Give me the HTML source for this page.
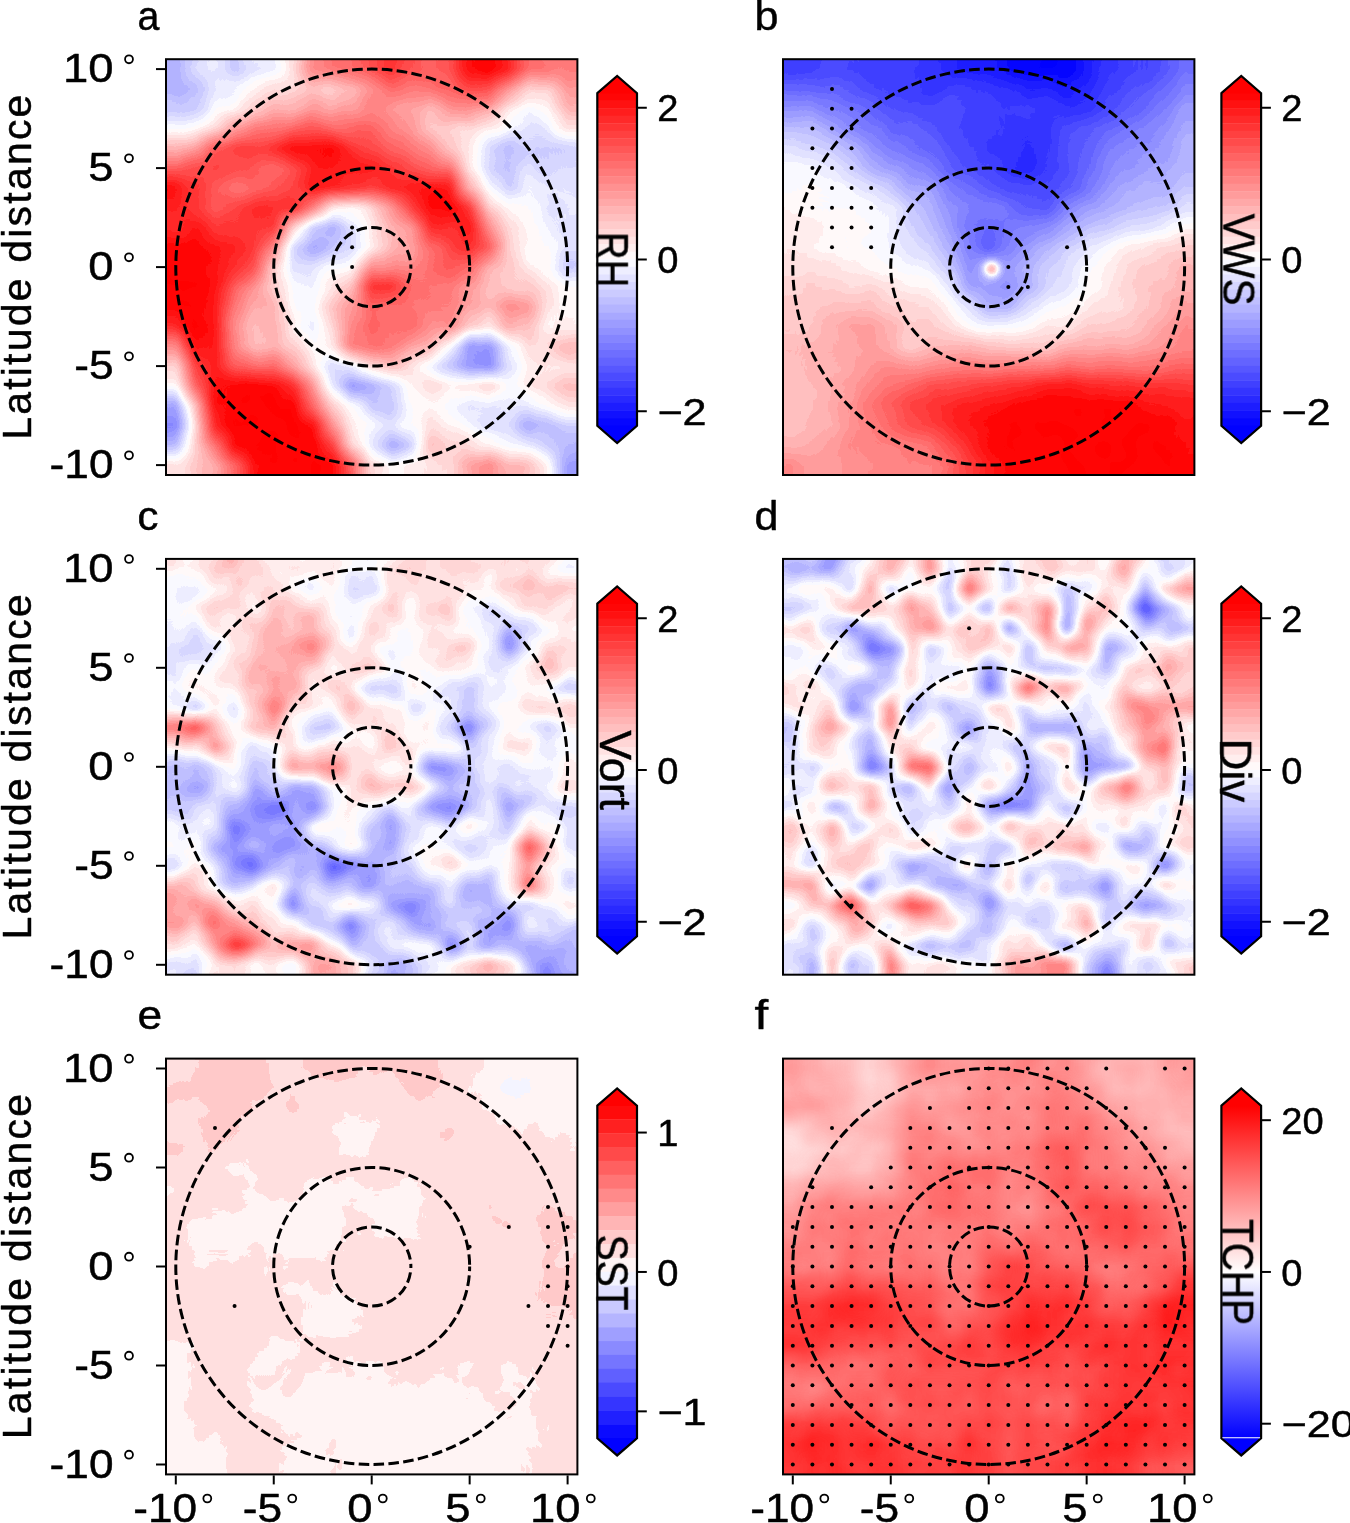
<!DOCTYPE html>
<html><head><meta charset="utf-8"><title>Composite anomalies</title>
<style>
html,body{margin:0;padding:0;background:#fff}
body{width:1350px;height:1523px;overflow:hidden}
svg{display:block}
text{font-family:"Liberation Sans",sans-serif;fill:#000;stroke:#000;stroke-width:.45px;stroke-linejoin:round}
.tl{font-size:40.6px}
.pl{font-size:41px}
.al{font-size:41px;letter-spacing:2.2px}
.ct{font-size:36.3px}
.cl{font-size:43.5px}
</style></head><body>
<svg width="1350" height="1523" viewBox="0 0 1350 1523">
<defs>
<linearGradient id="vr" x1="0" y1="0" x2="0" y2="1"><stop offset="0" stop-color="#fff" stop-opacity="0"/><stop offset=".5" stop-color="#fff" stop-opacity="1"/><stop offset="1" stop-color="#fff"/></linearGradient>
<mask id="vm" maskContentUnits="objectBoundingBox"><rect width="1" height="1" fill="url(#vr)"/></mask>
<linearGradient id="a0" gradientUnits="userSpaceOnUse" x1="166" x2="577.4" y1="0" y2="0"><stop offset=".024" stop-color="#5b5b5b"/><stop offset=".071" stop-color="#6d6d6d"/><stop offset=".119" stop-color="#767676"/><stop offset=".167" stop-color="#676767"/><stop offset=".214" stop-color="#767676"/><stop offset=".262" stop-color="#797979"/><stop offset=".310" stop-color="#8e8e8e"/><stop offset=".357" stop-color="#b6b6b6"/><stop offset=".405" stop-color="#c3c3c3"/><stop offset=".452" stop-color="#c9c9c9"/><stop offset=".500" stop-color="#d5d5d5"/><stop offset=".548" stop-color="#e1e1e1"/><stop offset=".595" stop-color="#d5d5d5"/><stop offset=".643" stop-color="#c9c9c9"/><stop offset=".690" stop-color="#d5d5d5"/><stop offset=".738" stop-color="#f3f3f3"/><stop offset=".786" stop-color="#f9f9f9"/><stop offset=".833" stop-color="#e7e7e7"/><stop offset=".881" stop-color="#c3c3c3"/><stop offset=".929" stop-color="#c3c3c3"/><stop offset=".976" stop-color="#bcbcbc"/></linearGradient>
<linearGradient id="a1" gradientUnits="userSpaceOnUse" x1="166" x2="577.4" y1="0" y2="0"><stop offset=".024" stop-color="#5b5b5b"/><stop offset=".071" stop-color="#616161"/><stop offset=".119" stop-color="#767676"/><stop offset=".167" stop-color="#797979"/><stop offset=".214" stop-color="#868686"/><stop offset=".262" stop-color="#8e8e8e"/><stop offset=".310" stop-color="#929292"/><stop offset=".357" stop-color="#9e9e9e"/><stop offset=".405" stop-color="#989898"/><stop offset=".452" stop-color="#9e9e9e"/><stop offset=".500" stop-color="#b6b6b6"/><stop offset=".548" stop-color="#c3c3c3"/><stop offset=".643" stop-color="#c3c3c3"/><stop offset=".690" stop-color="#c9c9c9"/><stop offset=".738" stop-color="#dbdbdb"/><stop offset=".786" stop-color="#d5d5d5"/><stop offset=".833" stop-color="#b6b6b6"/><stop offset=".881" stop-color="#989898"/><stop offset=".929" stop-color="#989898"/><stop offset=".976" stop-color="#b0b0b0"/></linearGradient>
<linearGradient id="a2" gradientUnits="userSpaceOnUse" x1="166" x2="577.4" y1="0" y2="0"><stop offset=".024" stop-color="#656565"/><stop offset=".071" stop-color="#676767"/><stop offset=".119" stop-color="#7c7c7c"/><stop offset=".167" stop-color="#838383"/><stop offset=".214" stop-color="#989898"/><stop offset=".262" stop-color="#a4a4a4"/><stop offset=".310" stop-color="#a7a7a7"/><stop offset=".357" stop-color="#b0b0b0"/><stop offset=".405" stop-color="#aaa"/><stop offset=".452" stop-color="#b0b0b0"/><stop offset=".500" stop-color="#bcbcbc"/><stop offset=".548" stop-color="#b0b0b0"/><stop offset=".595" stop-color="#aaa"/><stop offset=".643" stop-color="#a4a4a4"/><stop offset=".690" stop-color="#b0b0b0"/><stop offset=".738" stop-color="#b6b6b6"/><stop offset=".786" stop-color="#aaa"/><stop offset=".833" stop-color="#8c8c8c"/><stop offset=".881" stop-color="#797979"/><stop offset=".929" stop-color="#828282"/><stop offset=".976" stop-color="#a4a4a4"/></linearGradient>
<linearGradient id="a3" gradientUnits="userSpaceOnUse" x1="166" x2="577.4" y1="0" y2="0"><stop offset=".024" stop-color="#7d7d7d"/><stop offset=".071" stop-color="#808080"/><stop offset=".119" stop-color="#929292"/><stop offset=".167" stop-color="#b0b0b0"/><stop offset=".214" stop-color="#bcbcbc"/><stop offset=".262" stop-color="#c3c3c3"/><stop offset=".310" stop-color="#c9c9c9"/><stop offset=".357" stop-color="#cfcfcf"/><stop offset=".405" stop-color="#c9c9c9"/><stop offset=".500" stop-color="#c9c9c9"/><stop offset=".548" stop-color="#bcbcbc"/><stop offset=".595" stop-color="#b0b0b0"/><stop offset=".643" stop-color="#9a9a9a"/><stop offset=".690" stop-color="#989898"/><stop offset=".738" stop-color="#929292"/><stop offset=".786" stop-color="#868686"/><stop offset=".833" stop-color="#7d7d7d"/><stop offset=".881" stop-color="#737373"/><stop offset=".929" stop-color="#767676"/><stop offset=".976" stop-color="#8c8c8c"/></linearGradient>
<linearGradient id="a4" gradientUnits="userSpaceOnUse" x1="166" x2="577.4" y1="0" y2="0"><stop offset=".024" stop-color="#a4a4a4"/><stop offset=".071" stop-color="#b0b0b0"/><stop offset=".119" stop-color="#cfcfcf"/><stop offset=".167" stop-color="#dbdbdb"/><stop offset=".214" stop-color="#dbdbdb"/><stop offset=".262" stop-color="#e1e1e1"/><stop offset=".310" stop-color="#f3f3f3"/><stop offset=".357" stop-color="#f9f9f9"/><stop offset=".405" stop-color="#f3f3f3"/><stop offset=".452" stop-color="#e1e1e1"/><stop offset=".500" stop-color="#d5d5d5"/><stop offset=".548" stop-color="#cfcfcf"/><stop offset=".595" stop-color="#c3c3c3"/><stop offset=".643" stop-color="#b0b0b0"/><stop offset=".690" stop-color="#989898"/><stop offset=".738" stop-color="#868686"/><stop offset=".786" stop-color="#6d6d6d"/><stop offset=".833" stop-color="#5f5f5f"/><stop offset=".881" stop-color="#6a6a6a"/><stop offset=".929" stop-color="#676767"/><stop offset=".976" stop-color="#6d6d6d"/></linearGradient>
<linearGradient id="a5" gradientUnits="userSpaceOnUse" x1="166" x2="577.4" y1="0" y2="0"><stop offset=".024" stop-color="#c9c9c9"/><stop offset=".071" stop-color="#d5d5d5"/><stop offset=".119" stop-color="#dbdbdb"/><stop offset=".167" stop-color="#d5d5d5"/><stop offset=".214" stop-color="#cfcfcf"/><stop offset=".262" stop-color="#c9c9c9"/><stop offset=".310" stop-color="#d7d7d7"/><stop offset=".357" stop-color="#ededed"/><stop offset=".405" stop-color="#f0f0f0"/><stop offset=".452" stop-color="#f0f0f0"/><stop offset=".500" stop-color="#ededed"/><stop offset=".548" stop-color="#e1e1e1"/><stop offset=".595" stop-color="#d5d5d5"/><stop offset=".643" stop-color="#c9c9c9"/><stop offset=".690" stop-color="#c3c3c3"/><stop offset=".738" stop-color="#8c8c8c"/><stop offset=".786" stop-color="#717171"/><stop offset=".833" stop-color="#616161"/><stop offset=".881" stop-color="#737373"/><stop offset=".929" stop-color="#676767"/><stop offset=".976" stop-color="#717171"/></linearGradient>
<linearGradient id="a6" gradientUnits="userSpaceOnUse" x1="166" x2="577.4" y1="0" y2="0"><stop offset=".024" stop-color="#f3f3f3"/><stop offset=".071" stop-color="#e1e1e1"/><stop offset=".119" stop-color="#cfcfcf"/><stop offset=".167" stop-color="#c3c3c3"/><stop offset=".214" stop-color="#c9c9c9"/><stop offset=".262" stop-color="#cfcfcf"/><stop offset=".310" stop-color="#d7d7d7"/><stop offset=".357" stop-color="#ededed"/><stop offset=".405" stop-color="#e7e7e7"/><stop offset=".452" stop-color="#e1e1e1"/><stop offset=".500" stop-color="#dbdbdb"/><stop offset=".548" stop-color="#e7e7e7"/><stop offset=".595" stop-color="#ededed"/><stop offset=".643" stop-color="#f3f3f3"/><stop offset=".690" stop-color="#ededed"/><stop offset=".738" stop-color="#a4a4a4"/><stop offset=".786" stop-color="#7d7d7d"/><stop offset=".833" stop-color="#676767"/><stop offset=".881" stop-color="#7d7d7d"/><stop offset=".929" stop-color="#737373"/><stop offset=".976" stop-color="#767676"/></linearGradient>
<linearGradient id="a7" gradientUnits="userSpaceOnUse" x1="166" x2="577.4" y1="0" y2="0"><stop offset=".024" stop-color="#e7e7e7"/><stop offset=".071" stop-color="#e1e1e1"/><stop offset=".119" stop-color="#cfcfcf"/><stop offset=".167" stop-color="#d5d5d5"/><stop offset=".214" stop-color="#e7e7e7"/><stop offset=".262" stop-color="#e7e7e7"/><stop offset=".310" stop-color="#e1e1e1"/><stop offset=".357" stop-color="#bcbcbc"/><stop offset=".405" stop-color="#8c8c8c"/><stop offset=".452" stop-color="#808080"/><stop offset=".500" stop-color="#929292"/><stop offset=".548" stop-color="#b0b0b0"/><stop offset=".595" stop-color="#dbdbdb"/><stop offset=".643" stop-color="#f9f9f9"/><stop offset=".690" stop-color="#f9f9f9"/><stop offset=".738" stop-color="#dbdbdb"/><stop offset=".786" stop-color="#989898"/><stop offset=".833" stop-color="#838383"/><stop offset=".881" stop-color="#828282"/><stop offset=".929" stop-color="#737373"/><stop offset=".976" stop-color="#737373"/></linearGradient>
<linearGradient id="a8" gradientUnits="userSpaceOnUse" x1="166" x2="577.4" y1="0" y2="0"><stop offset=".024" stop-color="#e7e7e7"/><stop offset=".071" stop-color="#ededed"/><stop offset=".119" stop-color="#e1e1e1"/><stop offset=".214" stop-color="#e1e1e1"/><stop offset=".262" stop-color="#dbdbdb"/><stop offset=".310" stop-color="#989898"/><stop offset=".357" stop-color="#676767"/><stop offset=".405" stop-color="#5b5b5b"/><stop offset=".452" stop-color="#737373"/><stop offset=".500" stop-color="#8c8c8c"/><stop offset=".548" stop-color="#a4a4a4"/><stop offset=".595" stop-color="#b0b0b0"/><stop offset=".643" stop-color="#e7e7e7"/><stop offset=".690" stop-color="#e1e1e1"/><stop offset=".738" stop-color="#f3f3f3"/><stop offset=".786" stop-color="#b6b6b6"/><stop offset=".833" stop-color="#929292"/><stop offset=".881" stop-color="#808080"/><stop offset=".929" stop-color="#7d7d7d"/><stop offset=".976" stop-color="#717171"/></linearGradient>
<linearGradient id="a9" gradientUnits="userSpaceOnUse" x1="166" x2="577.4" y1="0" y2="0"><stop offset=".024" stop-color="#f3f3f3"/><stop offset=".071" stop-color="#f9f9f9"/><stop offset=".119" stop-color="#ededed"/><stop offset=".167" stop-color="#e7e7e7"/><stop offset=".214" stop-color="#e1e1e1"/><stop offset=".262" stop-color="#bcbcbc"/><stop offset=".310" stop-color="#6d6d6d"/><stop offset=".357" stop-color="#575757"/><stop offset=".405" stop-color="#616161"/><stop offset=".452" stop-color="#6d6d6d"/><stop offset=".500" stop-color="#868686"/><stop offset=".548" stop-color="#a4a4a4"/><stop offset=".595" stop-color="#aaa"/><stop offset=".643" stop-color="#c9c9c9"/><stop offset=".690" stop-color="#d5d5d5"/><stop offset=".738" stop-color="#e7e7e7"/><stop offset=".786" stop-color="#cfcfcf"/><stop offset=".833" stop-color="#989898"/><stop offset=".881" stop-color="#828282"/><stop offset=".929" stop-color="#828282"/><stop offset=".976" stop-color="#737373"/></linearGradient>
<linearGradient id="a10" gradientUnits="userSpaceOnUse" x1="166" x2="577.4" y1="0" y2="0"><stop offset=".024" stop-color="#f9f9f9"/><stop offset=".071" stop-color="#f9f9f9"/><stop offset=".119" stop-color="#f3f3f3"/><stop offset=".167" stop-color="#e7e7e7"/><stop offset=".214" stop-color="#cfcfcf"/><stop offset=".262" stop-color="#989898"/><stop offset=".310" stop-color="#6d6d6d"/><stop offset=".357" stop-color="#737373"/><stop offset=".405" stop-color="#7c7c7c"/><stop offset=".452" stop-color="#828282"/><stop offset=".500" stop-color="#b6b6b6"/><stop offset=".595" stop-color="#b6b6b6"/><stop offset=".643" stop-color="#c3c3c3"/><stop offset=".690" stop-color="#cfcfcf"/><stop offset=".738" stop-color="#c9c9c9"/><stop offset=".786" stop-color="#a4a4a4"/><stop offset=".833" stop-color="#989898"/><stop offset=".881" stop-color="#898989"/><stop offset=".929" stop-color="#808080"/><stop offset=".976" stop-color="#676767"/></linearGradient>
<linearGradient id="a11" gradientUnits="userSpaceOnUse" x1="166" x2="577.4" y1="0" y2="0"><stop offset=".024" stop-color="#f9f9f9"/><stop offset=".071" stop-color="#f9f9f9"/><stop offset=".119" stop-color="#f3f3f3"/><stop offset=".167" stop-color="#cfcfcf"/><stop offset=".214" stop-color="#b6b6b6"/><stop offset=".262" stop-color="#989898"/><stop offset=".310" stop-color="#7c7c7c"/><stop offset=".357" stop-color="#7d7d7d"/><stop offset=".405" stop-color="#8c8c8c"/><stop offset=".452" stop-color="#a4a4a4"/><stop offset=".500" stop-color="#e1e1e1"/><stop offset=".548" stop-color="#e7e7e7"/><stop offset=".595" stop-color="#c9c9c9"/><stop offset=".643" stop-color="#c3c3c3"/><stop offset=".690" stop-color="#c3c3c3"/><stop offset=".738" stop-color="#b0b0b0"/><stop offset=".786" stop-color="#9e9e9e"/><stop offset=".833" stop-color="#9a9a9a"/><stop offset=".881" stop-color="#989898"/><stop offset=".929" stop-color="#8c8c8c"/><stop offset=".976" stop-color="#808080"/></linearGradient>
<linearGradient id="a12" gradientUnits="userSpaceOnUse" x1="166" x2="577.4" y1="0" y2="0"><stop offset=".024" stop-color="#f9f9f9"/><stop offset=".071" stop-color="#f9f9f9"/><stop offset=".119" stop-color="#ededed"/><stop offset=".167" stop-color="#bcbcbc"/><stop offset=".214" stop-color="#aaa"/><stop offset=".262" stop-color="#a4a4a4"/><stop offset=".310" stop-color="#808080"/><stop offset=".357" stop-color="#797979"/><stop offset=".405" stop-color="#9e9e9e"/><stop offset=".452" stop-color="#b0b0b0"/><stop offset=".500" stop-color="#c9c9c9"/><stop offset=".548" stop-color="#c3c3c3"/><stop offset=".595" stop-color="#c3c3c3"/><stop offset=".643" stop-color="#bcbcbc"/><stop offset=".690" stop-color="#bcbcbc"/><stop offset=".738" stop-color="#aaa"/><stop offset=".786" stop-color="#a4a4a4"/><stop offset=".833" stop-color="#b3b3b3"/><stop offset=".881" stop-color="#b0b0b0"/><stop offset=".929" stop-color="#8e8e8e"/><stop offset=".976" stop-color="#808080"/></linearGradient>
<linearGradient id="a13" gradientUnits="userSpaceOnUse" x1="166" x2="577.4" y1="0" y2="0"><stop offset=".024" stop-color="#e7e7e7"/><stop offset=".071" stop-color="#f9f9f9"/><stop offset=".119" stop-color="#ededed"/><stop offset=".167" stop-color="#b6b6b6"/><stop offset=".214" stop-color="#9e9e9e"/><stop offset=".262" stop-color="#a4a4a4"/><stop offset=".310" stop-color="#898989"/><stop offset=".357" stop-color="#767676"/><stop offset=".405" stop-color="#989898"/><stop offset=".452" stop-color="#b6b6b6"/><stop offset=".500" stop-color="#c9c9c9"/><stop offset=".548" stop-color="#c3c3c3"/><stop offset=".595" stop-color="#c9c9c9"/><stop offset=".643" stop-color="#b6b6b6"/><stop offset=".690" stop-color="#b6b6b6"/><stop offset=".738" stop-color="#989898"/><stop offset=".786" stop-color="#8c8c8c"/><stop offset=".833" stop-color="#a4a4a4"/><stop offset=".881" stop-color="#9e9e9e"/><stop offset=".929" stop-color="#868686"/><stop offset=".976" stop-color="#868686"/></linearGradient>
<linearGradient id="a14" gradientUnits="userSpaceOnUse" x1="166" x2="577.4" y1="0" y2="0"><stop offset=".024" stop-color="#b6b6b6"/><stop offset=".071" stop-color="#f3f3f3"/><stop offset=".119" stop-color="#ededed"/><stop offset=".167" stop-color="#bcbcbc"/><stop offset=".214" stop-color="#9e9e9e"/><stop offset=".262" stop-color="#a4a4a4"/><stop offset=".310" stop-color="#989898"/><stop offset=".357" stop-color="#7c7c7c"/><stop offset=".405" stop-color="#8c8c8c"/><stop offset=".452" stop-color="#bcbcbc"/><stop offset=".500" stop-color="#c3c3c3"/><stop offset=".548" stop-color="#c3c3c3"/><stop offset=".595" stop-color="#b0b0b0"/><stop offset=".643" stop-color="#9e9e9e"/><stop offset=".690" stop-color="#808080"/><stop offset=".738" stop-color="#4f4f4f"/><stop offset=".786" stop-color="#4f4f4f"/><stop offset=".833" stop-color="#797979"/><stop offset=".881" stop-color="#8e8e8e"/><stop offset=".929" stop-color="#929292"/><stop offset=".976" stop-color="#a4a4a4"/></linearGradient>
<linearGradient id="a15" gradientUnits="userSpaceOnUse" x1="166" x2="577.4" y1="0" y2="0"><stop offset=".024" stop-color="#929292"/><stop offset=".071" stop-color="#dbdbdb"/><stop offset=".119" stop-color="#ededed"/><stop offset=".167" stop-color="#cfcfcf"/><stop offset=".214" stop-color="#c3c3c3"/><stop offset=".262" stop-color="#c9c9c9"/><stop offset=".310" stop-color="#b0b0b0"/><stop offset=".357" stop-color="#8c8c8c"/><stop offset=".405" stop-color="#6d6d6d"/><stop offset=".452" stop-color="#797979"/><stop offset=".500" stop-color="#929292"/><stop offset=".548" stop-color="#9e9e9e"/><stop offset=".595" stop-color="#8e8e8e"/><stop offset=".643" stop-color="#767676"/><stop offset=".690" stop-color="#676767"/><stop offset=".738" stop-color="#494949"/><stop offset=".786" stop-color="#4c4c4c"/><stop offset=".833" stop-color="#717171"/><stop offset=".881" stop-color="#868686"/><stop offset=".929" stop-color="#8c8c8c"/><stop offset=".976" stop-color="#8c8c8c"/></linearGradient>
<linearGradient id="a16" gradientUnits="userSpaceOnUse" x1="166" x2="577.4" y1="0" y2="0"><stop offset=".024" stop-color="#828282"/><stop offset=".071" stop-color="#c9c9c9"/><stop offset=".119" stop-color="#f3f3f3"/><stop offset=".167" stop-color="#f9f9f9"/><stop offset=".214" stop-color="#f9f9f9"/><stop offset=".262" stop-color="#f7f7f7"/><stop offset=".310" stop-color="#e1e1e1"/><stop offset=".357" stop-color="#b0b0b0"/><stop offset=".405" stop-color="#737373"/><stop offset=".452" stop-color="#4f4f4f"/><stop offset=".500" stop-color="#5b5b5b"/><stop offset=".548" stop-color="#6d6d6d"/><stop offset=".595" stop-color="#868686"/><stop offset=".643" stop-color="#929292"/><stop offset=".690" stop-color="#898989"/><stop offset=".738" stop-color="#8e8e8e"/><stop offset=".786" stop-color="#989898"/><stop offset=".833" stop-color="#7d7d7d"/><stop offset=".881" stop-color="#898989"/><stop offset=".929" stop-color="#929292"/><stop offset=".976" stop-color="#9e9e9e"/></linearGradient>
<linearGradient id="a17" gradientUnits="userSpaceOnUse" x1="166" x2="577.4" y1="0" y2="0"><stop offset=".024" stop-color="#555"/><stop offset=".071" stop-color="#9e9e9e"/><stop offset=".119" stop-color="#f3f3f3"/><stop offset=".167" stop-color="#f9f9f9"/><stop offset=".310" stop-color="#f9f9f9"/><stop offset=".357" stop-color="#c9c9c9"/><stop offset=".405" stop-color="#989898"/><stop offset=".452" stop-color="#828282"/><stop offset=".500" stop-color="#656565"/><stop offset=".548" stop-color="#676767"/><stop offset=".595" stop-color="#7c7c7c"/><stop offset=".643" stop-color="#838383"/><stop offset=".690" stop-color="#808080"/><stop offset=".738" stop-color="#717171"/><stop offset=".786" stop-color="#737373"/><stop offset=".833" stop-color="#737373"/><stop offset=".881" stop-color="#767676"/><stop offset=".929" stop-color="#828282"/><stop offset=".976" stop-color="#8e8e8e"/></linearGradient>
<linearGradient id="a18" gradientUnits="userSpaceOnUse" x1="166" x2="577.4" y1="0" y2="0"><stop offset=".024" stop-color="#434343"/><stop offset=".071" stop-color="#929292"/><stop offset=".119" stop-color="#e7e7e7"/><stop offset=".167" stop-color="#f9f9f9"/><stop offset=".310" stop-color="#f9f9f9"/><stop offset=".357" stop-color="#f3f3f3"/><stop offset=".405" stop-color="#b0b0b0"/><stop offset=".452" stop-color="#8c8c8c"/><stop offset=".500" stop-color="#7c7c7c"/><stop offset=".548" stop-color="#737373"/><stop offset=".595" stop-color="#808080"/><stop offset=".643" stop-color="#8e8e8e"/><stop offset=".690" stop-color="#868686"/><stop offset=".738" stop-color="#797979"/><stop offset=".786" stop-color="#717171"/><stop offset=".833" stop-color="#6d6d6d"/><stop offset=".881" stop-color="#555"/><stop offset=".929" stop-color="#616161"/><stop offset=".976" stop-color="#6d6d6d"/></linearGradient>
<linearGradient id="a19" gradientUnits="userSpaceOnUse" x1="166" x2="577.4" y1="0" y2="0"><stop offset=".024" stop-color="#616161"/><stop offset=".071" stop-color="#989898"/><stop offset=".119" stop-color="#c3c3c3"/><stop offset=".167" stop-color="#f3f3f3"/><stop offset=".214" stop-color="#f9f9f9"/><stop offset=".357" stop-color="#f9f9f9"/><stop offset=".405" stop-color="#dbdbdb"/><stop offset=".452" stop-color="#929292"/><stop offset=".500" stop-color="#767676"/><stop offset=".548" stop-color="#575757"/><stop offset=".595" stop-color="#656565"/><stop offset=".643" stop-color="#9e9e9e"/><stop offset=".690" stop-color="#989898"/><stop offset=".738" stop-color="#929292"/><stop offset=".786" stop-color="#868686"/><stop offset=".833" stop-color="#7c7c7c"/><stop offset=".881" stop-color="#797979"/><stop offset=".929" stop-color="#676767"/><stop offset=".976" stop-color="#5b5b5b"/></linearGradient>
<linearGradient id="a20" gradientUnits="userSpaceOnUse" x1="166" x2="577.4" y1="0" y2="0"><stop offset=".024" stop-color="#8c8c8c"/><stop offset=".071" stop-color="#989898"/><stop offset=".119" stop-color="#aaa"/><stop offset=".167" stop-color="#c9c9c9"/><stop offset=".214" stop-color="#f3f3f3"/><stop offset=".262" stop-color="#f9f9f9"/><stop offset=".405" stop-color="#f9f9f9"/><stop offset=".452" stop-color="#c9c9c9"/><stop offset=".500" stop-color="#929292"/><stop offset=".548" stop-color="#828282"/><stop offset=".595" stop-color="#868686"/><stop offset=".643" stop-color="#8e8e8e"/><stop offset=".690" stop-color="#929292"/><stop offset=".738" stop-color="#aaa"/><stop offset=".786" stop-color="#b6b6b6"/><stop offset=".833" stop-color="#a4a4a4"/><stop offset=".881" stop-color="#9e9e9e"/><stop offset=".929" stop-color="#868686"/><stop offset=".976" stop-color="#4f4f4f"/></linearGradient>
<clipPath id="cpa"><rect x="166" y="59.2" width="411.4" height="415.8"/></clipPath>
<filter id="qa" filterUnits="userSpaceOnUse" x="156.2" y="49.4" width="431" height="435.4" color-interpolation-filters="sRGB"><feGaussianBlur stdDeviation="2.4" result="b"/><feTurbulence type="fractalNoise" baseFrequency="0.05" numOctaves="1" seed="3"/><feColorMatrix type="matrix" values="1 0 0 0 0 1 0 0 0 0 1 0 0 0 0 0 0 0 0 1"/><feComposite in="b" operator="arithmetic" k1="0" k2="1" k3="0.05" k4="-0.025"/><feComponentTransfer><feFuncR type="discrete" tableValues="0 0.023 0.068 0.114 0.159 0.205 0.25 0.295 0.341 0.386 0.432 0.477 0.523 0.568 0.614 0.659 0.705 0.75 0.795 0.841 0.886 0.932 0.977 1 1 1 1 1 1 1 1 1 1 1 1 1 1 1 1 1 1 1 1 1 1 1"/><feFuncG type="discrete" tableValues="0 0.023 0.068 0.114 0.159 0.205 0.25 0.295 0.341 0.386 0.432 0.477 0.523 0.568 0.614 0.659 0.705 0.75 0.795 0.841 0.886 0.932 0.977 0.977 0.932 0.886 0.841 0.795 0.75 0.705 0.659 0.614 0.568 0.523 0.477 0.432 0.386 0.341 0.295 0.25 0.205 0.159 0.114 0.068 0.023 0"/><feFuncB type="discrete" tableValues="1 1 1 1 1 1 1 1 1 1 1 1 1 1 1 1 1 1 1 1 1 1 1 0.977 0.932 0.886 0.841 0.795 0.75 0.705 0.659 0.614 0.568 0.523 0.477 0.432 0.386 0.341 0.295 0.25 0.205 0.159 0.114 0.068 0.023 0"/></feComponentTransfer><feGaussianBlur stdDeviation=".6"/></filter>
<linearGradient id="b0" gradientUnits="userSpaceOnUse" x1="783" x2="1194.4" y1="0" y2="0"><stop offset=".024" stop-color="#242424"/><stop offset=".071" stop-color="#242424"/><stop offset=".119" stop-color="#282828"/><stop offset=".167" stop-color="#282828"/><stop offset=".214" stop-color="#242424"/><stop offset=".310" stop-color="#242424"/><stop offset=".357" stop-color="#1e1e1e"/><stop offset=".405" stop-color="#181818"/><stop offset=".452" stop-color="#141414"/><stop offset=".500" stop-color="#121212"/><stop offset=".548" stop-color="#0c0c0c"/><stop offset=".595" stop-color="#060606"/><stop offset=".690" stop-color="#060606"/><stop offset=".738" stop-color="#121212"/><stop offset=".786" stop-color="#1e1e1e"/><stop offset=".833" stop-color="#242424"/><stop offset=".881" stop-color="#282828"/><stop offset=".929" stop-color="#2d2d2d"/><stop offset=".976" stop-color="#3c3c3c"/></linearGradient>
<linearGradient id="b1" gradientUnits="userSpaceOnUse" x1="783" x2="1194.4" y1="0" y2="0"><stop offset=".024" stop-color="#363636"/><stop offset=".071" stop-color="#343434"/><stop offset=".119" stop-color="#343434"/><stop offset=".167" stop-color="#303030"/><stop offset=".214" stop-color="#282828"/><stop offset=".262" stop-color="#242424"/><stop offset=".310" stop-color="#242424"/><stop offset=".357" stop-color="#202020"/><stop offset=".405" stop-color="#242424"/><stop offset=".452" stop-color="#242424"/><stop offset=".500" stop-color="#202020"/><stop offset=".548" stop-color="#1e1e1e"/><stop offset=".595" stop-color="#181818"/><stop offset=".643" stop-color="#181818"/><stop offset=".690" stop-color="#121212"/><stop offset=".738" stop-color="#181818"/><stop offset=".786" stop-color="#242424"/><stop offset=".833" stop-color="#2a2a2a"/><stop offset=".881" stop-color="#303030"/><stop offset=".929" stop-color="#393939"/><stop offset=".976" stop-color="#454545"/></linearGradient>
<linearGradient id="b2" gradientUnits="userSpaceOnUse" x1="783" x2="1194.4" y1="0" y2="0"><stop offset=".024" stop-color="#4c4c4c"/><stop offset=".071" stop-color="#494949"/><stop offset=".119" stop-color="#434343"/><stop offset=".167" stop-color="#3c3c3c"/><stop offset=".214" stop-color="#363636"/><stop offset=".262" stop-color="#2d2d2d"/><stop offset=".310" stop-color="#282828"/><stop offset=".357" stop-color="#282828"/><stop offset=".405" stop-color="#2a2a2a"/><stop offset=".452" stop-color="#282828"/><stop offset=".500" stop-color="#242424"/><stop offset=".548" stop-color="#202020"/><stop offset=".595" stop-color="#242424"/><stop offset=".643" stop-color="#202020"/><stop offset=".690" stop-color="#1e1e1e"/><stop offset=".738" stop-color="#202020"/><stop offset=".786" stop-color="#2a2a2a"/><stop offset=".833" stop-color="#303030"/><stop offset=".881" stop-color="#393939"/><stop offset=".929" stop-color="#434343"/><stop offset=".976" stop-color="#4f4f4f"/></linearGradient>
<linearGradient id="b3" gradientUnits="userSpaceOnUse" x1="783" x2="1194.4" y1="0" y2="0"><stop offset=".024" stop-color="#616161"/><stop offset=".071" stop-color="#5f5f5f"/><stop offset=".119" stop-color="#555"/><stop offset=".167" stop-color="#494949"/><stop offset=".214" stop-color="#404040"/><stop offset=".262" stop-color="#363636"/><stop offset=".310" stop-color="#343434"/><stop offset=".357" stop-color="#303030"/><stop offset=".405" stop-color="#2a2a2a"/><stop offset=".452" stop-color="#252525"/><stop offset=".500" stop-color="#242424"/><stop offset=".548" stop-color="#202020"/><stop offset=".595" stop-color="#1e1e1e"/><stop offset=".643" stop-color="#202020"/><stop offset=".690" stop-color="#2a2a2a"/><stop offset=".738" stop-color="#2d2d2d"/><stop offset=".786" stop-color="#343434"/><stop offset=".833" stop-color="#3c3c3c"/><stop offset=".881" stop-color="#434343"/><stop offset=".929" stop-color="#4c4c4c"/><stop offset=".976" stop-color="#585858"/></linearGradient>
<linearGradient id="b4" gradientUnits="userSpaceOnUse" x1="783" x2="1194.4" y1="0" y2="0"><stop offset=".024" stop-color="#717171"/><stop offset=".071" stop-color="#6d6d6d"/><stop offset=".119" stop-color="#676767"/><stop offset=".167" stop-color="#5b5b5b"/><stop offset=".214" stop-color="#4c4c4c"/><stop offset=".262" stop-color="#434343"/><stop offset=".310" stop-color="#3c3c3c"/><stop offset=".357" stop-color="#363636"/><stop offset=".405" stop-color="#2d2d2d"/><stop offset=".452" stop-color="#262626"/><stop offset=".500" stop-color="#202020"/><stop offset=".548" stop-color="#202020"/><stop offset=".595" stop-color="#181818"/><stop offset=".643" stop-color="#202020"/><stop offset=".690" stop-color="#2d2d2d"/><stop offset=".738" stop-color="#363636"/><stop offset=".786" stop-color="#404040"/><stop offset=".833" stop-color="#494949"/><stop offset=".881" stop-color="#4c4c4c"/><stop offset=".929" stop-color="#515151"/><stop offset=".976" stop-color="#5b5b5b"/></linearGradient>
<linearGradient id="b5" gradientUnits="userSpaceOnUse" x1="783" x2="1194.4" y1="0" y2="0"><stop offset=".024" stop-color="#7c7c7c"/><stop offset=".071" stop-color="#7c7c7c"/><stop offset=".119" stop-color="#767676"/><stop offset=".167" stop-color="#6a6a6a"/><stop offset=".214" stop-color="#5b5b5b"/><stop offset=".262" stop-color="#515151"/><stop offset=".310" stop-color="#494949"/><stop offset=".357" stop-color="#434343"/><stop offset=".405" stop-color="#343434"/><stop offset=".452" stop-color="#2a2a2a"/><stop offset=".500" stop-color="#282828"/><stop offset=".548" stop-color="#202020"/><stop offset=".595" stop-color="#181818"/><stop offset=".643" stop-color="#242424"/><stop offset=".690" stop-color="#2a2a2a"/><stop offset=".738" stop-color="#363636"/><stop offset=".786" stop-color="#454545"/><stop offset=".833" stop-color="#4f4f4f"/><stop offset=".881" stop-color="#515151"/><stop offset=".929" stop-color="#555"/><stop offset=".976" stop-color="#5d5d5d"/></linearGradient>
<linearGradient id="b6" gradientUnits="userSpaceOnUse" x1="783" x2="1194.4" y1="0" y2="0"><stop offset=".024" stop-color="#808080"/><stop offset=".071" stop-color="#7e7e7e"/><stop offset=".119" stop-color="#7d7d7d"/><stop offset=".167" stop-color="#797979"/><stop offset=".214" stop-color="#717171"/><stop offset=".262" stop-color="#656565"/><stop offset=".310" stop-color="#585858"/><stop offset=".357" stop-color="#515151"/><stop offset=".405" stop-color="#434343"/><stop offset=".452" stop-color="#393939"/><stop offset=".500" stop-color="#303030"/><stop offset=".548" stop-color="#2a2a2a"/><stop offset=".595" stop-color="#282828"/><stop offset=".643" stop-color="#2a2a2a"/><stop offset=".690" stop-color="#303030"/><stop offset=".738" stop-color="#3c3c3c"/><stop offset=".786" stop-color="#4c4c4c"/><stop offset=".833" stop-color="#585858"/><stop offset=".881" stop-color="#5b5b5b"/><stop offset=".929" stop-color="#5b5b5b"/><stop offset=".976" stop-color="#656565"/></linearGradient>
<linearGradient id="b7" gradientUnits="userSpaceOnUse" x1="783" x2="1194.4" y1="0" y2="0"><stop offset=".024" stop-color="#878787"/><stop offset=".071" stop-color="#838383"/><stop offset=".119" stop-color="#808080"/><stop offset=".167" stop-color="#808080"/><stop offset=".214" stop-color="#7e7e7e"/><stop offset=".262" stop-color="#787878"/><stop offset=".310" stop-color="#676767"/><stop offset=".357" stop-color="#5b5b5b"/><stop offset=".405" stop-color="#4c4c4c"/><stop offset=".452" stop-color="#434343"/><stop offset=".500" stop-color="#434343"/><stop offset=".548" stop-color="#3c3c3c"/><stop offset=".595" stop-color="#303030"/><stop offset=".643" stop-color="#303030"/><stop offset=".690" stop-color="#434343"/><stop offset=".738" stop-color="#515151"/><stop offset=".786" stop-color="#585858"/><stop offset=".833" stop-color="#5d5d5d"/><stop offset=".881" stop-color="#616161"/><stop offset=".929" stop-color="#656565"/><stop offset=".976" stop-color="#717171"/></linearGradient>
<linearGradient id="b8" gradientUnits="userSpaceOnUse" x1="783" x2="1194.4" y1="0" y2="0"><stop offset=".024" stop-color="#898989"/><stop offset=".071" stop-color="#898989"/><stop offset=".119" stop-color="#828282"/><stop offset=".167" stop-color="#818181"/><stop offset=".214" stop-color="#808080"/><stop offset=".262" stop-color="#787878"/><stop offset=".310" stop-color="#6d6d6d"/><stop offset=".357" stop-color="#616161"/><stop offset=".405" stop-color="#515151"/><stop offset=".452" stop-color="#3c3c3c"/><stop offset=".500" stop-color="#363636"/><stop offset=".548" stop-color="#404040"/><stop offset=".595" stop-color="#434343"/><stop offset=".643" stop-color="#494949"/><stop offset=".690" stop-color="#555"/><stop offset=".738" stop-color="#616161"/><stop offset=".786" stop-color="#676767"/><stop offset=".833" stop-color="#717171"/><stop offset=".881" stop-color="#737373"/><stop offset=".929" stop-color="#797979"/><stop offset=".976" stop-color="#838383"/></linearGradient>
<linearGradient id="b9" gradientUnits="userSpaceOnUse" x1="783" x2="1194.4" y1="0" y2="0"><stop offset=".024" stop-color="#898989"/><stop offset=".071" stop-color="#878787"/><stop offset=".119" stop-color="#828282"/><stop offset=".167" stop-color="#808080"/><stop offset=".214" stop-color="#808080"/><stop offset=".262" stop-color="#797979"/><stop offset=".310" stop-color="#717171"/><stop offset=".357" stop-color="#6a6a6a"/><stop offset=".405" stop-color="#5b5b5b"/><stop offset=".452" stop-color="#454545"/><stop offset=".500" stop-color="#303030"/><stop offset=".548" stop-color="#434343"/><stop offset=".595" stop-color="#515151"/><stop offset=".643" stop-color="#5b5b5b"/><stop offset=".690" stop-color="#676767"/><stop offset=".738" stop-color="#737373"/><stop offset=".786" stop-color="#7c7c7c"/><stop offset=".833" stop-color="#868686"/><stop offset=".881" stop-color="#8c8c8c"/><stop offset=".929" stop-color="#929292"/><stop offset=".976" stop-color="#989898"/></linearGradient>
<linearGradient id="b10" gradientUnits="userSpaceOnUse" x1="783" x2="1194.4" y1="0" y2="0"><stop offset=".024" stop-color="#8e8e8e"/><stop offset=".071" stop-color="#8e8e8e"/><stop offset=".119" stop-color="#8c8c8c"/><stop offset=".167" stop-color="#898989"/><stop offset=".214" stop-color="#838383"/><stop offset=".262" stop-color="#808080"/><stop offset=".310" stop-color="#7c7c7c"/><stop offset=".357" stop-color="#767676"/><stop offset=".405" stop-color="#656565"/><stop offset=".452" stop-color="#494949"/><stop offset=".500" stop-color="#616161"/><stop offset=".548" stop-color="#515151"/><stop offset=".595" stop-color="#5b5b5b"/><stop offset=".643" stop-color="#6a6a6a"/><stop offset=".690" stop-color="#717171"/><stop offset=".738" stop-color="#7d7d7d"/><stop offset=".786" stop-color="#878787"/><stop offset=".833" stop-color="#929292"/><stop offset=".881" stop-color="#989898"/><stop offset=".929" stop-color="#9a9a9a"/><stop offset=".976" stop-color="#a2a2a2"/></linearGradient>
<linearGradient id="b11" gradientUnits="userSpaceOnUse" x1="783" x2="1194.4" y1="0" y2="0"><stop offset=".024" stop-color="#949494"/><stop offset=".071" stop-color="#959595"/><stop offset=".119" stop-color="#959595"/><stop offset=".167" stop-color="#929292"/><stop offset=".214" stop-color="#929292"/><stop offset=".262" stop-color="#8c8c8c"/><stop offset=".310" stop-color="#878787"/><stop offset=".357" stop-color="#868686"/><stop offset=".405" stop-color="#767676"/><stop offset=".452" stop-color="#555"/><stop offset=".500" stop-color="#515151"/><stop offset=".548" stop-color="#4c4c4c"/><stop offset=".595" stop-color="#5b5b5b"/><stop offset=".643" stop-color="#6d6d6d"/><stop offset=".690" stop-color="#737373"/><stop offset=".738" stop-color="#808080"/><stop offset=".786" stop-color="#898989"/><stop offset=".833" stop-color="#929292"/><stop offset=".881" stop-color="#9a9a9a"/><stop offset=".929" stop-color="#9e9e9e"/><stop offset=".976" stop-color="#a7a7a7"/></linearGradient>
<linearGradient id="b12" gradientUnits="userSpaceOnUse" x1="783" x2="1194.4" y1="0" y2="0"><stop offset=".024" stop-color="#989898"/><stop offset=".071" stop-color="#9a9a9a"/><stop offset=".119" stop-color="#9e9e9e"/><stop offset=".214" stop-color="#9e9e9e"/><stop offset=".262" stop-color="#989898"/><stop offset=".310" stop-color="#929292"/><stop offset=".357" stop-color="#929292"/><stop offset=".405" stop-color="#838383"/><stop offset=".452" stop-color="#717171"/><stop offset=".500" stop-color="#585858"/><stop offset=".548" stop-color="#5b5b5b"/><stop offset=".595" stop-color="#717171"/><stop offset=".643" stop-color="#797979"/><stop offset=".690" stop-color="#808080"/><stop offset=".738" stop-color="#898989"/><stop offset=".786" stop-color="#8f8f8f"/><stop offset=".833" stop-color="#929292"/><stop offset=".881" stop-color="#9a9a9a"/><stop offset=".929" stop-color="#a4a4a4"/><stop offset=".976" stop-color="#aeaeae"/></linearGradient>
<linearGradient id="b13" gradientUnits="userSpaceOnUse" x1="783" x2="1194.4" y1="0" y2="0"><stop offset=".024" stop-color="#9a9a9a"/><stop offset=".071" stop-color="#9e9e9e"/><stop offset=".119" stop-color="#a4a4a4"/><stop offset=".167" stop-color="#aeaeae"/><stop offset=".214" stop-color="#aeaeae"/><stop offset=".262" stop-color="#a4a4a4"/><stop offset=".310" stop-color="#989898"/><stop offset=".357" stop-color="#989898"/><stop offset=".405" stop-color="#8e8e8e"/><stop offset=".452" stop-color="#808080"/><stop offset=".500" stop-color="#7c7c7c"/><stop offset=".548" stop-color="#7d7d7d"/><stop offset=".595" stop-color="#828282"/><stop offset=".643" stop-color="#8c8c8c"/><stop offset=".690" stop-color="#8c8c8c"/><stop offset=".738" stop-color="#959595"/><stop offset=".786" stop-color="#989898"/><stop offset=".833" stop-color="#9a9a9a"/><stop offset=".881" stop-color="#a2a2a2"/><stop offset=".929" stop-color="#aaa"/><stop offset=".976" stop-color="#b6b6b6"/></linearGradient>
<linearGradient id="b14" gradientUnits="userSpaceOnUse" x1="783" x2="1194.4" y1="0" y2="0"><stop offset=".024" stop-color="#9e9e9e"/><stop offset=".071" stop-color="#a2a2a2"/><stop offset=".119" stop-color="#a4a4a4"/><stop offset=".167" stop-color="#aaa"/><stop offset=".214" stop-color="#aeaeae"/><stop offset=".262" stop-color="#a4a4a4"/><stop offset=".310" stop-color="#959595"/><stop offset=".357" stop-color="#9e9e9e"/><stop offset=".405" stop-color="#a4a4a4"/><stop offset=".452" stop-color="#a2a2a2"/><stop offset=".500" stop-color="#9e9e9e"/><stop offset=".548" stop-color="#9a9a9a"/><stop offset=".595" stop-color="#989898"/><stop offset=".643" stop-color="#9a9a9a"/><stop offset=".690" stop-color="#a4a4a4"/><stop offset=".738" stop-color="#a7a7a7"/><stop offset=".833" stop-color="#a7a7a7"/><stop offset=".881" stop-color="#aaa"/><stop offset=".929" stop-color="#b3b3b3"/><stop offset=".976" stop-color="#bcbcbc"/></linearGradient>
<linearGradient id="b15" gradientUnits="userSpaceOnUse" x1="783" x2="1194.4" y1="0" y2="0"><stop offset=".024" stop-color="#9e9e9e"/><stop offset=".071" stop-color="#a4a4a4"/><stop offset=".119" stop-color="#a7a7a7"/><stop offset=".167" stop-color="#aaa"/><stop offset=".214" stop-color="#b3b3b3"/><stop offset=".262" stop-color="#b6b6b6"/><stop offset=".310" stop-color="#b0b0b0"/><stop offset=".357" stop-color="#b6b6b6"/><stop offset=".405" stop-color="#bcbcbc"/><stop offset=".595" stop-color="#bcbcbc"/><stop offset=".643" stop-color="#bfbfbf"/><stop offset=".690" stop-color="#c3c3c3"/><stop offset=".881" stop-color="#c3c3c3"/><stop offset=".929" stop-color="#c6c6c6"/><stop offset=".976" stop-color="#c9c9c9"/></linearGradient>
<linearGradient id="b16" gradientUnits="userSpaceOnUse" x1="783" x2="1194.4" y1="0" y2="0"><stop offset=".024" stop-color="#9e9e9e"/><stop offset=".071" stop-color="#a0a0a0"/><stop offset=".119" stop-color="#a7a7a7"/><stop offset=".167" stop-color="#aeaeae"/><stop offset=".214" stop-color="#bababa"/><stop offset=".262" stop-color="#c3c3c3"/><stop offset=".310" stop-color="#c9c9c9"/><stop offset=".357" stop-color="#d5d5d5"/><stop offset=".405" stop-color="#d7d7d7"/><stop offset=".452" stop-color="#dbdbdb"/><stop offset=".500" stop-color="#dfdfdf"/><stop offset=".548" stop-color="#e1e1e1"/><stop offset=".595" stop-color="#e7e7e7"/><stop offset=".643" stop-color="#ededed"/><stop offset=".690" stop-color="#ededed"/><stop offset=".738" stop-color="#ebebeb"/><stop offset=".786" stop-color="#e7e7e7"/><stop offset=".833" stop-color="#e4e4e4"/><stop offset=".881" stop-color="#e1e1e1"/><stop offset=".976" stop-color="#e1e1e1"/></linearGradient>
<linearGradient id="b17" gradientUnits="userSpaceOnUse" x1="783" x2="1194.4" y1="0" y2="0"><stop offset=".024" stop-color="#9e9e9e"/><stop offset=".071" stop-color="#a0a0a0"/><stop offset=".119" stop-color="#a7a7a7"/><stop offset=".167" stop-color="#b3b3b3"/><stop offset=".214" stop-color="#c3c3c3"/><stop offset=".262" stop-color="#cfcfcf"/><stop offset=".310" stop-color="#dbdbdb"/><stop offset=".357" stop-color="#e1e1e1"/><stop offset=".405" stop-color="#e7e7e7"/><stop offset=".452" stop-color="#ebebeb"/><stop offset=".500" stop-color="#ededed"/><stop offset=".548" stop-color="#f3f3f3"/><stop offset=".595" stop-color="#f9f9f9"/><stop offset=".786" stop-color="#f9f9f9"/><stop offset=".833" stop-color="#f7f7f7"/><stop offset=".881" stop-color="#f3f3f3"/><stop offset=".929" stop-color="#f0f0f0"/><stop offset=".976" stop-color="#ededed"/></linearGradient>
<linearGradient id="b18" gradientUnits="userSpaceOnUse" x1="783" x2="1194.4" y1="0" y2="0"><stop offset=".024" stop-color="#9e9e9e"/><stop offset=".071" stop-color="#a2a2a2"/><stop offset=".119" stop-color="#a8a8a8"/><stop offset=".167" stop-color="#b3b3b3"/><stop offset=".214" stop-color="#bcbcbc"/><stop offset=".262" stop-color="#c9c9c9"/><stop offset=".310" stop-color="#d2d2d2"/><stop offset=".357" stop-color="#dbdbdb"/><stop offset=".405" stop-color="#e7e7e7"/><stop offset=".452" stop-color="#f0f0f0"/><stop offset=".500" stop-color="#f7f7f7"/><stop offset=".548" stop-color="#f9f9f9"/><stop offset=".881" stop-color="#f9f9f9"/><stop offset=".929" stop-color="#f7f7f7"/><stop offset=".976" stop-color="#f0f0f0"/></linearGradient>
<linearGradient id="b19" gradientUnits="userSpaceOnUse" x1="783" x2="1194.4" y1="0" y2="0"><stop offset=".024" stop-color="#a4a4a4"/><stop offset=".071" stop-color="#a8a8a8"/><stop offset=".119" stop-color="#aeaeae"/><stop offset=".167" stop-color="#b6b6b6"/><stop offset=".214" stop-color="#bababa"/><stop offset=".262" stop-color="#bcbcbc"/><stop offset=".310" stop-color="#bfbfbf"/><stop offset=".357" stop-color="#c3c3c3"/><stop offset=".405" stop-color="#d5d5d5"/><stop offset=".452" stop-color="#e7e7e7"/><stop offset=".500" stop-color="#f3f3f3"/><stop offset=".548" stop-color="#f9f9f9"/><stop offset=".929" stop-color="#f9f9f9"/><stop offset=".976" stop-color="#f3f3f3"/></linearGradient>
<linearGradient id="b20" gradientUnits="userSpaceOnUse" x1="783" x2="1194.4" y1="0" y2="0"><stop offset=".024" stop-color="#b6b6b6"/><stop offset=".071" stop-color="#aeaeae"/><stop offset=".119" stop-color="#b0b0b0"/><stop offset=".167" stop-color="#b3b3b3"/><stop offset=".214" stop-color="#b6b6b6"/><stop offset=".262" stop-color="#bababa"/><stop offset=".310" stop-color="#bcbcbc"/><stop offset=".357" stop-color="#bcbcbc"/><stop offset=".405" stop-color="#c9c9c9"/><stop offset=".452" stop-color="#dbdbdb"/><stop offset=".500" stop-color="#ededed"/><stop offset=".548" stop-color="#f7f7f7"/><stop offset=".595" stop-color="#f9f9f9"/><stop offset=".929" stop-color="#f9f9f9"/><stop offset=".976" stop-color="#f7f7f7"/></linearGradient>
<clipPath id="cpb"><rect x="783" y="59.2" width="411.4" height="415.8"/></clipPath>
<filter id="qb" filterUnits="userSpaceOnUse" x="773.2" y="49.4" width="431" height="435.4" color-interpolation-filters="sRGB"><feGaussianBlur stdDeviation="2.4" result="b"/><feTurbulence type="fractalNoise" baseFrequency="0.05" numOctaves="1" seed="5"/><feColorMatrix type="matrix" values="1 0 0 0 0 1 0 0 0 0 1 0 0 0 0 0 0 0 0 1"/><feComposite in="b" operator="arithmetic" k1="0" k2="1" k3="0.03" k4="-0.015"/><feComponentTransfer><feFuncR type="discrete" tableValues="0 0.023 0.068 0.114 0.159 0.205 0.25 0.295 0.341 0.386 0.432 0.477 0.523 0.568 0.614 0.659 0.705 0.75 0.795 0.841 0.886 0.932 0.977 1 1 1 1 1 1 1 1 1 1 1 1 1 1 1 1 1 1 1 1 1 1 1"/><feFuncG type="discrete" tableValues="0 0.023 0.068 0.114 0.159 0.205 0.25 0.295 0.341 0.386 0.432 0.477 0.523 0.568 0.614 0.659 0.705 0.75 0.795 0.841 0.886 0.932 0.977 0.977 0.932 0.886 0.841 0.795 0.75 0.705 0.659 0.614 0.568 0.523 0.477 0.432 0.386 0.341 0.295 0.25 0.205 0.159 0.114 0.068 0.023 0"/><feFuncB type="discrete" tableValues="1 1 1 1 1 1 1 1 1 1 1 1 1 1 1 1 1 1 1 1 1 1 1 0.977 0.932 0.886 0.841 0.795 0.75 0.705 0.659 0.614 0.568 0.523 0.477 0.432 0.386 0.341 0.295 0.25 0.205 0.159 0.114 0.068 0.023 0"/></feComponentTransfer><feGaussianBlur stdDeviation=".6"/></filter>
<radialGradient id="eyeb"><stop offset="0" stop-color="#b6b6b6"/><stop offset=".35" stop-color="#989898"/><stop offset="1" stop-color="#676767" stop-opacity="0"/></radialGradient>
<linearGradient id="c0" gradientUnits="userSpaceOnUse" x1="166" x2="577.4" y1="0" y2="0"><stop offset=".024" stop-color="#878787"/><stop offset=".071" stop-color="#878787"/><stop offset=".119" stop-color="#959595"/><stop offset=".167" stop-color="#9d9d9d"/><stop offset=".214" stop-color="#919191"/><stop offset=".262" stop-color="#878787"/><stop offset=".310" stop-color="#848484"/><stop offset=".357" stop-color="#878787"/><stop offset=".405" stop-color="#8b8b8b"/><stop offset=".452" stop-color="#7d7d7d"/><stop offset=".500" stop-color="#7b7b7b"/><stop offset=".548" stop-color="#878787"/><stop offset=".595" stop-color="#959595"/><stop offset=".643" stop-color="#8e8e8e"/><stop offset=".690" stop-color="#919191"/><stop offset=".738" stop-color="#919191"/><stop offset=".786" stop-color="#8b8b8b"/><stop offset=".833" stop-color="#919191"/><stop offset=".881" stop-color="#919191"/><stop offset=".929" stop-color="#878787"/><stop offset=".976" stop-color="#828282"/></linearGradient>
<linearGradient id="c1" gradientUnits="userSpaceOnUse" x1="166" x2="577.4" y1="0" y2="0"><stop offset=".024" stop-color="#747474"/><stop offset=".071" stop-color="#747474"/><stop offset=".119" stop-color="#878787"/><stop offset=".167" stop-color="#959595"/><stop offset=".214" stop-color="#8e8e8e"/><stop offset=".262" stop-color="#919191"/><stop offset=".310" stop-color="#7d7d7d"/><stop offset=".357" stop-color="#7d7d7d"/><stop offset=".405" stop-color="#828282"/><stop offset=".452" stop-color="#6e6e6e"/><stop offset=".500" stop-color="#6e6e6e"/><stop offset=".548" stop-color="#8b8b8b"/><stop offset=".595" stop-color="#919191"/><stop offset=".643" stop-color="#8e8e8e"/><stop offset=".690" stop-color="#8b8b8b"/><stop offset=".738" stop-color="#878787"/><stop offset=".786" stop-color="#878787"/><stop offset=".833" stop-color="#959595"/><stop offset=".881" stop-color="#9d9d9d"/><stop offset=".929" stop-color="#959595"/><stop offset=".976" stop-color="#959595"/></linearGradient>
<linearGradient id="c2" gradientUnits="userSpaceOnUse" x1="166" x2="577.4" y1="0" y2="0"><stop offset=".024" stop-color="#787878"/><stop offset=".071" stop-color="#848484"/><stop offset=".119" stop-color="#959595"/><stop offset=".167" stop-color="#919191"/><stop offset=".214" stop-color="#878787"/><stop offset=".262" stop-color="#9d9d9d"/><stop offset=".310" stop-color="#9a9a9a"/><stop offset=".357" stop-color="#959595"/><stop offset=".405" stop-color="#828282"/><stop offset=".452" stop-color="#7b7b7b"/><stop offset=".500" stop-color="#828282"/><stop offset=".548" stop-color="#9a9a9a"/><stop offset=".595" stop-color="#828282"/><stop offset=".643" stop-color="#8e8e8e"/><stop offset=".690" stop-color="#959595"/><stop offset=".738" stop-color="#808080"/><stop offset=".786" stop-color="#717171"/><stop offset=".833" stop-color="#7b7b7b"/><stop offset=".881" stop-color="#919191"/><stop offset=".929" stop-color="#8b8b8b"/><stop offset=".976" stop-color="#8e8e8e"/></linearGradient>
<linearGradient id="c3" gradientUnits="userSpaceOnUse" x1="166" x2="577.4" y1="0" y2="0"><stop offset=".024" stop-color="#848484"/><stop offset=".071" stop-color="#787878"/><stop offset=".119" stop-color="#828282"/><stop offset=".167" stop-color="#8b8b8b"/><stop offset=".214" stop-color="#919191"/><stop offset=".262" stop-color="#a4a4a4"/><stop offset=".310" stop-color="#a4a4a4"/><stop offset=".357" stop-color="#ababab"/><stop offset=".405" stop-color="#878787"/><stop offset=".452" stop-color="#747474"/><stop offset=".500" stop-color="#959595"/><stop offset=".548" stop-color="#878787"/><stop offset=".595" stop-color="#8b8b8b"/><stop offset=".643" stop-color="#8e8e8e"/><stop offset=".690" stop-color="#878787"/><stop offset=".738" stop-color="#7d7d7d"/><stop offset=".786" stop-color="#7b7b7b"/><stop offset=".833" stop-color="#5b5b5b"/><stop offset=".881" stop-color="#717171"/><stop offset=".929" stop-color="#828282"/><stop offset=".976" stop-color="#878787"/></linearGradient>
<linearGradient id="c4" gradientUnits="userSpaceOnUse" x1="166" x2="577.4" y1="0" y2="0"><stop offset=".024" stop-color="#717171"/><stop offset=".071" stop-color="#626262"/><stop offset=".119" stop-color="#717171"/><stop offset=".167" stop-color="#8b8b8b"/><stop offset=".214" stop-color="#a4a4a4"/><stop offset=".262" stop-color="#9d9d9d"/><stop offset=".310" stop-color="#ababab"/><stop offset=".357" stop-color="#c1c1c1"/><stop offset=".405" stop-color="#8e8e8e"/><stop offset=".452" stop-color="#8b8b8b"/><stop offset=".500" stop-color="#8e8e8e"/><stop offset=".548" stop-color="#787878"/><stop offset=".595" stop-color="#747474"/><stop offset=".643" stop-color="#8b8b8b"/><stop offset=".690" stop-color="#9a9a9a"/><stop offset=".738" stop-color="#8e8e8e"/><stop offset=".786" stop-color="#787878"/><stop offset=".833" stop-color="#4c4c4c"/><stop offset=".881" stop-color="#717171"/><stop offset=".929" stop-color="#919191"/><stop offset=".976" stop-color="#8e8e8e"/></linearGradient>
<linearGradient id="c5" gradientUnits="userSpaceOnUse" x1="166" x2="577.4" y1="0" y2="0"><stop offset=".024" stop-color="#747474"/><stop offset=".071" stop-color="#7d7d7d"/><stop offset=".119" stop-color="#848484"/><stop offset=".167" stop-color="#919191"/><stop offset=".214" stop-color="#a4a4a4"/><stop offset=".262" stop-color="#a4a4a4"/><stop offset=".310" stop-color="#a8a8a8"/><stop offset=".357" stop-color="#959595"/><stop offset=".405" stop-color="#8b8b8b"/><stop offset=".452" stop-color="#919191"/><stop offset=".500" stop-color="#919191"/><stop offset=".548" stop-color="#808080"/><stop offset=".595" stop-color="#878787"/><stop offset=".643" stop-color="#878787"/><stop offset=".690" stop-color="#8e8e8e"/><stop offset=".738" stop-color="#828282"/><stop offset=".786" stop-color="#717171"/><stop offset=".833" stop-color="#828282"/><stop offset=".881" stop-color="#8e8e8e"/><stop offset=".929" stop-color="#9d9d9d"/><stop offset=".976" stop-color="#8e8e8e"/></linearGradient>
<linearGradient id="c6" gradientUnits="userSpaceOnUse" x1="166" x2="577.4" y1="0" y2="0"><stop offset=".024" stop-color="#7b7b7b"/><stop offset=".071" stop-color="#848484"/><stop offset=".119" stop-color="#8e8e8e"/><stop offset=".167" stop-color="#8b8b8b"/><stop offset=".214" stop-color="#9d9d9d"/><stop offset=".262" stop-color="#b3b3b3"/><stop offset=".310" stop-color="#ababab"/><stop offset=".357" stop-color="#828282"/><stop offset=".405" stop-color="#959595"/><stop offset=".452" stop-color="#8b8b8b"/><stop offset=".500" stop-color="#717171"/><stop offset=".548" stop-color="#626262"/><stop offset=".595" stop-color="#828282"/><stop offset=".643" stop-color="#7b7b7b"/><stop offset=".690" stop-color="#717171"/><stop offset=".738" stop-color="#6a6a6a"/><stop offset=".786" stop-color="#747474"/><stop offset=".833" stop-color="#7b7b7b"/><stop offset=".881" stop-color="#828282"/><stop offset=".929" stop-color="#828282"/><stop offset=".976" stop-color="#6e6e6e"/></linearGradient>
<linearGradient id="c7" gradientUnits="userSpaceOnUse" x1="166" x2="577.4" y1="0" y2="0"><stop offset=".024" stop-color="#787878"/><stop offset=".071" stop-color="#6e6e6e"/><stop offset=".119" stop-color="#848484"/><stop offset=".167" stop-color="#747474"/><stop offset=".214" stop-color="#959595"/><stop offset=".262" stop-color="#c1c1c1"/><stop offset=".310" stop-color="#959595"/><stop offset=".357" stop-color="#848484"/><stop offset=".405" stop-color="#878787"/><stop offset=".452" stop-color="#9d9d9d"/><stop offset=".500" stop-color="#8e8e8e"/><stop offset=".548" stop-color="#848484"/><stop offset=".595" stop-color="#747474"/><stop offset=".643" stop-color="#7b7b7b"/><stop offset=".690" stop-color="#717171"/><stop offset=".738" stop-color="#6a6a6a"/><stop offset=".786" stop-color="#7b7b7b"/><stop offset=".833" stop-color="#808080"/><stop offset=".881" stop-color="#919191"/><stop offset=".929" stop-color="#8b8b8b"/><stop offset=".976" stop-color="#8e8e8e"/></linearGradient>
<linearGradient id="c8" gradientUnits="userSpaceOnUse" x1="166" x2="577.4" y1="0" y2="0"><stop offset=".024" stop-color="#c1c1c1"/><stop offset=".071" stop-color="#d0d0d0"/><stop offset=".119" stop-color="#9d9d9d"/><stop offset=".167" stop-color="#7d7d7d"/><stop offset=".214" stop-color="#959595"/><stop offset=".262" stop-color="#a4a4a4"/><stop offset=".310" stop-color="#808080"/><stop offset=".357" stop-color="#626262"/><stop offset=".405" stop-color="#6a6a6a"/><stop offset=".452" stop-color="#808080"/><stop offset=".500" stop-color="#919191"/><stop offset=".548" stop-color="#959595"/><stop offset=".595" stop-color="#878787"/><stop offset=".643" stop-color="#828282"/><stop offset=".690" stop-color="#717171"/><stop offset=".738" stop-color="#454545"/><stop offset=".786" stop-color="#717171"/><stop offset=".833" stop-color="#808080"/><stop offset=".881" stop-color="#7b7b7b"/><stop offset=".929" stop-color="#6a6a6a"/><stop offset=".976" stop-color="#8b8b8b"/></linearGradient>
<linearGradient id="c9" gradientUnits="userSpaceOnUse" x1="166" x2="577.4" y1="0" y2="0"><stop offset=".024" stop-color="#8e8e8e"/><stop offset=".071" stop-color="#878787"/><stop offset=".119" stop-color="#b3b3b3"/><stop offset=".167" stop-color="#878787"/><stop offset=".214" stop-color="#717171"/><stop offset=".262" stop-color="#878787"/><stop offset=".310" stop-color="#878787"/><stop offset=".357" stop-color="#7d7d7d"/><stop offset=".405" stop-color="#919191"/><stop offset=".452" stop-color="#878787"/><stop offset=".500" stop-color="#848484"/><stop offset=".548" stop-color="#959595"/><stop offset=".595" stop-color="#8b8b8b"/><stop offset=".643" stop-color="#7b7b7b"/><stop offset=".690" stop-color="#808080"/><stop offset=".738" stop-color="#717171"/><stop offset=".786" stop-color="#787878"/><stop offset=".833" stop-color="#8e8e8e"/><stop offset=".881" stop-color="#8b8b8b"/><stop offset=".929" stop-color="#787878"/><stop offset=".976" stop-color="#7b7b7b"/></linearGradient>
<linearGradient id="c10" gradientUnits="userSpaceOnUse" x1="166" x2="577.4" y1="0" y2="0"><stop offset=".024" stop-color="#5b5b5b"/><stop offset=".071" stop-color="#5b5b5b"/><stop offset=".119" stop-color="#787878"/><stop offset=".167" stop-color="#808080"/><stop offset=".214" stop-color="#626262"/><stop offset=".262" stop-color="#717171"/><stop offset=".310" stop-color="#ababab"/><stop offset=".357" stop-color="#ababab"/><stop offset=".405" stop-color="#c1c1c1"/><stop offset=".452" stop-color="#919191"/><stop offset=".500" stop-color="#919191"/><stop offset=".548" stop-color="#828282"/><stop offset=".595" stop-color="#878787"/><stop offset=".643" stop-color="#4c4c4c"/><stop offset=".690" stop-color="#545454"/><stop offset=".738" stop-color="#6e6e6e"/><stop offset=".786" stop-color="#717171"/><stop offset=".833" stop-color="#787878"/><stop offset=".881" stop-color="#7b7b7b"/><stop offset=".929" stop-color="#7b7b7b"/><stop offset=".976" stop-color="#848484"/></linearGradient>
<linearGradient id="c11" gradientUnits="userSpaceOnUse" x1="166" x2="577.4" y1="0" y2="0"><stop offset=".024" stop-color="#6a6a6a"/><stop offset=".071" stop-color="#545454"/><stop offset=".119" stop-color="#6a6a6a"/><stop offset=".167" stop-color="#7b7b7b"/><stop offset=".214" stop-color="#5b5b5b"/><stop offset=".262" stop-color="#6a6a6a"/><stop offset=".310" stop-color="#5b5b5b"/><stop offset=".357" stop-color="#626262"/><stop offset=".405" stop-color="#878787"/><stop offset=".452" stop-color="#8e8e8e"/><stop offset=".500" stop-color="#9d9d9d"/><stop offset=".548" stop-color="#959595"/><stop offset=".595" stop-color="#9d9d9d"/><stop offset=".643" stop-color="#787878"/><stop offset=".690" stop-color="#545454"/><stop offset=".738" stop-color="#6a6a6a"/><stop offset=".786" stop-color="#717171"/><stop offset=".881" stop-color="#717171"/><stop offset=".929" stop-color="#7b7b7b"/><stop offset=".976" stop-color="#8e8e8e"/></linearGradient>
<linearGradient id="c12" gradientUnits="userSpaceOnUse" x1="166" x2="577.4" y1="0" y2="0"><stop offset=".024" stop-color="#626262"/><stop offset=".071" stop-color="#6a6a6a"/><stop offset=".119" stop-color="#6e6e6e"/><stop offset=".167" stop-color="#626262"/><stop offset=".214" stop-color="#454545"/><stop offset=".262" stop-color="#3e3e3e"/><stop offset=".310" stop-color="#545454"/><stop offset=".357" stop-color="#3e3e3e"/><stop offset=".405" stop-color="#717171"/><stop offset=".452" stop-color="#878787"/><stop offset=".500" stop-color="#878787"/><stop offset=".548" stop-color="#6e6e6e"/><stop offset=".595" stop-color="#808080"/><stop offset=".643" stop-color="#545454"/><stop offset=".690" stop-color="#454545"/><stop offset=".738" stop-color="#626262"/><stop offset=".786" stop-color="#747474"/><stop offset=".833" stop-color="#4c4c4c"/><stop offset=".881" stop-color="#6a6a6a"/><stop offset=".929" stop-color="#717171"/><stop offset=".976" stop-color="#747474"/></linearGradient>
<linearGradient id="c13" gradientUnits="userSpaceOnUse" x1="166" x2="577.4" y1="0" y2="0"><stop offset=".024" stop-color="#787878"/><stop offset=".071" stop-color="#808080"/><stop offset=".119" stop-color="#717171"/><stop offset=".167" stop-color="#454545"/><stop offset=".214" stop-color="#4c4c4c"/><stop offset=".262" stop-color="#545454"/><stop offset=".310" stop-color="#4c4c4c"/><stop offset=".357" stop-color="#808080"/><stop offset=".405" stop-color="#878787"/><stop offset=".452" stop-color="#878787"/><stop offset=".500" stop-color="#5b5b5b"/><stop offset=".548" stop-color="#545454"/><stop offset=".595" stop-color="#6a6a6a"/><stop offset=".643" stop-color="#747474"/><stop offset=".690" stop-color="#717171"/><stop offset=".738" stop-color="#878787"/><stop offset=".786" stop-color="#787878"/><stop offset=".833" stop-color="#717171"/><stop offset=".881" stop-color="#8b8b8b"/><stop offset=".929" stop-color="#848484"/><stop offset=".976" stop-color="#717171"/></linearGradient>
<linearGradient id="c14" gradientUnits="userSpaceOnUse" x1="166" x2="577.4" y1="0" y2="0"><stop offset=".024" stop-color="#787878"/><stop offset=".071" stop-color="#808080"/><stop offset=".119" stop-color="#626262"/><stop offset=".167" stop-color="#454545"/><stop offset=".214" stop-color="#5b5b5b"/><stop offset=".262" stop-color="#4c4c4c"/><stop offset=".310" stop-color="#4c4c4c"/><stop offset=".357" stop-color="#626262"/><stop offset=".405" stop-color="#6e6e6e"/><stop offset=".452" stop-color="#878787"/><stop offset=".500" stop-color="#6a6a6a"/><stop offset=".548" stop-color="#545454"/><stop offset=".595" stop-color="#787878"/><stop offset=".643" stop-color="#808080"/><stop offset=".690" stop-color="#7b7b7b"/><stop offset=".738" stop-color="#6a6a6a"/><stop offset=".786" stop-color="#6e6e6e"/><stop offset=".833" stop-color="#7b7b7b"/><stop offset=".881" stop-color="#c9c9c9"/><stop offset=".929" stop-color="#9d9d9d"/><stop offset=".976" stop-color="#717171"/></linearGradient>
<linearGradient id="c15" gradientUnits="userSpaceOnUse" x1="166" x2="577.4" y1="0" y2="0"><stop offset=".024" stop-color="#747474"/><stop offset=".071" stop-color="#878787"/><stop offset=".119" stop-color="#6e6e6e"/><stop offset=".167" stop-color="#454545"/><stop offset=".214" stop-color="#3e3e3e"/><stop offset=".262" stop-color="#5b5b5b"/><stop offset=".310" stop-color="#626262"/><stop offset=".357" stop-color="#5b5b5b"/><stop offset=".405" stop-color="#363636"/><stop offset=".452" stop-color="#454545"/><stop offset=".500" stop-color="#545454"/><stop offset=".548" stop-color="#626262"/><stop offset=".595" stop-color="#717171"/><stop offset=".643" stop-color="#8b8b8b"/><stop offset=".690" stop-color="#919191"/><stop offset=".738" stop-color="#878787"/><stop offset=".786" stop-color="#787878"/><stop offset=".833" stop-color="#8e8e8e"/><stop offset=".881" stop-color="#ababab"/><stop offset=".929" stop-color="#919191"/><stop offset=".976" stop-color="#7d7d7d"/></linearGradient>
<linearGradient id="c16" gradientUnits="userSpaceOnUse" x1="166" x2="577.4" y1="0" y2="0"><stop offset=".024" stop-color="#a4a4a4"/><stop offset=".071" stop-color="#9d9d9d"/><stop offset=".119" stop-color="#787878"/><stop offset=".167" stop-color="#626262"/><stop offset=".214" stop-color="#717171"/><stop offset=".262" stop-color="#8e8e8e"/><stop offset=".310" stop-color="#5b5b5b"/><stop offset=".357" stop-color="#6a6a6a"/><stop offset=".405" stop-color="#626262"/><stop offset=".452" stop-color="#5b5b5b"/><stop offset=".500" stop-color="#545454"/><stop offset=".548" stop-color="#5b5b5b"/><stop offset=".595" stop-color="#626262"/><stop offset=".643" stop-color="#5b5b5b"/><stop offset=".690" stop-color="#787878"/><stop offset=".738" stop-color="#545454"/><stop offset=".786" stop-color="#626262"/><stop offset=".833" stop-color="#828282"/><stop offset=".881" stop-color="#c1c1c1"/><stop offset=".929" stop-color="#878787"/><stop offset=".976" stop-color="#6e6e6e"/></linearGradient>
<linearGradient id="c17" gradientUnits="userSpaceOnUse" x1="166" x2="577.4" y1="0" y2="0"><stop offset=".024" stop-color="#ababab"/><stop offset=".071" stop-color="#b3b3b3"/><stop offset=".119" stop-color="#ababab"/><stop offset=".167" stop-color="#919191"/><stop offset=".214" stop-color="#919191"/><stop offset=".262" stop-color="#7d7d7d"/><stop offset=".310" stop-color="#4c4c4c"/><stop offset=".357" stop-color="#6e6e6e"/><stop offset=".405" stop-color="#808080"/><stop offset=".452" stop-color="#878787"/><stop offset=".500" stop-color="#7d7d7d"/><stop offset=".548" stop-color="#5b5b5b"/><stop offset=".595" stop-color="#3e3e3e"/><stop offset=".643" stop-color="#626262"/><stop offset=".690" stop-color="#6a6a6a"/><stop offset=".738" stop-color="#5b5b5b"/><stop offset=".786" stop-color="#626262"/><stop offset=".833" stop-color="#6a6a6a"/><stop offset=".881" stop-color="#717171"/><stop offset=".929" stop-color="#808080"/><stop offset=".976" stop-color="#8b8b8b"/></linearGradient>
<linearGradient id="c18" gradientUnits="userSpaceOnUse" x1="166" x2="577.4" y1="0" y2="0"><stop offset=".024" stop-color="#b3b3b3"/><stop offset=".071" stop-color="#9d9d9d"/><stop offset=".119" stop-color="#c9c9c9"/><stop offset=".167" stop-color="#b3b3b3"/><stop offset=".214" stop-color="#9d9d9d"/><stop offset=".262" stop-color="#919191"/><stop offset=".310" stop-color="#878787"/><stop offset=".357" stop-color="#626262"/><stop offset=".405" stop-color="#626262"/><stop offset=".452" stop-color="#454545"/><stop offset=".500" stop-color="#626262"/><stop offset=".548" stop-color="#747474"/><stop offset=".595" stop-color="#5b5b5b"/><stop offset=".643" stop-color="#4c4c4c"/><stop offset=".690" stop-color="#6a6a6a"/><stop offset=".738" stop-color="#6a6a6a"/><stop offset=".786" stop-color="#545454"/><stop offset=".833" stop-color="#4c4c4c"/><stop offset=".881" stop-color="#717171"/><stop offset=".929" stop-color="#6e6e6e"/><stop offset=".976" stop-color="#6a6a6a"/></linearGradient>
<linearGradient id="c19" gradientUnits="userSpaceOnUse" x1="166" x2="577.4" y1="0" y2="0"><stop offset=".024" stop-color="#8e8e8e"/><stop offset=".071" stop-color="#808080"/><stop offset=".119" stop-color="#ababab"/><stop offset=".167" stop-color="#e6e6e6"/><stop offset=".214" stop-color="#c9c9c9"/><stop offset=".262" stop-color="#9d9d9d"/><stop offset=".310" stop-color="#ababab"/><stop offset=".357" stop-color="#ababab"/><stop offset=".405" stop-color="#878787"/><stop offset=".452" stop-color="#5b5b5b"/><stop offset=".500" stop-color="#6a6a6a"/><stop offset=".548" stop-color="#787878"/><stop offset=".595" stop-color="#787878"/><stop offset=".643" stop-color="#808080"/><stop offset=".690" stop-color="#454545"/><stop offset=".738" stop-color="#6a6a6a"/><stop offset=".786" stop-color="#545454"/><stop offset=".833" stop-color="#626262"/><stop offset=".881" stop-color="#5b5b5b"/><stop offset=".929" stop-color="#5b5b5b"/><stop offset=".976" stop-color="#626262"/></linearGradient>
<linearGradient id="c20" gradientUnits="userSpaceOnUse" x1="166" x2="577.4" y1="0" y2="0"><stop offset=".024" stop-color="#717171"/><stop offset=".071" stop-color="#6a6a6a"/><stop offset=".119" stop-color="#8e8e8e"/><stop offset=".167" stop-color="#919191"/><stop offset=".214" stop-color="#787878"/><stop offset=".262" stop-color="#8b8b8b"/><stop offset=".310" stop-color="#808080"/><stop offset=".357" stop-color="#a4a4a4"/><stop offset=".405" stop-color="#b3b3b3"/><stop offset=".452" stop-color="#959595"/><stop offset=".500" stop-color="#717171"/><stop offset=".548" stop-color="#545454"/><stop offset=".595" stop-color="#626262"/><stop offset=".643" stop-color="#808080"/><stop offset=".690" stop-color="#808080"/><stop offset=".738" stop-color="#919191"/><stop offset=".786" stop-color="#a4a4a4"/><stop offset=".833" stop-color="#8e8e8e"/><stop offset=".881" stop-color="#626262"/><stop offset=".929" stop-color="#454545"/><stop offset=".976" stop-color="#5b5b5b"/></linearGradient>
<clipPath id="cpc"><rect x="166" y="558.9" width="411.4" height="415.8"/></clipPath>
<filter id="qc" filterUnits="userSpaceOnUse" x="156.2" y="549.1" width="431" height="435.4" color-interpolation-filters="sRGB"><feGaussianBlur stdDeviation="2.4" result="b"/><feTurbulence type="fractalNoise" baseFrequency="0.05" numOctaves="1" seed="7"/><feColorMatrix type="matrix" values="1 0 0 0 0 1 0 0 0 0 1 0 0 0 0 0 0 0 0 1"/><feComposite in="b" operator="arithmetic" k1="0" k2="1" k3="0.12" k4="-0.06"/><feComponentTransfer><feFuncR type="discrete" tableValues="0 0.023 0.068 0.114 0.159 0.205 0.25 0.295 0.341 0.386 0.432 0.477 0.523 0.568 0.614 0.659 0.705 0.75 0.795 0.841 0.886 0.932 0.977 1 1 1 1 1 1 1 1 1 1 1 1 1 1 1 1 1 1 1 1 1 1 1"/><feFuncG type="discrete" tableValues="0 0.023 0.068 0.114 0.159 0.205 0.25 0.295 0.341 0.386 0.432 0.477 0.523 0.568 0.614 0.659 0.705 0.75 0.795 0.841 0.886 0.932 0.977 0.977 0.932 0.886 0.841 0.795 0.75 0.705 0.659 0.614 0.568 0.523 0.477 0.432 0.386 0.341 0.295 0.25 0.205 0.159 0.114 0.068 0.023 0"/><feFuncB type="discrete" tableValues="1 1 1 1 1 1 1 1 1 1 1 1 1 1 1 1 1 1 1 1 1 1 1 0.977 0.932 0.886 0.841 0.795 0.75 0.705 0.659 0.614 0.568 0.523 0.477 0.432 0.386 0.341 0.295 0.25 0.205 0.159 0.114 0.068 0.023 0"/></feComponentTransfer><feGaussianBlur stdDeviation=".6"/></filter>
<linearGradient id="d0" gradientUnits="userSpaceOnUse" x1="783" x2="1194.4" y1="0" y2="0"><stop offset=".024" stop-color="#5f5f5f"/><stop offset=".071" stop-color="#676767"/><stop offset=".119" stop-color="#4e4e4e"/><stop offset=".167" stop-color="#6f6f6f"/><stop offset=".214" stop-color="#808080"/><stop offset=".262" stop-color="#b1b1b1"/><stop offset=".310" stop-color="#888"/><stop offset=".357" stop-color="#a9a9a9"/><stop offset=".405" stop-color="#727272"/><stop offset=".452" stop-color="#909090"/><stop offset=".500" stop-color="#989898"/><stop offset=".548" stop-color="#6f6f6f"/><stop offset=".595" stop-color="#989898"/><stop offset=".643" stop-color="#939393"/><stop offset=".690" stop-color="#909090"/><stop offset=".738" stop-color="#888"/><stop offset=".786" stop-color="#808080"/><stop offset=".833" stop-color="#a9a9a9"/><stop offset=".881" stop-color="#888"/><stop offset=".929" stop-color="#676767"/><stop offset=".976" stop-color="#777"/></linearGradient>
<linearGradient id="d1" gradientUnits="userSpaceOnUse" x1="783" x2="1194.4" y1="0" y2="0"><stop offset=".024" stop-color="#777"/><stop offset=".071" stop-color="#838383"/><stop offset=".119" stop-color="#8d8d8d"/><stop offset=".167" stop-color="#777"/><stop offset=".214" stop-color="#a9a9a9"/><stop offset=".262" stop-color="#676767"/><stop offset=".310" stop-color="#7c7c7c"/><stop offset=".357" stop-color="#7c7c7c"/><stop offset=".405" stop-color="#676767"/><stop offset=".452" stop-color="#b9b9b9"/><stop offset=".500" stop-color="#909090"/><stop offset=".548" stop-color="#676767"/><stop offset=".595" stop-color="#888"/><stop offset=".643" stop-color="#777"/><stop offset=".690" stop-color="#6f6f6f"/><stop offset=".738" stop-color="#777"/><stop offset=".786" stop-color="#909090"/><stop offset=".833" stop-color="#939393"/><stop offset=".881" stop-color="#4e4e4e"/><stop offset=".929" stop-color="#a0a0a0"/><stop offset=".976" stop-color="#a9a9a9"/></linearGradient>
<linearGradient id="d2" gradientUnits="userSpaceOnUse" x1="783" x2="1194.4" y1="0" y2="0"><stop offset=".024" stop-color="#6f6f6f"/><stop offset=".071" stop-color="#676767"/><stop offset=".119" stop-color="#808080"/><stop offset=".167" stop-color="#b1b1b1"/><stop offset=".214" stop-color="#989898"/><stop offset=".262" stop-color="#909090"/><stop offset=".310" stop-color="#b1b1b1"/><stop offset=".357" stop-color="#a0a0a0"/><stop offset=".405" stop-color="#6f6f6f"/><stop offset=".452" stop-color="#808080"/><stop offset=".500" stop-color="#565656"/><stop offset=".548" stop-color="#b1b1b1"/><stop offset=".595" stop-color="#909090"/><stop offset=".643" stop-color="#b1b1b1"/><stop offset=".690" stop-color="#5f5f5f"/><stop offset=".738" stop-color="#909090"/><stop offset=".786" stop-color="#a0a0a0"/><stop offset=".833" stop-color="#6f6f6f"/><stop offset=".881" stop-color="#2d2d2d"/><stop offset=".929" stop-color="#565656"/><stop offset=".976" stop-color="#808080"/></linearGradient>
<linearGradient id="d3" gradientUnits="userSpaceOnUse" x1="783" x2="1194.4" y1="0" y2="0"><stop offset=".024" stop-color="#8d8d8d"/><stop offset=".071" stop-color="#939393"/><stop offset=".119" stop-color="#676767"/><stop offset=".167" stop-color="#464646"/><stop offset=".214" stop-color="#676767"/><stop offset=".262" stop-color="#777"/><stop offset=".310" stop-color="#a0a0a0"/><stop offset=".357" stop-color="#b1b1b1"/><stop offset=".405" stop-color="#909090"/><stop offset=".452" stop-color="#939393"/><stop offset=".500" stop-color="#a9a9a9"/><stop offset=".548" stop-color="#565656"/><stop offset=".595" stop-color="#909090"/><stop offset=".643" stop-color="#b1b1b1"/><stop offset=".690" stop-color="#565656"/><stop offset=".738" stop-color="#b1b1b1"/><stop offset=".786" stop-color="#909090"/><stop offset=".833" stop-color="#808080"/><stop offset=".881" stop-color="#6f6f6f"/><stop offset=".929" stop-color="#676767"/><stop offset=".976" stop-color="#5f5f5f"/></linearGradient>
<linearGradient id="d4" gradientUnits="userSpaceOnUse" x1="783" x2="1194.4" y1="0" y2="0"><stop offset=".024" stop-color="#808080"/><stop offset=".071" stop-color="#838383"/><stop offset=".119" stop-color="#909090"/><stop offset=".167" stop-color="#727272"/><stop offset=".214" stop-color="#3e3e3e"/><stop offset=".262" stop-color="#464646"/><stop offset=".310" stop-color="#939393"/><stop offset=".357" stop-color="#676767"/><stop offset=".405" stop-color="#888"/><stop offset=".452" stop-color="#a0a0a0"/><stop offset=".500" stop-color="#909090"/><stop offset=".548" stop-color="#989898"/><stop offset=".595" stop-color="#5f5f5f"/><stop offset=".643" stop-color="#909090"/><stop offset=".690" stop-color="#b1b1b1"/><stop offset=".738" stop-color="#a9a9a9"/><stop offset=".786" stop-color="#4e4e4e"/><stop offset=".833" stop-color="#5f5f5f"/><stop offset=".881" stop-color="#888"/><stop offset=".929" stop-color="#909090"/><stop offset=".976" stop-color="#909090"/></linearGradient>
<linearGradient id="d5" gradientUnits="userSpaceOnUse" x1="783" x2="1194.4" y1="0" y2="0"><stop offset=".024" stop-color="#777"/><stop offset=".071" stop-color="#727272"/><stop offset=".119" stop-color="#6f6f6f"/><stop offset=".167" stop-color="#8d8d8d"/><stop offset=".214" stop-color="#6f6f6f"/><stop offset=".262" stop-color="#565656"/><stop offset=".310" stop-color="#909090"/><stop offset=".357" stop-color="#808080"/><stop offset=".405" stop-color="#6f6f6f"/><stop offset=".452" stop-color="#808080"/><stop offset=".500" stop-color="#4e4e4e"/><stop offset=".548" stop-color="#777"/><stop offset=".595" stop-color="#777"/><stop offset=".643" stop-color="#676767"/><stop offset=".690" stop-color="#5f5f5f"/><stop offset=".738" stop-color="#808080"/><stop offset=".786" stop-color="#676767"/><stop offset=".833" stop-color="#939393"/><stop offset=".881" stop-color="#8d8d8d"/><stop offset=".929" stop-color="#a0a0a0"/><stop offset=".976" stop-color="#a0a0a0"/></linearGradient>
<linearGradient id="d6" gradientUnits="userSpaceOnUse" x1="783" x2="1194.4" y1="0" y2="0"><stop offset=".024" stop-color="#989898"/><stop offset=".071" stop-color="#909090"/><stop offset=".119" stop-color="#777"/><stop offset=".167" stop-color="#5f5f5f"/><stop offset=".214" stop-color="#4e4e4e"/><stop offset=".262" stop-color="#808080"/><stop offset=".310" stop-color="#888"/><stop offset=".357" stop-color="#777"/><stop offset=".405" stop-color="#888"/><stop offset=".452" stop-color="#888"/><stop offset=".500" stop-color="#3e3e3e"/><stop offset=".548" stop-color="#777"/><stop offset=".595" stop-color="#cacaca"/><stop offset=".643" stop-color="#989898"/><stop offset=".690" stop-color="#a9a9a9"/><stop offset=".738" stop-color="#808080"/><stop offset=".786" stop-color="#777"/><stop offset=".833" stop-color="#909090"/><stop offset=".976" stop-color="#909090"/></linearGradient>
<linearGradient id="d7" gradientUnits="userSpaceOnUse" x1="783" x2="1194.4" y1="0" y2="0"><stop offset=".024" stop-color="#808080"/><stop offset=".071" stop-color="#888"/><stop offset=".119" stop-color="#8d8d8d"/><stop offset=".167" stop-color="#4e4e4e"/><stop offset=".214" stop-color="#6f6f6f"/><stop offset=".262" stop-color="#b9b9b9"/><stop offset=".310" stop-color="#4e4e4e"/><stop offset=".357" stop-color="#6f6f6f"/><stop offset=".405" stop-color="#5f5f5f"/><stop offset=".452" stop-color="#777"/><stop offset=".500" stop-color="#8d8d8d"/><stop offset=".548" stop-color="#888"/><stop offset=".595" stop-color="#6f6f6f"/><stop offset=".643" stop-color="#808080"/><stop offset=".690" stop-color="#777"/><stop offset=".738" stop-color="#676767"/><stop offset=".786" stop-color="#909090"/><stop offset=".833" stop-color="#b1b1b1"/><stop offset=".881" stop-color="#c1c1c1"/><stop offset=".929" stop-color="#b1b1b1"/><stop offset=".976" stop-color="#a9a9a9"/></linearGradient>
<linearGradient id="d8" gradientUnits="userSpaceOnUse" x1="783" x2="1194.4" y1="0" y2="0"><stop offset=".024" stop-color="#676767"/><stop offset=".071" stop-color="#989898"/><stop offset=".119" stop-color="#a9a9a9"/><stop offset=".167" stop-color="#838383"/><stop offset=".214" stop-color="#6f6f6f"/><stop offset=".262" stop-color="#b1b1b1"/><stop offset=".310" stop-color="#6f6f6f"/><stop offset=".357" stop-color="#989898"/><stop offset=".405" stop-color="#808080"/><stop offset=".452" stop-color="#464646"/><stop offset=".500" stop-color="#6f6f6f"/><stop offset=".548" stop-color="#939393"/><stop offset=".595" stop-color="#5f5f5f"/><stop offset=".690" stop-color="#5f5f5f"/><stop offset=".738" stop-color="#777"/><stop offset=".786" stop-color="#6f6f6f"/><stop offset=".833" stop-color="#939393"/><stop offset=".881" stop-color="#b1b1b1"/><stop offset=".929" stop-color="#a9a9a9"/><stop offset=".976" stop-color="#7b7b7b"/></linearGradient>
<linearGradient id="d9" gradientUnits="userSpaceOnUse" x1="783" x2="1194.4" y1="0" y2="0"><stop offset=".024" stop-color="#6c6c6c"/><stop offset=".071" stop-color="#989898"/><stop offset=".119" stop-color="#8d8d8d"/><stop offset=".167" stop-color="#676767"/><stop offset=".214" stop-color="#4e4e4e"/><stop offset=".262" stop-color="#808080"/><stop offset=".310" stop-color="#989898"/><stop offset=".357" stop-color="#808080"/><stop offset=".405" stop-color="#6f6f6f"/><stop offset=".452" stop-color="#808080"/><stop offset=".500" stop-color="#6f6f6f"/><stop offset=".595" stop-color="#6f6f6f"/><stop offset=".643" stop-color="#8d8d8d"/><stop offset=".690" stop-color="#8d8d8d"/><stop offset=".738" stop-color="#4e4e4e"/><stop offset=".786" stop-color="#676767"/><stop offset=".833" stop-color="#8d8d8d"/><stop offset=".881" stop-color="#a9a9a9"/><stop offset=".929" stop-color="#c1c1c1"/><stop offset=".976" stop-color="#888"/></linearGradient>
<linearGradient id="d10" gradientUnits="userSpaceOnUse" x1="783" x2="1194.4" y1="0" y2="0"><stop offset=".024" stop-color="#777"/><stop offset=".071" stop-color="#6f6f6f"/><stop offset=".119" stop-color="#808080"/><stop offset=".167" stop-color="#888"/><stop offset=".214" stop-color="#464646"/><stop offset=".262" stop-color="#5f5f5f"/><stop offset=".310" stop-color="#cacaca"/><stop offset=".357" stop-color="#c1c1c1"/><stop offset=".405" stop-color="#6c6c6c"/><stop offset=".452" stop-color="#676767"/><stop offset=".500" stop-color="#777"/><stop offset=".548" stop-color="#939393"/><stop offset=".595" stop-color="#464646"/><stop offset=".643" stop-color="#727272"/><stop offset=".690" stop-color="#838383"/><stop offset=".738" stop-color="#4e4e4e"/><stop offset=".786" stop-color="#565656"/><stop offset=".833" stop-color="#5f5f5f"/><stop offset=".881" stop-color="#989898"/><stop offset=".929" stop-color="#a9a9a9"/><stop offset=".976" stop-color="#777"/></linearGradient>
<linearGradient id="d11" gradientUnits="userSpaceOnUse" x1="783" x2="1194.4" y1="0" y2="0"><stop offset=".024" stop-color="#7c7c7c"/><stop offset=".071" stop-color="#7b7b7b"/><stop offset=".119" stop-color="#a9a9a9"/><stop offset=".167" stop-color="#888"/><stop offset=".214" stop-color="#a0a0a0"/><stop offset=".262" stop-color="#6f6f6f"/><stop offset=".310" stop-color="#676767"/><stop offset=".357" stop-color="#909090"/><stop offset=".405" stop-color="#4e4e4e"/><stop offset=".452" stop-color="#777"/><stop offset=".500" stop-color="#939393"/><stop offset=".548" stop-color="#676767"/><stop offset=".595" stop-color="#565656"/><stop offset=".643" stop-color="#6f6f6f"/><stop offset=".690" stop-color="#8d8d8d"/><stop offset=".738" stop-color="#777"/><stop offset=".786" stop-color="#a0a0a0"/><stop offset=".833" stop-color="#c1c1c1"/><stop offset=".881" stop-color="#909090"/><stop offset=".929" stop-color="#939393"/><stop offset=".976" stop-color="#676767"/></linearGradient>
<linearGradient id="d12" gradientUnits="userSpaceOnUse" x1="783" x2="1194.4" y1="0" y2="0"><stop offset=".024" stop-color="#6f6f6f"/><stop offset=".071" stop-color="#8d8d8d"/><stop offset=".119" stop-color="#5f5f5f"/><stop offset=".167" stop-color="#6f6f6f"/><stop offset=".214" stop-color="#a9a9a9"/><stop offset=".262" stop-color="#808080"/><stop offset=".310" stop-color="#6f6f6f"/><stop offset=".405" stop-color="#6f6f6f"/><stop offset=".452" stop-color="#8d8d8d"/><stop offset=".500" stop-color="#4e4e4e"/><stop offset=".548" stop-color="#3e3e3e"/><stop offset=".595" stop-color="#4e4e4e"/><stop offset=".643" stop-color="#777"/><stop offset=".690" stop-color="#5f5f5f"/><stop offset=".738" stop-color="#888"/><stop offset=".786" stop-color="#909090"/><stop offset=".833" stop-color="#939393"/><stop offset=".881" stop-color="#8d8d8d"/><stop offset=".929" stop-color="#777"/><stop offset=".976" stop-color="#909090"/></linearGradient>
<linearGradient id="d13" gradientUnits="userSpaceOnUse" x1="783" x2="1194.4" y1="0" y2="0"><stop offset=".024" stop-color="#909090"/><stop offset=".071" stop-color="#7b7b7b"/><stop offset=".119" stop-color="#a0a0a0"/><stop offset=".167" stop-color="#6f6f6f"/><stop offset=".214" stop-color="#777"/><stop offset=".262" stop-color="#909090"/><stop offset=".310" stop-color="#676767"/><stop offset=".357" stop-color="#777"/><stop offset=".405" stop-color="#888"/><stop offset=".452" stop-color="#a9a9a9"/><stop offset=".500" stop-color="#777"/><stop offset=".548" stop-color="#a0a0a0"/><stop offset=".595" stop-color="#989898"/><stop offset=".643" stop-color="#888"/><stop offset=".690" stop-color="#909090"/><stop offset=".738" stop-color="#888"/><stop offset=".786" stop-color="#6f6f6f"/><stop offset=".833" stop-color="#909090"/><stop offset=".881" stop-color="#676767"/><stop offset=".929" stop-color="#808080"/><stop offset=".976" stop-color="#939393"/></linearGradient>
<linearGradient id="d14" gradientUnits="userSpaceOnUse" x1="783" x2="1194.4" y1="0" y2="0"><stop offset=".024" stop-color="#989898"/><stop offset=".071" stop-color="#808080"/><stop offset=".119" stop-color="#a0a0a0"/><stop offset=".167" stop-color="#909090"/><stop offset=".214" stop-color="#939393"/><stop offset=".262" stop-color="#888"/><stop offset=".310" stop-color="#989898"/><stop offset=".357" stop-color="#888"/><stop offset=".405" stop-color="#777"/><stop offset=".452" stop-color="#727272"/><stop offset=".500" stop-color="#6f6f6f"/><stop offset=".548" stop-color="#5f5f5f"/><stop offset=".595" stop-color="#a0a0a0"/><stop offset=".643" stop-color="#a0a0a0"/><stop offset=".690" stop-color="#989898"/><stop offset=".738" stop-color="#a9a9a9"/><stop offset=".786" stop-color="#808080"/><stop offset=".833" stop-color="#4e4e4e"/><stop offset=".881" stop-color="#676767"/><stop offset=".929" stop-color="#808080"/><stop offset=".976" stop-color="#939393"/></linearGradient>
<linearGradient id="d15" gradientUnits="userSpaceOnUse" x1="783" x2="1194.4" y1="0" y2="0"><stop offset=".024" stop-color="#7c7c7c"/><stop offset=".071" stop-color="#676767"/><stop offset=".119" stop-color="#909090"/><stop offset=".167" stop-color="#a0a0a0"/><stop offset=".214" stop-color="#909090"/><stop offset=".262" stop-color="#6f6f6f"/><stop offset=".310" stop-color="#464646"/><stop offset=".357" stop-color="#676767"/><stop offset=".405" stop-color="#5f5f5f"/><stop offset=".452" stop-color="#909090"/><stop offset=".500" stop-color="#5f5f5f"/><stop offset=".548" stop-color="#888"/><stop offset=".595" stop-color="#727272"/><stop offset=".643" stop-color="#6f6f6f"/><stop offset=".690" stop-color="#676767"/><stop offset=".738" stop-color="#7c7c7c"/><stop offset=".786" stop-color="#838383"/><stop offset=".833" stop-color="#939393"/><stop offset=".881" stop-color="#777"/><stop offset=".929" stop-color="#464646"/><stop offset=".976" stop-color="#6f6f6f"/></linearGradient>
<linearGradient id="d16" gradientUnits="userSpaceOnUse" x1="783" x2="1194.4" y1="0" y2="0"><stop offset=".024" stop-color="#b1b1b1"/><stop offset=".071" stop-color="#b1b1b1"/><stop offset=".119" stop-color="#6f6f6f"/><stop offset=".167" stop-color="#838383"/><stop offset=".214" stop-color="#4e4e4e"/><stop offset=".262" stop-color="#777"/><stop offset=".310" stop-color="#808080"/><stop offset=".357" stop-color="#676767"/><stop offset=".405" stop-color="#4e4e4e"/><stop offset=".452" stop-color="#5f5f5f"/><stop offset=".500" stop-color="#6f6f6f"/><stop offset=".548" stop-color="#8d8d8d"/><stop offset=".595" stop-color="#676767"/><stop offset=".643" stop-color="#8d8d8d"/><stop offset=".690" stop-color="#5f5f5f"/><stop offset=".738" stop-color="#676767"/><stop offset=".786" stop-color="#464646"/><stop offset=".833" stop-color="#777"/><stop offset=".881" stop-color="#808080"/><stop offset=".929" stop-color="#989898"/><stop offset=".976" stop-color="#888"/></linearGradient>
<linearGradient id="d17" gradientUnits="userSpaceOnUse" x1="783" x2="1194.4" y1="0" y2="0"><stop offset=".024" stop-color="#6f6f6f"/><stop offset=".071" stop-color="#989898"/><stop offset=".119" stop-color="#b1b1b1"/><stop offset=".167" stop-color="#d2d2d2"/><stop offset=".214" stop-color="#909090"/><stop offset=".262" stop-color="#a0a0a0"/><stop offset=".310" stop-color="#cacaca"/><stop offset=".357" stop-color="#cacaca"/><stop offset=".405" stop-color="#777"/><stop offset=".452" stop-color="#6f6f6f"/><stop offset=".500" stop-color="#464646"/><stop offset=".548" stop-color="#6f6f6f"/><stop offset=".595" stop-color="#808080"/><stop offset=".643" stop-color="#6f6f6f"/><stop offset=".690" stop-color="#888"/><stop offset=".738" stop-color="#888"/><stop offset=".786" stop-color="#6c6c6c"/><stop offset=".833" stop-color="#6f6f6f"/><stop offset=".881" stop-color="#464646"/><stop offset=".929" stop-color="#565656"/><stop offset=".976" stop-color="#7c7c7c"/></linearGradient>
<linearGradient id="d18" gradientUnits="userSpaceOnUse" x1="783" x2="1194.4" y1="0" y2="0"><stop offset=".024" stop-color="#989898"/><stop offset=".071" stop-color="#676767"/><stop offset=".119" stop-color="#808080"/><stop offset=".167" stop-color="#a9a9a9"/><stop offset=".214" stop-color="#909090"/><stop offset=".262" stop-color="#727272"/><stop offset=".310" stop-color="#909090"/><stop offset=".357" stop-color="#a0a0a0"/><stop offset=".405" stop-color="#939393"/><stop offset=".452" stop-color="#808080"/><stop offset=".500" stop-color="#5f5f5f"/><stop offset=".548" stop-color="#808080"/><stop offset=".595" stop-color="#6f6f6f"/><stop offset=".643" stop-color="#5f5f5f"/><stop offset=".690" stop-color="#8d8d8d"/><stop offset=".738" stop-color="#a9a9a9"/><stop offset=".786" stop-color="#5f5f5f"/><stop offset=".833" stop-color="#888"/><stop offset=".881" stop-color="#939393"/><stop offset=".929" stop-color="#888"/><stop offset=".976" stop-color="#777"/></linearGradient>
<linearGradient id="d19" gradientUnits="userSpaceOnUse" x1="783" x2="1194.4" y1="0" y2="0"><stop offset=".024" stop-color="#777"/><stop offset=".071" stop-color="#676767"/><stop offset=".119" stop-color="#7b7b7b"/><stop offset=".167" stop-color="#909090"/><stop offset=".214" stop-color="#838383"/><stop offset=".262" stop-color="#989898"/><stop offset=".310" stop-color="#6f6f6f"/><stop offset=".357" stop-color="#676767"/><stop offset=".405" stop-color="#5f5f5f"/><stop offset=".452" stop-color="#5f5f5f"/><stop offset=".500" stop-color="#777"/><stop offset=".548" stop-color="#909090"/><stop offset=".595" stop-color="#909090"/><stop offset=".643" stop-color="#808080"/><stop offset=".690" stop-color="#565656"/><stop offset=".738" stop-color="#888"/><stop offset=".786" stop-color="#777"/><stop offset=".833" stop-color="#727272"/><stop offset=".881" stop-color="#939393"/><stop offset=".929" stop-color="#676767"/><stop offset=".976" stop-color="#777"/></linearGradient>
<linearGradient id="d20" gradientUnits="userSpaceOnUse" x1="783" x2="1194.4" y1="0" y2="0"><stop offset=".024" stop-color="#6f6f6f"/><stop offset=".071" stop-color="#565656"/><stop offset=".119" stop-color="#a9a9a9"/><stop offset=".167" stop-color="#5f5f5f"/><stop offset=".214" stop-color="#6f6f6f"/><stop offset=".262" stop-color="#b9b9b9"/><stop offset=".310" stop-color="#808080"/><stop offset=".357" stop-color="#909090"/><stop offset=".405" stop-color="#888"/><stop offset=".452" stop-color="#777"/><stop offset=".500" stop-color="#777"/><stop offset=".548" stop-color="#a0a0a0"/><stop offset=".595" stop-color="#b1b1b1"/><stop offset=".643" stop-color="#b9b9b9"/><stop offset=".690" stop-color="#b9b9b9"/><stop offset=".738" stop-color="#676767"/><stop offset=".786" stop-color="#464646"/><stop offset=".833" stop-color="#6f6f6f"/><stop offset=".881" stop-color="#6f6f6f"/><stop offset=".929" stop-color="#808080"/><stop offset=".976" stop-color="#939393"/></linearGradient>
<clipPath id="cpd"><rect x="783" y="558.9" width="411.4" height="415.8"/></clipPath>
<filter id="qd" filterUnits="userSpaceOnUse" x="773.2" y="549.1" width="431" height="435.4" color-interpolation-filters="sRGB"><feGaussianBlur stdDeviation="2.4" result="b"/><feTurbulence type="fractalNoise" baseFrequency="0.05" numOctaves="1" seed="11"/><feColorMatrix type="matrix" values="1 0 0 0 0 1 0 0 0 0 1 0 0 0 0 0 0 0 0 1"/><feComposite in="b" operator="arithmetic" k1="0" k2="1" k3="0.15" k4="-0.075"/><feComponentTransfer><feFuncR type="discrete" tableValues="0 0.023 0.068 0.114 0.159 0.205 0.25 0.295 0.341 0.386 0.432 0.477 0.523 0.568 0.614 0.659 0.705 0.75 0.795 0.841 0.886 0.932 0.977 1 1 1 1 1 1 1 1 1 1 1 1 1 1 1 1 1 1 1 1 1 1 1"/><feFuncG type="discrete" tableValues="0 0.023 0.068 0.114 0.159 0.205 0.25 0.295 0.341 0.386 0.432 0.477 0.523 0.568 0.614 0.659 0.705 0.75 0.795 0.841 0.886 0.932 0.977 0.977 0.932 0.886 0.841 0.795 0.75 0.705 0.659 0.614 0.568 0.523 0.477 0.432 0.386 0.341 0.295 0.25 0.205 0.159 0.114 0.068 0.023 0"/><feFuncB type="discrete" tableValues="1 1 1 1 1 1 1 1 1 1 1 1 1 1 1 1 1 1 1 1 1 1 1 0.977 0.932 0.886 0.841 0.795 0.75 0.705 0.659 0.614 0.568 0.523 0.477 0.432 0.386 0.341 0.295 0.25 0.205 0.159 0.114 0.068 0.023 0"/></feComponentTransfer><feGaussianBlur stdDeviation=".6"/></filter>
<linearGradient id="e0" gradientUnits="userSpaceOnUse" x1="166" x2="577.4" y1="0" y2="0"><stop offset=".024" stop-color="#8a8a8a"/><stop offset=".071" stop-color="#959595"/><stop offset=".119" stop-color="#989898"/><stop offset=".167" stop-color="#999"/><stop offset=".214" stop-color="#989898"/><stop offset=".262" stop-color="#929292"/><stop offset=".310" stop-color="#909090"/><stop offset=".357" stop-color="#999"/><stop offset=".405" stop-color="#999"/><stop offset=".452" stop-color="#969696"/><stop offset=".500" stop-color="#959595"/><stop offset=".548" stop-color="#959595"/><stop offset=".595" stop-color="#999"/><stop offset=".643" stop-color="#999"/><stop offset=".690" stop-color="#909090"/><stop offset=".738" stop-color="#8c8c8c"/><stop offset=".786" stop-color="#878787"/><stop offset=".833" stop-color="#858585"/><stop offset=".976" stop-color="#858585"/></linearGradient>
<linearGradient id="e1" gradientUnits="userSpaceOnUse" x1="166" x2="577.4" y1="0" y2="0"><stop offset=".024" stop-color="#969696"/><stop offset=".071" stop-color="#989898"/><stop offset=".214" stop-color="#989898"/><stop offset=".262" stop-color="#959595"/><stop offset=".310" stop-color="#909090"/><stop offset=".405" stop-color="#909090"/><stop offset=".452" stop-color="#8f8f8f"/><stop offset=".500" stop-color="#8e8e8e"/><stop offset=".548" stop-color="#8f8f8f"/><stop offset=".595" stop-color="#969696"/><stop offset=".643" stop-color="#959595"/><stop offset=".690" stop-color="#919191"/><stop offset=".738" stop-color="#8a8a8a"/><stop offset=".786" stop-color="#838383"/><stop offset=".833" stop-color="#7c7c7c"/><stop offset=".881" stop-color="#7d7d7d"/><stop offset=".929" stop-color="#838383"/><stop offset=".976" stop-color="#858585"/></linearGradient>
<linearGradient id="e2" gradientUnits="userSpaceOnUse" x1="166" x2="577.4" y1="0" y2="0"><stop offset=".024" stop-color="#949494"/><stop offset=".071" stop-color="#909090"/><stop offset=".119" stop-color="#959595"/><stop offset=".167" stop-color="#989898"/><stop offset=".214" stop-color="#929292"/><stop offset=".262" stop-color="#8f8f8f"/><stop offset=".310" stop-color="#959595"/><stop offset=".357" stop-color="#8e8e8e"/><stop offset=".405" stop-color="#8b8b8b"/><stop offset=".452" stop-color="#8c8c8c"/><stop offset=".500" stop-color="#8e8e8e"/><stop offset=".548" stop-color="#8e8e8e"/><stop offset=".595" stop-color="#919191"/><stop offset=".643" stop-color="#929292"/><stop offset=".690" stop-color="#8f8f8f"/><stop offset=".738" stop-color="#8e8e8e"/><stop offset=".786" stop-color="#8a8a8a"/><stop offset=".833" stop-color="#858585"/><stop offset=".976" stop-color="#858585"/></linearGradient>
<linearGradient id="e3" gradientUnits="userSpaceOnUse" x1="166" x2="577.4" y1="0" y2="0"><stop offset=".024" stop-color="#8f8f8f"/><stop offset=".071" stop-color="#909090"/><stop offset=".119" stop-color="#9e9e9e"/><stop offset=".167" stop-color="#959595"/><stop offset=".214" stop-color="#8f8f8f"/><stop offset=".262" stop-color="#8e8e8e"/><stop offset=".310" stop-color="#8f8f8f"/><stop offset=".357" stop-color="#8e8e8e"/><stop offset=".405" stop-color="#8b8b8b"/><stop offset=".452" stop-color="#868686"/><stop offset=".500" stop-color="#888"/><stop offset=".548" stop-color="#8e8e8e"/><stop offset=".595" stop-color="#8e8e8e"/><stop offset=".643" stop-color="#8f8f8f"/><stop offset=".690" stop-color="#949494"/><stop offset=".738" stop-color="#8e8e8e"/><stop offset=".786" stop-color="#8e8e8e"/><stop offset=".833" stop-color="#8b8b8b"/><stop offset=".881" stop-color="#8b8b8b"/><stop offset=".929" stop-color="#888"/><stop offset=".976" stop-color="#868686"/></linearGradient>
<linearGradient id="e4" gradientUnits="userSpaceOnUse" x1="166" x2="577.4" y1="0" y2="0"><stop offset=".024" stop-color="#959595"/><stop offset=".071" stop-color="#919191"/><stop offset=".119" stop-color="#959595"/><stop offset=".167" stop-color="#8f8f8f"/><stop offset=".214" stop-color="#8e8e8e"/><stop offset=".262" stop-color="#8c8c8c"/><stop offset=".310" stop-color="#8f8f8f"/><stop offset=".357" stop-color="#8e8e8e"/><stop offset=".405" stop-color="#8b8b8b"/><stop offset=".452" stop-color="#868686"/><stop offset=".500" stop-color="#8a8a8a"/><stop offset=".548" stop-color="#8e8e8e"/><stop offset=".595" stop-color="#8e8e8e"/><stop offset=".643" stop-color="#909090"/><stop offset=".690" stop-color="#949494"/><stop offset=".738" stop-color="#8f8f8f"/><stop offset=".786" stop-color="#8e8e8e"/><stop offset=".929" stop-color="#8e8e8e"/><stop offset=".976" stop-color="#8b8b8b"/></linearGradient>
<linearGradient id="e5" gradientUnits="userSpaceOnUse" x1="166" x2="577.4" y1="0" y2="0"><stop offset=".024" stop-color="#909090"/><stop offset=".071" stop-color="#8f8f8f"/><stop offset=".119" stop-color="#8f8f8f"/><stop offset=".167" stop-color="#868686"/><stop offset=".214" stop-color="#8c8c8c"/><stop offset=".262" stop-color="#8f8f8f"/><stop offset=".310" stop-color="#949494"/><stop offset=".357" stop-color="#919191"/><stop offset=".405" stop-color="#8e8e8e"/><stop offset=".595" stop-color="#8e8e8e"/><stop offset=".643" stop-color="#8f8f8f"/><stop offset=".690" stop-color="#919191"/><stop offset=".738" stop-color="#8e8e8e"/><stop offset=".786" stop-color="#8f8f8f"/><stop offset=".833" stop-color="#8e8e8e"/><stop offset=".881" stop-color="#909090"/><stop offset=".929" stop-color="#8e8e8e"/><stop offset=".976" stop-color="#8f8f8f"/></linearGradient>
<linearGradient id="e6" gradientUnits="userSpaceOnUse" x1="166" x2="577.4" y1="0" y2="0"><stop offset=".024" stop-color="#8a8a8a"/><stop offset=".071" stop-color="#909090"/><stop offset=".119" stop-color="#8f8f8f"/><stop offset=".167" stop-color="#8e8e8e"/><stop offset=".214" stop-color="#8a8a8a"/><stop offset=".262" stop-color="#8f8f8f"/><stop offset=".310" stop-color="#8f8f8f"/><stop offset=".357" stop-color="#868686"/><stop offset=".405" stop-color="#868686"/><stop offset=".452" stop-color="#878787"/><stop offset=".500" stop-color="#8b8b8b"/><stop offset=".548" stop-color="#8a8a8a"/><stop offset=".595" stop-color="#878787"/><stop offset=".643" stop-color="#8a8a8a"/><stop offset=".690" stop-color="#8e8e8e"/><stop offset=".786" stop-color="#8e8e8e"/><stop offset=".833" stop-color="#919191"/><stop offset=".881" stop-color="#8e8e8e"/><stop offset=".976" stop-color="#8e8e8e"/></linearGradient>
<linearGradient id="e7" gradientUnits="userSpaceOnUse" x1="166" x2="577.4" y1="0" y2="0"><stop offset=".024" stop-color="#8e8e8e"/><stop offset=".071" stop-color="#8f8f8f"/><stop offset=".119" stop-color="#8c8c8c"/><stop offset=".167" stop-color="#8b8b8b"/><stop offset=".214" stop-color="#878787"/><stop offset=".262" stop-color="#888"/><stop offset=".310" stop-color="#868686"/><stop offset=".357" stop-color="#868686"/><stop offset=".405" stop-color="#878787"/><stop offset=".452" stop-color="#8c8c8c"/><stop offset=".500" stop-color="#878787"/><stop offset=".548" stop-color="#868686"/><stop offset=".595" stop-color="#868686"/><stop offset=".643" stop-color="#8c8c8c"/><stop offset=".690" stop-color="#8e8e8e"/><stop offset=".738" stop-color="#8f8f8f"/><stop offset=".786" stop-color="#949494"/><stop offset=".833" stop-color="#8e8e8e"/><stop offset=".881" stop-color="#8e8e8e"/><stop offset=".929" stop-color="#969696"/><stop offset=".976" stop-color="#929292"/></linearGradient>
<linearGradient id="e8" gradientUnits="userSpaceOnUse" x1="166" x2="577.4" y1="0" y2="0"><stop offset=".024" stop-color="#8e8e8e"/><stop offset=".071" stop-color="#888"/><stop offset=".119" stop-color="#878787"/><stop offset=".167" stop-color="#868686"/><stop offset=".357" stop-color="#868686"/><stop offset=".405" stop-color="#878787"/><stop offset=".452" stop-color="#8c8c8c"/><stop offset=".500" stop-color="#8a8a8a"/><stop offset=".548" stop-color="#878787"/><stop offset=".595" stop-color="#878787"/><stop offset=".643" stop-color="#8c8c8c"/><stop offset=".690" stop-color="#8e8e8e"/><stop offset=".738" stop-color="#8e8e8e"/><stop offset=".786" stop-color="#909090"/><stop offset=".833" stop-color="#959595"/><stop offset=".881" stop-color="#919191"/><stop offset=".929" stop-color="#989898"/><stop offset=".976" stop-color="#969696"/></linearGradient>
<linearGradient id="e9" gradientUnits="userSpaceOnUse" x1="166" x2="577.4" y1="0" y2="0"><stop offset=".024" stop-color="#8e8e8e"/><stop offset=".071" stop-color="#868686"/><stop offset=".119" stop-color="#878787"/><stop offset=".167" stop-color="#878787"/><stop offset=".214" stop-color="#8b8b8b"/><stop offset=".262" stop-color="#888"/><stop offset=".310" stop-color="#878787"/><stop offset=".357" stop-color="#878787"/><stop offset=".405" stop-color="#888"/><stop offset=".452" stop-color="#8c8c8c"/><stop offset=".500" stop-color="#8e8e8e"/><stop offset=".548" stop-color="#8e8e8e"/><stop offset=".595" stop-color="#8c8c8c"/><stop offset=".643" stop-color="#8e8e8e"/><stop offset=".786" stop-color="#8e8e8e"/><stop offset=".833" stop-color="#8f8f8f"/><stop offset=".881" stop-color="#8e8e8e"/><stop offset=".929" stop-color="#949494"/><stop offset=".976" stop-color="#929292"/></linearGradient>
<linearGradient id="e10" gradientUnits="userSpaceOnUse" x1="166" x2="577.4" y1="0" y2="0"><stop offset=".024" stop-color="#8e8e8e"/><stop offset=".071" stop-color="#8b8b8b"/><stop offset=".119" stop-color="#8c8c8c"/><stop offset=".167" stop-color="#8a8a8a"/><stop offset=".214" stop-color="#8e8e8e"/><stop offset=".262" stop-color="#8a8a8a"/><stop offset=".310" stop-color="#8c8c8c"/><stop offset=".357" stop-color="#8c8c8c"/><stop offset=".405" stop-color="#8e8e8e"/><stop offset=".881" stop-color="#8e8e8e"/><stop offset=".929" stop-color="#959595"/><stop offset=".976" stop-color="#959595"/></linearGradient>
<linearGradient id="e11" gradientUnits="userSpaceOnUse" x1="166" x2="577.4" y1="0" y2="0"><stop offset=".024" stop-color="#8f8f8f"/><stop offset=".071" stop-color="#8e8e8e"/><stop offset=".214" stop-color="#8e8e8e"/><stop offset=".262" stop-color="#8a8a8a"/><stop offset=".310" stop-color="#888"/><stop offset=".357" stop-color="#8b8b8b"/><stop offset=".405" stop-color="#8b8b8b"/><stop offset=".452" stop-color="#8e8e8e"/><stop offset=".833" stop-color="#8e8e8e"/><stop offset=".881" stop-color="#8f8f8f"/><stop offset=".929" stop-color="#969696"/><stop offset=".976" stop-color="#989898"/></linearGradient>
<linearGradient id="e12" gradientUnits="userSpaceOnUse" x1="166" x2="577.4" y1="0" y2="0"><stop offset=".024" stop-color="#8e8e8e"/><stop offset=".071" stop-color="#8e8e8e"/><stop offset=".119" stop-color="#8f8f8f"/><stop offset=".167" stop-color="#8f8f8f"/><stop offset=".214" stop-color="#8e8e8e"/><stop offset=".310" stop-color="#8e8e8e"/><stop offset=".357" stop-color="#878787"/><stop offset=".405" stop-color="#868686"/><stop offset=".452" stop-color="#888"/><stop offset=".500" stop-color="#8e8e8e"/><stop offset=".833" stop-color="#8e8e8e"/><stop offset=".881" stop-color="#909090"/><stop offset=".929" stop-color="#969696"/><stop offset=".976" stop-color="#969696"/></linearGradient>
<linearGradient id="e13" gradientUnits="userSpaceOnUse" x1="166" x2="577.4" y1="0" y2="0"><stop offset=".024" stop-color="#8e8e8e"/><stop offset=".310" stop-color="#8e8e8e"/><stop offset=".357" stop-color="#888"/><stop offset=".405" stop-color="#868686"/><stop offset=".452" stop-color="#878787"/><stop offset=".500" stop-color="#8c8c8c"/><stop offset=".548" stop-color="#8e8e8e"/><stop offset=".881" stop-color="#8e8e8e"/><stop offset=".929" stop-color="#8f8f8f"/><stop offset=".976" stop-color="#919191"/></linearGradient>
<linearGradient id="e14" gradientUnits="userSpaceOnUse" x1="166" x2="577.4" y1="0" y2="0"><stop offset=".024" stop-color="#878787"/><stop offset=".071" stop-color="#8c8c8c"/><stop offset=".119" stop-color="#8e8e8e"/><stop offset=".214" stop-color="#8e8e8e"/><stop offset=".262" stop-color="#878787"/><stop offset=".310" stop-color="#878787"/><stop offset=".357" stop-color="#8e8e8e"/><stop offset=".976" stop-color="#8e8e8e"/></linearGradient>
<linearGradient id="e15" gradientUnits="userSpaceOnUse" x1="166" x2="577.4" y1="0" y2="0"><stop offset=".024" stop-color="#868686"/><stop offset=".071" stop-color="#8c8c8c"/><stop offset=".119" stop-color="#8e8e8e"/><stop offset=".167" stop-color="#8e8e8e"/><stop offset=".214" stop-color="#878787"/><stop offset=".262" stop-color="#878787"/><stop offset=".310" stop-color="#8b8b8b"/><stop offset=".357" stop-color="#8c8c8c"/><stop offset=".405" stop-color="#8b8b8b"/><stop offset=".452" stop-color="#8a8a8a"/><stop offset=".500" stop-color="#888"/><stop offset=".548" stop-color="#8c8c8c"/><stop offset=".643" stop-color="#8c8c8c"/><stop offset=".690" stop-color="#8b8b8b"/><stop offset=".738" stop-color="#8a8a8a"/><stop offset=".786" stop-color="#8c8c8c"/><stop offset=".833" stop-color="#888"/><stop offset=".881" stop-color="#8c8c8c"/><stop offset=".929" stop-color="#8e8e8e"/><stop offset=".976" stop-color="#8e8e8e"/></linearGradient>
<linearGradient id="e16" gradientUnits="userSpaceOnUse" x1="166" x2="577.4" y1="0" y2="0"><stop offset=".024" stop-color="#868686"/><stop offset=".071" stop-color="#8c8c8c"/><stop offset=".119" stop-color="#8e8e8e"/><stop offset=".167" stop-color="#8e8e8e"/><stop offset=".214" stop-color="#8b8b8b"/><stop offset=".262" stop-color="#8b8b8b"/><stop offset=".310" stop-color="#8c8c8c"/><stop offset=".357" stop-color="#888"/><stop offset=".405" stop-color="#878787"/><stop offset=".452" stop-color="#888"/><stop offset=".548" stop-color="#888"/><stop offset=".595" stop-color="#8a8a8a"/><stop offset=".643" stop-color="#878787"/><stop offset=".690" stop-color="#878787"/><stop offset=".738" stop-color="#8b8b8b"/><stop offset=".786" stop-color="#8c8c8c"/><stop offset=".833" stop-color="#8b8b8b"/><stop offset=".881" stop-color="#888"/><stop offset=".929" stop-color="#8e8e8e"/><stop offset=".976" stop-color="#8e8e8e"/></linearGradient>
<linearGradient id="e17" gradientUnits="userSpaceOnUse" x1="166" x2="577.4" y1="0" y2="0"><stop offset=".024" stop-color="#868686"/><stop offset=".071" stop-color="#8c8c8c"/><stop offset=".119" stop-color="#8e8e8e"/><stop offset=".167" stop-color="#8e8e8e"/><stop offset=".214" stop-color="#888"/><stop offset=".262" stop-color="#868686"/><stop offset=".310" stop-color="#868686"/><stop offset=".357" stop-color="#858585"/><stop offset=".643" stop-color="#858585"/><stop offset=".690" stop-color="#868686"/><stop offset=".738" stop-color="#888"/><stop offset=".786" stop-color="#8a8a8a"/><stop offset=".833" stop-color="#8b8b8b"/><stop offset=".881" stop-color="#888"/><stop offset=".929" stop-color="#8c8c8c"/><stop offset=".976" stop-color="#8e8e8e"/></linearGradient>
<linearGradient id="e18" gradientUnits="userSpaceOnUse" x1="166" x2="577.4" y1="0" y2="0"><stop offset=".024" stop-color="#868686"/><stop offset=".071" stop-color="#8c8c8c"/><stop offset=".119" stop-color="#8e8e8e"/><stop offset=".214" stop-color="#8e8e8e"/><stop offset=".262" stop-color="#8b8b8b"/><stop offset=".310" stop-color="#878787"/><stop offset=".357" stop-color="#858585"/><stop offset=".738" stop-color="#858585"/><stop offset=".786" stop-color="#868686"/><stop offset=".833" stop-color="#878787"/><stop offset=".881" stop-color="#888"/><stop offset=".929" stop-color="#8c8c8c"/><stop offset=".976" stop-color="#8e8e8e"/></linearGradient>
<linearGradient id="e19" gradientUnits="userSpaceOnUse" x1="166" x2="577.4" y1="0" y2="0"><stop offset=".024" stop-color="#868686"/><stop offset=".071" stop-color="#8a8a8a"/><stop offset=".119" stop-color="#878787"/><stop offset=".167" stop-color="#8c8c8c"/><stop offset=".214" stop-color="#8e8e8e"/><stop offset=".262" stop-color="#8e8e8e"/><stop offset=".310" stop-color="#8a8a8a"/><stop offset=".357" stop-color="#878787"/><stop offset=".405" stop-color="#8a8a8a"/><stop offset=".452" stop-color="#878787"/><stop offset=".500" stop-color="#858585"/><stop offset=".833" stop-color="#858585"/><stop offset=".881" stop-color="#888"/><stop offset=".929" stop-color="#8c8c8c"/><stop offset=".976" stop-color="#8e8e8e"/></linearGradient>
<linearGradient id="e20" gradientUnits="userSpaceOnUse" x1="166" x2="577.4" y1="0" y2="0"><stop offset=".024" stop-color="#858585"/><stop offset=".071" stop-color="#868686"/><stop offset=".119" stop-color="#868686"/><stop offset=".167" stop-color="#8c8c8c"/><stop offset=".214" stop-color="#8e8e8e"/><stop offset=".262" stop-color="#8c8c8c"/><stop offset=".310" stop-color="#878787"/><stop offset=".357" stop-color="#868686"/><stop offset=".405" stop-color="#8a8a8a"/><stop offset=".452" stop-color="#878787"/><stop offset=".500" stop-color="#858585"/><stop offset=".786" stop-color="#858585"/><stop offset=".833" stop-color="#868686"/><stop offset=".881" stop-color="#8a8a8a"/><stop offset=".929" stop-color="#8c8c8c"/><stop offset=".976" stop-color="#8e8e8e"/></linearGradient>
<clipPath id="cpe"><rect x="166" y="1058.6" width="411.4" height="415.8"/></clipPath>
<filter id="qe" filterUnits="userSpaceOnUse" x="156.2" y="1048.8" width="431" height="435.4" color-interpolation-filters="sRGB"><feGaussianBlur stdDeviation="2.4" result="b"/><feTurbulence type="fractalNoise" baseFrequency="0.07" numOctaves="1" seed="13"/><feColorMatrix type="matrix" values="1 0 0 0 0 1 0 0 0 0 1 0 0 0 0 0 0 0 0 1"/><feComposite in="b" operator="arithmetic" k1="0" k2="1" k3="0.035" k4="-0.018"/><feComponentTransfer><feFuncR type="discrete" tableValues="0 0.042 0.125 0.208 0.292 0.375 0.458 0.542 0.625 0.708 0.792 0.875 0.958 1 1 1 1 1 1 1 1 1 1 1 1 1"/><feFuncG type="discrete" tableValues="0 0.042 0.125 0.208 0.292 0.375 0.458 0.542 0.625 0.708 0.792 0.875 0.958 0.958 0.875 0.792 0.708 0.625 0.542 0.458 0.375 0.292 0.208 0.125 0.042 0"/><feFuncB type="discrete" tableValues="1 1 1 1 1 1 1 1 1 1 1 1 1 0.958 0.875 0.792 0.708 0.625 0.542 0.458 0.375 0.292 0.208 0.125 0.042 0"/></feComponentTransfer><feGaussianBlur stdDeviation=".6"/></filter>
<linearGradient id="f0" gradientUnits="userSpaceOnUse" x1="783" x2="1194.4" y1="0" y2="0"><stop offset=".024" stop-color="#aeaeae"/><stop offset=".071" stop-color="#a7a7a7"/><stop offset=".119" stop-color="#a2a2a2"/><stop offset=".167" stop-color="#9a9a9a"/><stop offset=".214" stop-color="#959595"/><stop offset=".262" stop-color="#9e9e9e"/><stop offset=".310" stop-color="#aeaeae"/><stop offset=".357" stop-color="#b6b6b6"/><stop offset=".405" stop-color="#b0b0b0"/><stop offset=".452" stop-color="#b0b0b0"/><stop offset=".500" stop-color="#b3b3b3"/><stop offset=".548" stop-color="#b6b6b6"/><stop offset=".595" stop-color="#bcbcbc"/><stop offset=".643" stop-color="#b6b6b6"/><stop offset=".690" stop-color="#b6b6b6"/><stop offset=".738" stop-color="#aaa"/><stop offset=".786" stop-color="#a4a4a4"/><stop offset=".881" stop-color="#a4a4a4"/><stop offset=".929" stop-color="#aaa"/><stop offset=".976" stop-color="#b0b0b0"/></linearGradient>
<linearGradient id="f1" gradientUnits="userSpaceOnUse" x1="783" x2="1194.4" y1="0" y2="0"><stop offset=".024" stop-color="#aaa"/><stop offset=".071" stop-color="#a7a7a7"/><stop offset=".119" stop-color="#aaa"/><stop offset=".167" stop-color="#9e9e9e"/><stop offset=".214" stop-color="#929292"/><stop offset=".262" stop-color="#989898"/><stop offset=".310" stop-color="#aaa"/><stop offset=".405" stop-color="#aaa"/><stop offset=".452" stop-color="#b3b3b3"/><stop offset=".500" stop-color="#b6b6b6"/><stop offset=".595" stop-color="#b6b6b6"/><stop offset=".643" stop-color="#bababa"/><stop offset=".690" stop-color="#bcbcbc"/><stop offset=".738" stop-color="#b0b0b0"/><stop offset=".786" stop-color="#a4a4a4"/><stop offset=".833" stop-color="#a2a2a2"/><stop offset=".881" stop-color="#a4a4a4"/><stop offset=".929" stop-color="#a4a4a4"/><stop offset=".976" stop-color="#aaa"/></linearGradient>
<linearGradient id="f2" gradientUnits="userSpaceOnUse" x1="783" x2="1194.4" y1="0" y2="0"><stop offset=".024" stop-color="#aeaeae"/><stop offset=".071" stop-color="#aeaeae"/><stop offset=".119" stop-color="#aaa"/><stop offset=".167" stop-color="#a2a2a2"/><stop offset=".214" stop-color="#9a9a9a"/><stop offset=".262" stop-color="#a4a4a4"/><stop offset=".310" stop-color="#b0b0b0"/><stop offset=".357" stop-color="#aeaeae"/><stop offset=".405" stop-color="#aeaeae"/><stop offset=".452" stop-color="#b3b3b3"/><stop offset=".500" stop-color="#bcbcbc"/><stop offset=".548" stop-color="#b6b6b6"/><stop offset=".595" stop-color="#b6b6b6"/><stop offset=".643" stop-color="#bfbfbf"/><stop offset=".690" stop-color="#c3c3c3"/><stop offset=".738" stop-color="#bababa"/><stop offset=".786" stop-color="#b0b0b0"/><stop offset=".833" stop-color="#a7a7a7"/><stop offset=".881" stop-color="#a4a4a4"/><stop offset=".929" stop-color="#a4a4a4"/><stop offset=".976" stop-color="#a7a7a7"/></linearGradient>
<linearGradient id="f3" gradientUnits="userSpaceOnUse" x1="783" x2="1194.4" y1="0" y2="0"><stop offset=".024" stop-color="#949494"/><stop offset=".071" stop-color="#9d9d9d"/><stop offset=".119" stop-color="#a2a2a2"/><stop offset=".167" stop-color="#a0a0a0"/><stop offset=".214" stop-color="#a4a4a4"/><stop offset=".262" stop-color="#aaa"/><stop offset=".310" stop-color="#bababa"/><stop offset=".357" stop-color="#bababa"/><stop offset=".405" stop-color="#b0b0b0"/><stop offset=".452" stop-color="#b3b3b3"/><stop offset=".500" stop-color="#b6b6b6"/><stop offset=".548" stop-color="#b6b6b6"/><stop offset=".595" stop-color="#bababa"/><stop offset=".643" stop-color="#bcbcbc"/><stop offset=".690" stop-color="#c3c3c3"/><stop offset=".738" stop-color="#c3c3c3"/><stop offset=".786" stop-color="#bababa"/><stop offset=".833" stop-color="#b0b0b0"/><stop offset=".881" stop-color="#aaa"/><stop offset=".929" stop-color="#a4a4a4"/><stop offset=".976" stop-color="#a2a2a2"/></linearGradient>
<linearGradient id="f4" gradientUnits="userSpaceOnUse" x1="783" x2="1194.4" y1="0" y2="0"><stop offset=".024" stop-color="#8e8e8e"/><stop offset=".071" stop-color="#959595"/><stop offset=".119" stop-color="#9e9e9e"/><stop offset=".167" stop-color="#9d9d9d"/><stop offset=".214" stop-color="#9a9a9a"/><stop offset=".262" stop-color="#a4a4a4"/><stop offset=".310" stop-color="#bcbcbc"/><stop offset=".357" stop-color="#bcbcbc"/><stop offset=".405" stop-color="#bababa"/><stop offset=".452" stop-color="#b6b6b6"/><stop offset=".500" stop-color="#b6b6b6"/><stop offset=".548" stop-color="#bababa"/><stop offset=".595" stop-color="#bfbfbf"/><stop offset=".643" stop-color="#c6c6c6"/><stop offset=".690" stop-color="#cfcfcf"/><stop offset=".738" stop-color="#c3c3c3"/><stop offset=".786" stop-color="#bcbcbc"/><stop offset=".833" stop-color="#b6b6b6"/><stop offset=".881" stop-color="#b0b0b0"/><stop offset=".929" stop-color="#aaa"/><stop offset=".976" stop-color="#a2a2a2"/></linearGradient>
<linearGradient id="f5" gradientUnits="userSpaceOnUse" x1="783" x2="1194.4" y1="0" y2="0"><stop offset=".024" stop-color="#959595"/><stop offset=".071" stop-color="#9a9a9a"/><stop offset=".119" stop-color="#a2a2a2"/><stop offset=".167" stop-color="#9e9e9e"/><stop offset=".214" stop-color="#9e9e9e"/><stop offset=".262" stop-color="#aaa"/><stop offset=".310" stop-color="#bfbfbf"/><stop offset=".357" stop-color="#bfbfbf"/><stop offset=".405" stop-color="#c3c3c3"/><stop offset=".452" stop-color="#c3c3c3"/><stop offset=".500" stop-color="#c6c6c6"/><stop offset=".548" stop-color="#bfbfbf"/><stop offset=".595" stop-color="#bfbfbf"/><stop offset=".643" stop-color="#c9c9c9"/><stop offset=".690" stop-color="#cfcfcf"/><stop offset=".738" stop-color="#c3c3c3"/><stop offset=".786" stop-color="#bcbcbc"/><stop offset=".833" stop-color="#bcbcbc"/><stop offset=".881" stop-color="#bababa"/><stop offset=".929" stop-color="#b3b3b3"/><stop offset=".976" stop-color="#aeaeae"/></linearGradient>
<linearGradient id="f6" gradientUnits="userSpaceOnUse" x1="783" x2="1194.4" y1="0" y2="0"><stop offset=".024" stop-color="#a4a4a4"/><stop offset=".071" stop-color="#aaa"/><stop offset=".119" stop-color="#aeaeae"/><stop offset=".167" stop-color="#aaa"/><stop offset=".214" stop-color="#aaa"/><stop offset=".262" stop-color="#b0b0b0"/><stop offset=".310" stop-color="#bababa"/><stop offset=".357" stop-color="#c3c3c3"/><stop offset=".405" stop-color="#c6c6c6"/><stop offset=".452" stop-color="#c3c3c3"/><stop offset=".500" stop-color="#c3c3c3"/><stop offset=".548" stop-color="#bababa"/><stop offset=".595" stop-color="#bababa"/><stop offset=".643" stop-color="#c6c6c6"/><stop offset=".690" stop-color="#cfcfcf"/><stop offset=".738" stop-color="#c9c9c9"/><stop offset=".786" stop-color="#c9c9c9"/><stop offset=".833" stop-color="#c3c3c3"/><stop offset=".881" stop-color="#bcbcbc"/><stop offset=".929" stop-color="#bababa"/><stop offset=".976" stop-color="#b6b6b6"/></linearGradient>
<linearGradient id="f7" gradientUnits="userSpaceOnUse" x1="783" x2="1194.4" y1="0" y2="0"><stop offset=".024" stop-color="#aeaeae"/><stop offset=".071" stop-color="#bababa"/><stop offset=".119" stop-color="#bfbfbf"/><stop offset=".167" stop-color="#bcbcbc"/><stop offset=".214" stop-color="#bcbcbc"/><stop offset=".262" stop-color="#bfbfbf"/><stop offset=".310" stop-color="#bcbcbc"/><stop offset=".357" stop-color="#c3c3c3"/><stop offset=".405" stop-color="#c9c9c9"/><stop offset=".452" stop-color="#c3c3c3"/><stop offset=".500" stop-color="#bcbcbc"/><stop offset=".548" stop-color="#bababa"/><stop offset=".595" stop-color="#b6b6b6"/><stop offset=".643" stop-color="#bcbcbc"/><stop offset=".690" stop-color="#c9c9c9"/><stop offset=".738" stop-color="#d2d2d2"/><stop offset=".786" stop-color="#d7d7d7"/><stop offset=".833" stop-color="#cfcfcf"/><stop offset=".881" stop-color="#cbcbcb"/><stop offset=".929" stop-color="#c6c6c6"/><stop offset=".976" stop-color="#bababa"/></linearGradient>
<linearGradient id="f8" gradientUnits="userSpaceOnUse" x1="783" x2="1194.4" y1="0" y2="0"><stop offset=".024" stop-color="#b3b3b3"/><stop offset=".071" stop-color="#bcbcbc"/><stop offset=".119" stop-color="#bfbfbf"/><stop offset=".167" stop-color="#c3c3c3"/><stop offset=".214" stop-color="#c3c3c3"/><stop offset=".262" stop-color="#bfbfbf"/><stop offset=".405" stop-color="#bfbfbf"/><stop offset=".452" stop-color="#c3c3c3"/><stop offset=".500" stop-color="#c3c3c3"/><stop offset=".548" stop-color="#bcbcbc"/><stop offset=".595" stop-color="#bcbcbc"/><stop offset=".643" stop-color="#c3c3c3"/><stop offset=".690" stop-color="#c6c6c6"/><stop offset=".738" stop-color="#cbcbcb"/><stop offset=".786" stop-color="#d5d5d5"/><stop offset=".833" stop-color="#d7d7d7"/><stop offset=".881" stop-color="#cfcfcf"/><stop offset=".929" stop-color="#c9c9c9"/><stop offset=".976" stop-color="#bcbcbc"/></linearGradient>
<linearGradient id="f9" gradientUnits="userSpaceOnUse" x1="783" x2="1194.4" y1="0" y2="0"><stop offset=".024" stop-color="#bcbcbc"/><stop offset=".119" stop-color="#bcbcbc"/><stop offset=".167" stop-color="#c3c3c3"/><stop offset=".214" stop-color="#bfbfbf"/><stop offset=".262" stop-color="#bfbfbf"/><stop offset=".310" stop-color="#c3c3c3"/><stop offset=".357" stop-color="#bcbcbc"/><stop offset=".405" stop-color="#bcbcbc"/><stop offset=".452" stop-color="#bfbfbf"/><stop offset=".500" stop-color="#c3c3c3"/><stop offset=".548" stop-color="#c6c6c6"/><stop offset=".595" stop-color="#c9c9c9"/><stop offset=".643" stop-color="#c9c9c9"/><stop offset=".690" stop-color="#c3c3c3"/><stop offset=".738" stop-color="#c9c9c9"/><stop offset=".786" stop-color="#cbcbcb"/><stop offset=".833" stop-color="#cfcfcf"/><stop offset=".881" stop-color="#cbcbcb"/><stop offset=".929" stop-color="#c9c9c9"/><stop offset=".976" stop-color="#c3c3c3"/></linearGradient>
<linearGradient id="f10" gradientUnits="userSpaceOnUse" x1="783" x2="1194.4" y1="0" y2="0"><stop offset=".024" stop-color="#bfbfbf"/><stop offset=".071" stop-color="#bcbcbc"/><stop offset=".119" stop-color="#bfbfbf"/><stop offset=".167" stop-color="#c6c6c6"/><stop offset=".214" stop-color="#c3c3c3"/><stop offset=".310" stop-color="#c3c3c3"/><stop offset=".357" stop-color="#bfbfbf"/><stop offset=".405" stop-color="#bcbcbc"/><stop offset=".452" stop-color="#bfbfbf"/><stop offset=".500" stop-color="#cfcfcf"/><stop offset=".548" stop-color="#dfdfdf"/><stop offset=".595" stop-color="#d5d5d5"/><stop offset=".643" stop-color="#cfcfcf"/><stop offset=".690" stop-color="#c6c6c6"/><stop offset=".738" stop-color="#c6c6c6"/><stop offset=".786" stop-color="#bfbfbf"/><stop offset=".833" stop-color="#bfbfbf"/><stop offset=".881" stop-color="#c6c6c6"/><stop offset=".929" stop-color="#c9c9c9"/><stop offset=".976" stop-color="#cfcfcf"/></linearGradient>
<linearGradient id="f11" gradientUnits="userSpaceOnUse" x1="783" x2="1194.4" y1="0" y2="0"><stop offset=".024" stop-color="#cfcfcf"/><stop offset=".071" stop-color="#cfcfcf"/><stop offset=".119" stop-color="#d2d2d2"/><stop offset=".167" stop-color="#d5d5d5"/><stop offset=".214" stop-color="#d2d2d2"/><stop offset=".262" stop-color="#cfcfcf"/><stop offset=".310" stop-color="#cbcbcb"/><stop offset=".357" stop-color="#c9c9c9"/><stop offset=".405" stop-color="#c3c3c3"/><stop offset=".452" stop-color="#c3c3c3"/><stop offset=".500" stop-color="#d7d7d7"/><stop offset=".548" stop-color="#dbdbdb"/><stop offset=".595" stop-color="#d7d7d7"/><stop offset=".643" stop-color="#dbdbdb"/><stop offset=".690" stop-color="#dbdbdb"/><stop offset=".738" stop-color="#d5d5d5"/><stop offset=".786" stop-color="#c6c6c6"/><stop offset=".833" stop-color="#c3c3c3"/><stop offset=".881" stop-color="#c9c9c9"/><stop offset=".929" stop-color="#d5d5d5"/><stop offset=".976" stop-color="#e4e4e4"/></linearGradient>
<linearGradient id="f12" gradientUnits="userSpaceOnUse" x1="783" x2="1194.4" y1="0" y2="0"><stop offset=".024" stop-color="#dbdbdb"/><stop offset=".071" stop-color="#dbdbdb"/><stop offset=".119" stop-color="#e4e4e4"/><stop offset=".167" stop-color="#ebebeb"/><stop offset=".214" stop-color="#e7e7e7"/><stop offset=".262" stop-color="#dbdbdb"/><stop offset=".310" stop-color="#d7d7d7"/><stop offset=".357" stop-color="#d5d5d5"/><stop offset=".405" stop-color="#c3c3c3"/><stop offset=".452" stop-color="#c3c3c3"/><stop offset=".500" stop-color="#d2d2d2"/><stop offset=".548" stop-color="#d7d7d7"/><stop offset=".595" stop-color="#e1e1e1"/><stop offset=".643" stop-color="#e4e4e4"/><stop offset=".690" stop-color="#e1e1e1"/><stop offset=".738" stop-color="#dbdbdb"/><stop offset=".786" stop-color="#d2d2d2"/><stop offset=".833" stop-color="#cfcfcf"/><stop offset=".881" stop-color="#d7d7d7"/><stop offset=".929" stop-color="#e7e7e7"/><stop offset=".976" stop-color="#ebebeb"/></linearGradient>
<linearGradient id="f13" gradientUnits="userSpaceOnUse" x1="783" x2="1194.4" y1="0" y2="0"><stop offset=".024" stop-color="#dfdfdf"/><stop offset=".071" stop-color="#dfdfdf"/><stop offset=".119" stop-color="#e1e1e1"/><stop offset=".167" stop-color="#e1e1e1"/><stop offset=".214" stop-color="#dfdfdf"/><stop offset=".262" stop-color="#dbdbdb"/><stop offset=".310" stop-color="#d7d7d7"/><stop offset=".357" stop-color="#d7d7d7"/><stop offset=".405" stop-color="#cbcbcb"/><stop offset=".452" stop-color="#cfcfcf"/><stop offset=".500" stop-color="#d5d5d5"/><stop offset=".548" stop-color="#dfdfdf"/><stop offset=".595" stop-color="#ebebeb"/><stop offset=".643" stop-color="#e4e4e4"/><stop offset=".690" stop-color="#e1e1e1"/><stop offset=".738" stop-color="#dfdfdf"/><stop offset=".786" stop-color="#dbdbdb"/><stop offset=".833" stop-color="#dbdbdb"/><stop offset=".881" stop-color="#e1e1e1"/><stop offset=".929" stop-color="#ebebeb"/><stop offset=".976" stop-color="#e7e7e7"/></linearGradient>
<linearGradient id="f14" gradientUnits="userSpaceOnUse" x1="783" x2="1194.4" y1="0" y2="0"><stop offset=".024" stop-color="#e1e1e1"/><stop offset=".071" stop-color="#dfdfdf"/><stop offset=".119" stop-color="#d7d7d7"/><stop offset=".167" stop-color="#d2d2d2"/><stop offset=".357" stop-color="#d2d2d2"/><stop offset=".405" stop-color="#d7d7d7"/><stop offset=".452" stop-color="#dbdbdb"/><stop offset=".500" stop-color="#dbdbdb"/><stop offset=".548" stop-color="#e1e1e1"/><stop offset=".595" stop-color="#e7e7e7"/><stop offset=".643" stop-color="#dfdfdf"/><stop offset=".690" stop-color="#dbdbdb"/><stop offset=".738" stop-color="#dfdfdf"/><stop offset=".786" stop-color="#e1e1e1"/><stop offset=".976" stop-color="#e1e1e1"/></linearGradient>
<linearGradient id="f15" gradientUnits="userSpaceOnUse" x1="783" x2="1194.4" y1="0" y2="0"><stop offset=".024" stop-color="#cbcbcb"/><stop offset=".071" stop-color="#cbcbcb"/><stop offset=".119" stop-color="#c9c9c9"/><stop offset=".167" stop-color="#c3c3c3"/><stop offset=".214" stop-color="#c3c3c3"/><stop offset=".262" stop-color="#cbcbcb"/><stop offset=".310" stop-color="#cfcfcf"/><stop offset=".357" stop-color="#d7d7d7"/><stop offset=".643" stop-color="#d7d7d7"/><stop offset=".690" stop-color="#d5d5d5"/><stop offset=".738" stop-color="#d7d7d7"/><stop offset=".786" stop-color="#dbdbdb"/><stop offset=".833" stop-color="#dfdfdf"/><stop offset=".881" stop-color="#e1e1e1"/><stop offset=".929" stop-color="#e4e4e4"/><stop offset=".976" stop-color="#e4e4e4"/></linearGradient>
<linearGradient id="f16" gradientUnits="userSpaceOnUse" x1="783" x2="1194.4" y1="0" y2="0"><stop offset=".024" stop-color="#bfbfbf"/><stop offset=".071" stop-color="#bcbcbc"/><stop offset=".119" stop-color="#bfbfbf"/><stop offset=".167" stop-color="#c9c9c9"/><stop offset=".214" stop-color="#c9c9c9"/><stop offset=".262" stop-color="#cfcfcf"/><stop offset=".310" stop-color="#d5d5d5"/><stop offset=".357" stop-color="#cfcfcf"/><stop offset=".405" stop-color="#cfcfcf"/><stop offset=".452" stop-color="#d2d2d2"/><stop offset=".500" stop-color="#d5d5d5"/><stop offset=".548" stop-color="#d2d2d2"/><stop offset=".595" stop-color="#cfcfcf"/><stop offset=".643" stop-color="#cfcfcf"/><stop offset=".690" stop-color="#d2d2d2"/><stop offset=".738" stop-color="#d7d7d7"/><stop offset=".786" stop-color="#dbdbdb"/><stop offset=".833" stop-color="#dfdfdf"/><stop offset=".929" stop-color="#dfdfdf"/><stop offset=".976" stop-color="#e1e1e1"/></linearGradient>
<linearGradient id="f17" gradientUnits="userSpaceOnUse" x1="783" x2="1194.4" y1="0" y2="0"><stop offset=".024" stop-color="#c3c3c3"/><stop offset=".071" stop-color="#c6c6c6"/><stop offset=".119" stop-color="#cbcbcb"/><stop offset=".167" stop-color="#cfcfcf"/><stop offset=".214" stop-color="#cbcbcb"/><stop offset=".262" stop-color="#c9c9c9"/><stop offset=".310" stop-color="#d2d2d2"/><stop offset=".452" stop-color="#d2d2d2"/><stop offset=".500" stop-color="#d5d5d5"/><stop offset=".548" stop-color="#d2d2d2"/><stop offset=".595" stop-color="#cfcfcf"/><stop offset=".643" stop-color="#c9c9c9"/><stop offset=".690" stop-color="#cbcbcb"/><stop offset=".738" stop-color="#d7d7d7"/><stop offset=".786" stop-color="#dfdfdf"/><stop offset=".833" stop-color="#e1e1e1"/><stop offset=".881" stop-color="#dfdfdf"/><stop offset=".929" stop-color="#dbdbdb"/><stop offset=".976" stop-color="#dfdfdf"/></linearGradient>
<linearGradient id="f18" gradientUnits="userSpaceOnUse" x1="783" x2="1194.4" y1="0" y2="0"><stop offset=".024" stop-color="#dbdbdb"/><stop offset=".071" stop-color="#dfdfdf"/><stop offset=".119" stop-color="#e1e1e1"/><stop offset=".167" stop-color="#dbdbdb"/><stop offset=".214" stop-color="#d7d7d7"/><stop offset=".262" stop-color="#cfcfcf"/><stop offset=".310" stop-color="#d2d2d2"/><stop offset=".357" stop-color="#cfcfcf"/><stop offset=".405" stop-color="#d2d2d2"/><stop offset=".452" stop-color="#d5d5d5"/><stop offset=".500" stop-color="#d7d7d7"/><stop offset=".548" stop-color="#d5d5d5"/><stop offset=".595" stop-color="#d5d5d5"/><stop offset=".643" stop-color="#d2d2d2"/><stop offset=".690" stop-color="#d2d2d2"/><stop offset=".738" stop-color="#dbdbdb"/><stop offset=".786" stop-color="#e1e1e1"/><stop offset=".833" stop-color="#e7e7e7"/><stop offset=".881" stop-color="#e7e7e7"/><stop offset=".929" stop-color="#e1e1e1"/><stop offset=".976" stop-color="#e1e1e1"/></linearGradient>
<linearGradient id="f19" gradientUnits="userSpaceOnUse" x1="783" x2="1194.4" y1="0" y2="0"><stop offset=".024" stop-color="#e1e1e1"/><stop offset=".071" stop-color="#ebebeb"/><stop offset=".119" stop-color="#e4e4e4"/><stop offset=".167" stop-color="#e1e1e1"/><stop offset=".214" stop-color="#e7e7e7"/><stop offset=".262" stop-color="#e1e1e1"/><stop offset=".310" stop-color="#d7d7d7"/><stop offset=".357" stop-color="#d5d5d5"/><stop offset=".405" stop-color="#d7d7d7"/><stop offset=".452" stop-color="#e1e1e1"/><stop offset=".500" stop-color="#d7d7d7"/><stop offset=".548" stop-color="#d2d2d2"/><stop offset=".595" stop-color="#d5d5d5"/><stop offset=".643" stop-color="#d5d5d5"/><stop offset=".690" stop-color="#d7d7d7"/><stop offset=".738" stop-color="#e4e4e4"/><stop offset=".786" stop-color="#e7e7e7"/><stop offset=".833" stop-color="#e4e4e4"/><stop offset=".881" stop-color="#e1e1e1"/><stop offset=".929" stop-color="#dfdfdf"/><stop offset=".976" stop-color="#dbdbdb"/></linearGradient>
<linearGradient id="f20" gradientUnits="userSpaceOnUse" x1="783" x2="1194.4" y1="0" y2="0"><stop offset=".024" stop-color="#dfdfdf"/><stop offset=".071" stop-color="#e4e4e4"/><stop offset=".119" stop-color="#e4e4e4"/><stop offset=".167" stop-color="#dfdfdf"/><stop offset=".262" stop-color="#dfdfdf"/><stop offset=".310" stop-color="#dbdbdb"/><stop offset=".405" stop-color="#dbdbdb"/><stop offset=".452" stop-color="#dfdfdf"/><stop offset=".500" stop-color="#d7d7d7"/><stop offset=".548" stop-color="#d5d5d5"/><stop offset=".595" stop-color="#d7d7d7"/><stop offset=".643" stop-color="#d7d7d7"/><stop offset=".690" stop-color="#dbdbdb"/><stop offset=".738" stop-color="#e1e1e1"/><stop offset=".786" stop-color="#e4e4e4"/><stop offset=".833" stop-color="#dfdfdf"/><stop offset=".881" stop-color="#d7d7d7"/><stop offset=".929" stop-color="#d2d2d2"/><stop offset=".976" stop-color="#cfcfcf"/></linearGradient>
<clipPath id="cpf"><rect x="783" y="1058.6" width="411.4" height="415.8"/></clipPath>
<filter id="qf" filterUnits="userSpaceOnUse" x="773.2" y="1048.8" width="431" height="435.4" color-interpolation-filters="sRGB"><feGaussianBlur stdDeviation="2.4" result="b"/><feTurbulence type="fractalNoise" baseFrequency="0.05" numOctaves="1" seed="17"/><feColorMatrix type="matrix" values="1 0 0 0 0 1 0 0 0 0 1 0 0 0 0 0 0 0 0 1"/><feComposite in="b" operator="arithmetic" k1="0" k2="1" k3="0.05" k4="-0.025"/><feComponentTransfer><feFuncR type="table" tableValues="0 0 0 0.023 0.045 0.068 0.091 0.114 0.136 0.159 0.182 0.205 0.227 0.25 0.273 0.295 0.318 0.341 0.364 0.386 0.409 0.432 0.455 0.477 0.5 0.523 0.545 0.568 0.591 0.614 0.636 0.659 0.682 0.705 0.727 0.75 0.773 0.795 0.818 0.841 0.864 0.886 0.909 0.932 0.955 0.977 1 1 1 1 1 1 1 1 1 1 1 1 1 1 1 1 1 1 1 1 1 1 1 1 1 1 1 1 1 1 1 1 1 1 1 1 1 1 1 1 1 1 1 1 1 1 1"/><feFuncG type="table" tableValues="0 0 0 0.023 0.045 0.068 0.091 0.114 0.136 0.159 0.182 0.205 0.227 0.25 0.273 0.295 0.318 0.341 0.364 0.386 0.409 0.432 0.455 0.477 0.5 0.523 0.545 0.568 0.591 0.614 0.636 0.659 0.682 0.705 0.727 0.75 0.773 0.795 0.818 0.841 0.864 0.886 0.909 0.932 0.955 0.977 1 0.977 0.955 0.932 0.909 0.886 0.864 0.841 0.818 0.795 0.773 0.75 0.727 0.705 0.682 0.659 0.636 0.614 0.591 0.568 0.545 0.523 0.5 0.477 0.455 0.432 0.409 0.386 0.364 0.341 0.318 0.295 0.273 0.25 0.227 0.205 0.182 0.159 0.136 0.114 0.091 0.068 0.045 0.023 0 0 0"/><feFuncB type="table" tableValues="1 1 1 1 1 1 1 1 1 1 1 1 1 1 1 1 1 1 1 1 1 1 1 1 1 1 1 1 1 1 1 1 1 1 1 1 1 1 1 1 1 1 1 1 1 1 1 0.977 0.955 0.932 0.909 0.886 0.864 0.841 0.818 0.795 0.773 0.75 0.727 0.705 0.682 0.659 0.636 0.614 0.591 0.568 0.545 0.523 0.5 0.477 0.455 0.432 0.409 0.386 0.364 0.341 0.318 0.295 0.273 0.25 0.227 0.205 0.182 0.159 0.136 0.114 0.091 0.068 0.045 0.023 0 0 0"/></feComponentTransfer></filter>
<linearGradient id="cbg" x1="0" y1="0" x2="0" y2="1"><stop offset="0" stop-color="#f00"/><stop offset=".5" stop-color="#fff"/><stop offset="1" stop-color="#00f"/></linearGradient>
</defs>
<g opacity=".999">
<!-- panel a -->
<g clip-path="url(#cpa)"><g filter="url(#qa)">
<rect x="156.2" y="49.4" width="431" height="40" fill="url(#a0)"/>
<rect x="156.2" y="69.1" width="431" height="39.6" fill="url(#a1)" mask="url(#vm)"/>
<rect x="156.2" y="88.9" width="431" height="39.6" fill="url(#a2)" mask="url(#vm)"/>
<rect x="156.2" y="108.7" width="431" height="39.6" fill="url(#a3)" mask="url(#vm)"/>
<rect x="156.2" y="128.5" width="431" height="39.6" fill="url(#a4)" mask="url(#vm)"/>
<rect x="156.2" y="148.3" width="431" height="39.6" fill="url(#a5)" mask="url(#vm)"/>
<rect x="156.2" y="168.1" width="431" height="39.6" fill="url(#a6)" mask="url(#vm)"/>
<rect x="156.2" y="187.9" width="431" height="39.6" fill="url(#a7)" mask="url(#vm)"/>
<rect x="156.2" y="207.7" width="431" height="39.6" fill="url(#a8)" mask="url(#vm)"/>
<rect x="156.2" y="227.5" width="431" height="39.6" fill="url(#a9)" mask="url(#vm)"/>
<rect x="156.2" y="247.3" width="431" height="39.6" fill="url(#a10)" mask="url(#vm)"/>
<rect x="156.2" y="267.1" width="431" height="39.6" fill="url(#a11)" mask="url(#vm)"/>
<rect x="156.2" y="286.9" width="431" height="39.6" fill="url(#a12)" mask="url(#vm)"/>
<rect x="156.2" y="306.7" width="431" height="39.6" fill="url(#a13)" mask="url(#vm)"/>
<rect x="156.2" y="326.5" width="431" height="39.6" fill="url(#a14)" mask="url(#vm)"/>
<rect x="156.2" y="346.3" width="431" height="39.6" fill="url(#a15)" mask="url(#vm)"/>
<rect x="156.2" y="366.1" width="431" height="39.6" fill="url(#a16)" mask="url(#vm)"/>
<rect x="156.2" y="385.9" width="431" height="39.6" fill="url(#a17)" mask="url(#vm)"/>
<rect x="156.2" y="405.7" width="431" height="39.6" fill="url(#a18)" mask="url(#vm)"/>
<rect x="156.2" y="425.5" width="431" height="39.6" fill="url(#a19)" mask="url(#vm)"/>
<rect x="156.2" y="445.3" width="431" height="39.6" fill="url(#a20)" mask="url(#vm)"/>

</g></g>
<g clip-path="url(#cpa)"><ellipse cx="371.7" cy="267.1" rx="195.9" ry="198" fill="none" stroke="#000" stroke-width="3" stroke-dasharray="10.6 4.31" stroke-dashoffset="1.4"/><ellipse cx="371.7" cy="267.1" rx="97.95" ry="99" fill="none" stroke="#000" stroke-width="3" stroke-dasharray="10.6 4.31" stroke-dashoffset="5.9"/><ellipse cx="371.7" cy="267.1" rx="39.18" ry="39.6" fill="none" stroke="#000" stroke-width="3" stroke-dasharray="10.6 4.31" stroke-dashoffset="9"/><circle cx="352.11" cy="227.5" r="2"/><circle cx="352.11" cy="247.3" r="2"/><circle cx="352.11" cy="267.1" r="2"/></g>
<rect x="166" y="59.2" width="411.4" height="415.8" fill="none" stroke="#000" stroke-width="2"/>
<text class="pl" transform="translate(137.5 30.2) scale(0.96 1)">a</text>
<path d="M165 69.1h-9" stroke="#000" stroke-width="2"/>
<text class="tl" transform="translate(113.5 82.3) scale(1.12 1)" text-anchor="end">10</text>
<circle cx="129" cy="59.3" r="3.95" fill="none" stroke="#000" stroke-width="1.8"/>
<path d="M165 168.1h-9" stroke="#000" stroke-width="2"/>
<text class="tl" transform="translate(113.5 181.3) scale(1.12 1)" text-anchor="end">5</text>
<circle cx="129" cy="158.3" r="3.95" fill="none" stroke="#000" stroke-width="1.8"/>
<path d="M165 267.1h-9" stroke="#000" stroke-width="2"/>
<text class="tl" transform="translate(113.5 280.3) scale(1.12 1)" text-anchor="end">0</text>
<circle cx="129" cy="257.3" r="3.95" fill="none" stroke="#000" stroke-width="1.8"/>
<path d="M165 366.1h-9" stroke="#000" stroke-width="2"/>
<text class="tl" transform="translate(113.5 379.3) scale(1.09 1)" text-anchor="end">-5</text>
<circle cx="129" cy="356.3" r="3.95" fill="none" stroke="#000" stroke-width="1.8"/>
<path d="M165 465.1h-9" stroke="#000" stroke-width="2"/>
<text class="tl" transform="translate(113.5 478.3) scale(1.09 1)" text-anchor="end">-10</text>
<circle cx="129" cy="455.3" r="3.95" fill="none" stroke="#000" stroke-width="1.8"/>
<text class="al" transform="translate(30.8 266.1) rotate(-90)" text-anchor="middle">Latitude distance</text>
<rect x="597.3" y="93" width="39.7" height="7.96" fill="#ff0606"/>
<rect x="597.3" y="100.56" width="39.7" height="7.96" fill="#f11"/>
<rect x="597.3" y="108.12" width="39.7" height="7.96" fill="#ff1d1d"/>
<rect x="597.3" y="115.68" width="39.7" height="7.96" fill="#ff2929"/>
<rect x="597.3" y="123.24" width="39.7" height="7.96" fill="#ff3434"/>
<rect x="597.3" y="130.8" width="39.7" height="7.96" fill="#ff4040"/>
<rect x="597.3" y="138.35" width="39.7" height="7.96" fill="#ff4b4b"/>
<rect x="597.3" y="145.91" width="39.7" height="7.96" fill="#ff5757"/>
<rect x="597.3" y="153.47" width="39.7" height="7.96" fill="#ff6363"/>
<rect x="597.3" y="161.03" width="39.7" height="7.96" fill="#ff6e6e"/>
<rect x="597.3" y="168.59" width="39.7" height="7.96" fill="#ff7a7a"/>
<rect x="597.3" y="176.15" width="39.7" height="7.96" fill="#ff8585"/>
<rect x="597.3" y="183.71" width="39.7" height="7.96" fill="#ff9191"/>
<rect x="597.3" y="191.27" width="39.7" height="7.96" fill="#ff9c9c"/>
<rect x="597.3" y="198.83" width="39.7" height="7.96" fill="#ffa8a8"/>
<rect x="597.3" y="206.39" width="39.7" height="7.96" fill="#ffb4b4"/>
<rect x="597.3" y="213.95" width="39.7" height="7.96" fill="#ffbfbf"/>
<rect x="597.3" y="221.5" width="39.7" height="7.96" fill="#ffcbcb"/>
<rect x="597.3" y="229.06" width="39.7" height="7.96" fill="#ffd6d6"/>
<rect x="597.3" y="236.62" width="39.7" height="7.96" fill="#ffe2e2"/>
<rect x="597.3" y="244.18" width="39.7" height="7.96" fill="#fee"/>
<rect x="597.3" y="251.74" width="39.7" height="7.96" fill="#fff9f9"/>
<rect x="597.3" y="259.3" width="39.7" height="7.96" fill="#f9f9ff"/>
<rect x="597.3" y="266.86" width="39.7" height="7.96" fill="#eef"/>
<rect x="597.3" y="274.42" width="39.7" height="7.96" fill="#e2e2ff"/>
<rect x="597.3" y="281.98" width="39.7" height="7.96" fill="#d6d6ff"/>
<rect x="597.3" y="289.54" width="39.7" height="7.96" fill="#cbcbff"/>
<rect x="597.3" y="297.1" width="39.7" height="7.96" fill="#bfbfff"/>
<rect x="597.3" y="304.65" width="39.7" height="7.96" fill="#b4b4ff"/>
<rect x="597.3" y="312.21" width="39.7" height="7.96" fill="#a8a8ff"/>
<rect x="597.3" y="319.77" width="39.7" height="7.96" fill="#9c9cff"/>
<rect x="597.3" y="327.33" width="39.7" height="7.96" fill="#9191ff"/>
<rect x="597.3" y="334.89" width="39.7" height="7.96" fill="#8585ff"/>
<rect x="597.3" y="342.45" width="39.7" height="7.96" fill="#7a7aff"/>
<rect x="597.3" y="350.01" width="39.7" height="7.96" fill="#6e6eff"/>
<rect x="597.3" y="357.57" width="39.7" height="7.96" fill="#6363ff"/>
<rect x="597.3" y="365.13" width="39.7" height="7.96" fill="#5757ff"/>
<rect x="597.3" y="372.69" width="39.7" height="7.96" fill="#4b4bff"/>
<rect x="597.3" y="380.25" width="39.7" height="7.96" fill="#4040ff"/>
<rect x="597.3" y="387.8" width="39.7" height="7.96" fill="#3434ff"/>
<rect x="597.3" y="395.36" width="39.7" height="7.96" fill="#2929ff"/>
<rect x="597.3" y="402.92" width="39.7" height="7.96" fill="#1d1dff"/>
<rect x="597.3" y="410.48" width="39.7" height="7.96" fill="#11f"/>
<rect x="597.3" y="418.04" width="39.7" height="7.96" fill="#0606ff"/>
<path d="M597.3 93.5L617.15 76L637 93.5Z" fill="#f00"/>
<path d="M597.3 425.5L617.15 443L637 425.5Z" fill="#00f"/>
<path d="M597.3 93.2L617.15 76L637 93.2L637 425.8L617.15 443L597.3 425.8Z" fill="none" stroke="#000" stroke-width="2.2" stroke-linejoin="miter"/>
<path d="M637.9 107.75h8.9" stroke="#000" stroke-width="2"/>
<text class="ct" transform="translate(657.2 121.35) scale(1.05 1)">2</text>
<path d="M637.9 259.5h8.9" stroke="#000" stroke-width="2"/>
<text class="ct" transform="translate(657.2 273.1) scale(1.05 1)">0</text>
<path d="M637.9 411.25h8.9" stroke="#000" stroke-width="2"/>
<text class="ct" transform="translate(657.4 424.85) scale(1.19 1)">−2</text>
<text class="cl" transform="translate(596.8 259.6) rotate(90) scale(0.88 1)" text-anchor="middle">RH</text>
<!-- panel b -->
<g clip-path="url(#cpb)"><g filter="url(#qb)">
<rect x="773.2" y="49.4" width="431" height="40" fill="url(#b0)"/>
<rect x="773.2" y="69.1" width="431" height="39.6" fill="url(#b1)" mask="url(#vm)"/>
<rect x="773.2" y="88.9" width="431" height="39.6" fill="url(#b2)" mask="url(#vm)"/>
<rect x="773.2" y="108.7" width="431" height="39.6" fill="url(#b3)" mask="url(#vm)"/>
<rect x="773.2" y="128.5" width="431" height="39.6" fill="url(#b4)" mask="url(#vm)"/>
<rect x="773.2" y="148.3" width="431" height="39.6" fill="url(#b5)" mask="url(#vm)"/>
<rect x="773.2" y="168.1" width="431" height="39.6" fill="url(#b6)" mask="url(#vm)"/>
<rect x="773.2" y="187.9" width="431" height="39.6" fill="url(#b7)" mask="url(#vm)"/>
<rect x="773.2" y="207.7" width="431" height="39.6" fill="url(#b8)" mask="url(#vm)"/>
<rect x="773.2" y="227.5" width="431" height="39.6" fill="url(#b9)" mask="url(#vm)"/>
<rect x="773.2" y="247.3" width="431" height="39.6" fill="url(#b10)" mask="url(#vm)"/>
<rect x="773.2" y="267.1" width="431" height="39.6" fill="url(#b11)" mask="url(#vm)"/>
<rect x="773.2" y="286.9" width="431" height="39.6" fill="url(#b12)" mask="url(#vm)"/>
<rect x="773.2" y="306.7" width="431" height="39.6" fill="url(#b13)" mask="url(#vm)"/>
<rect x="773.2" y="326.5" width="431" height="39.6" fill="url(#b14)" mask="url(#vm)"/>
<rect x="773.2" y="346.3" width="431" height="39.6" fill="url(#b15)" mask="url(#vm)"/>
<rect x="773.2" y="366.1" width="431" height="39.6" fill="url(#b16)" mask="url(#vm)"/>
<rect x="773.2" y="385.9" width="431" height="39.6" fill="url(#b17)" mask="url(#vm)"/>
<rect x="773.2" y="405.7" width="431" height="39.6" fill="url(#b18)" mask="url(#vm)"/>
<rect x="773.2" y="425.5" width="431" height="39.6" fill="url(#b19)" mask="url(#vm)"/>
<rect x="773.2" y="445.3" width="431" height="39.6" fill="url(#b20)" mask="url(#vm)"/>
<circle cx="991.7" cy="269" r="12.5" fill="url(#eyeb)"/>
</g></g>
<g clip-path="url(#cpb)"><ellipse cx="988.7" cy="267.1" rx="195.9" ry="198" fill="none" stroke="#000" stroke-width="3" stroke-dasharray="10.6 4.31" stroke-dashoffset="1.4"/><ellipse cx="988.7" cy="267.1" rx="97.95" ry="99" fill="none" stroke="#000" stroke-width="3" stroke-dasharray="10.6 4.31" stroke-dashoffset="5.9"/><ellipse cx="988.7" cy="267.1" rx="39.18" ry="39.6" fill="none" stroke="#000" stroke-width="3" stroke-dasharray="10.6 4.31" stroke-dashoffset="9"/><circle cx="831.98" cy="88.9" r="2"/><circle cx="831.98" cy="108.7" r="2"/><circle cx="851.57" cy="108.7" r="2"/><circle cx="812.39" cy="128.5" r="2"/><circle cx="831.98" cy="128.5" r="2"/><circle cx="851.57" cy="128.5" r="2"/><circle cx="812.39" cy="148.3" r="2"/><circle cx="851.57" cy="148.3" r="2"/><circle cx="812.39" cy="168.1" r="2"/><circle cx="831.98" cy="168.1" r="2"/><circle cx="851.57" cy="168.1" r="2"/><circle cx="812.39" cy="187.9" r="2"/><circle cx="831.98" cy="187.9" r="2"/><circle cx="851.57" cy="187.9" r="2"/><circle cx="871.16" cy="187.9" r="2"/><circle cx="812.39" cy="207.7" r="2"/><circle cx="831.98" cy="207.7" r="2"/><circle cx="851.57" cy="207.7" r="2"/><circle cx="871.16" cy="207.7" r="2"/><circle cx="831.98" cy="227.5" r="2"/><circle cx="851.57" cy="227.5" r="2"/><circle cx="871.16" cy="227.5" r="2"/><circle cx="831.98" cy="247.3" r="2"/><circle cx="871.16" cy="247.3" r="2"/><circle cx="969.11" cy="247.3" r="2"/><circle cx="1067.06" cy="247.3" r="2"/><circle cx="1008.29" cy="267.1" r="2"/><circle cx="1008.29" cy="286.9" r="2"/><circle cx="1027.88" cy="286.9" r="2"/></g>
<rect x="783" y="59.2" width="411.4" height="415.8" fill="none" stroke="#000" stroke-width="2"/>
<text class="pl" transform="translate(754.5 30.2) scale(1.05 1)">b</text>
<rect x="1221.4" y="93" width="39.7" height="7.96" fill="#ff0606"/>
<rect x="1221.4" y="100.56" width="39.7" height="7.96" fill="#f11"/>
<rect x="1221.4" y="108.12" width="39.7" height="7.96" fill="#ff1d1d"/>
<rect x="1221.4" y="115.68" width="39.7" height="7.96" fill="#ff2929"/>
<rect x="1221.4" y="123.24" width="39.7" height="7.96" fill="#ff3434"/>
<rect x="1221.4" y="130.8" width="39.7" height="7.96" fill="#ff4040"/>
<rect x="1221.4" y="138.35" width="39.7" height="7.96" fill="#ff4b4b"/>
<rect x="1221.4" y="145.91" width="39.7" height="7.96" fill="#ff5757"/>
<rect x="1221.4" y="153.47" width="39.7" height="7.96" fill="#ff6363"/>
<rect x="1221.4" y="161.03" width="39.7" height="7.96" fill="#ff6e6e"/>
<rect x="1221.4" y="168.59" width="39.7" height="7.96" fill="#ff7a7a"/>
<rect x="1221.4" y="176.15" width="39.7" height="7.96" fill="#ff8585"/>
<rect x="1221.4" y="183.71" width="39.7" height="7.96" fill="#ff9191"/>
<rect x="1221.4" y="191.27" width="39.7" height="7.96" fill="#ff9c9c"/>
<rect x="1221.4" y="198.83" width="39.7" height="7.96" fill="#ffa8a8"/>
<rect x="1221.4" y="206.39" width="39.7" height="7.96" fill="#ffb4b4"/>
<rect x="1221.4" y="213.95" width="39.7" height="7.96" fill="#ffbfbf"/>
<rect x="1221.4" y="221.5" width="39.7" height="7.96" fill="#ffcbcb"/>
<rect x="1221.4" y="229.06" width="39.7" height="7.96" fill="#ffd6d6"/>
<rect x="1221.4" y="236.62" width="39.7" height="7.96" fill="#ffe2e2"/>
<rect x="1221.4" y="244.18" width="39.7" height="7.96" fill="#fee"/>
<rect x="1221.4" y="251.74" width="39.7" height="7.96" fill="#fff9f9"/>
<rect x="1221.4" y="259.3" width="39.7" height="7.96" fill="#f9f9ff"/>
<rect x="1221.4" y="266.86" width="39.7" height="7.96" fill="#eef"/>
<rect x="1221.4" y="274.42" width="39.7" height="7.96" fill="#e2e2ff"/>
<rect x="1221.4" y="281.98" width="39.7" height="7.96" fill="#d6d6ff"/>
<rect x="1221.4" y="289.54" width="39.7" height="7.96" fill="#cbcbff"/>
<rect x="1221.4" y="297.1" width="39.7" height="7.96" fill="#bfbfff"/>
<rect x="1221.4" y="304.65" width="39.7" height="7.96" fill="#b4b4ff"/>
<rect x="1221.4" y="312.21" width="39.7" height="7.96" fill="#a8a8ff"/>
<rect x="1221.4" y="319.77" width="39.7" height="7.96" fill="#9c9cff"/>
<rect x="1221.4" y="327.33" width="39.7" height="7.96" fill="#9191ff"/>
<rect x="1221.4" y="334.89" width="39.7" height="7.96" fill="#8585ff"/>
<rect x="1221.4" y="342.45" width="39.7" height="7.96" fill="#7a7aff"/>
<rect x="1221.4" y="350.01" width="39.7" height="7.96" fill="#6e6eff"/>
<rect x="1221.4" y="357.57" width="39.7" height="7.96" fill="#6363ff"/>
<rect x="1221.4" y="365.13" width="39.7" height="7.96" fill="#5757ff"/>
<rect x="1221.4" y="372.69" width="39.7" height="7.96" fill="#4b4bff"/>
<rect x="1221.4" y="380.25" width="39.7" height="7.96" fill="#4040ff"/>
<rect x="1221.4" y="387.8" width="39.7" height="7.96" fill="#3434ff"/>
<rect x="1221.4" y="395.36" width="39.7" height="7.96" fill="#2929ff"/>
<rect x="1221.4" y="402.92" width="39.7" height="7.96" fill="#1d1dff"/>
<rect x="1221.4" y="410.48" width="39.7" height="7.96" fill="#11f"/>
<rect x="1221.4" y="418.04" width="39.7" height="7.96" fill="#0606ff"/>
<path d="M1221.4 93.5L1241.25 76L1261.1 93.5Z" fill="#f00"/>
<path d="M1221.4 425.5L1241.25 443L1261.1 425.5Z" fill="#00f"/>
<path d="M1221.4 93.2L1241.25 76L1261.1 93.2L1261.1 425.8L1241.25 443L1221.4 425.8Z" fill="none" stroke="#000" stroke-width="2.2" stroke-linejoin="miter"/>
<path d="M1262 107.75h8.9" stroke="#000" stroke-width="2"/>
<text class="ct" transform="translate(1281.3 121.35) scale(1.05 1)">2</text>
<path d="M1262 259.5h8.9" stroke="#000" stroke-width="2"/>
<text class="ct" transform="translate(1281.3 273.1) scale(1.05 1)">0</text>
<path d="M1262 411.25h8.9" stroke="#000" stroke-width="2"/>
<text class="ct" transform="translate(1281.5 424.85) scale(1.19 1)">−2</text>
<text class="cl" transform="translate(1223.4 259.5) rotate(90) scale(0.928 1)" text-anchor="middle">VWS</text>
<!-- panel c -->
<g clip-path="url(#cpc)"><g filter="url(#qc)">
<rect x="156.2" y="549.1" width="431" height="40" fill="url(#c0)"/>
<rect x="156.2" y="568.8" width="431" height="39.6" fill="url(#c1)" mask="url(#vm)"/>
<rect x="156.2" y="588.6" width="431" height="39.6" fill="url(#c2)" mask="url(#vm)"/>
<rect x="156.2" y="608.4" width="431" height="39.6" fill="url(#c3)" mask="url(#vm)"/>
<rect x="156.2" y="628.2" width="431" height="39.6" fill="url(#c4)" mask="url(#vm)"/>
<rect x="156.2" y="648" width="431" height="39.6" fill="url(#c5)" mask="url(#vm)"/>
<rect x="156.2" y="667.8" width="431" height="39.6" fill="url(#c6)" mask="url(#vm)"/>
<rect x="156.2" y="687.6" width="431" height="39.6" fill="url(#c7)" mask="url(#vm)"/>
<rect x="156.2" y="707.4" width="431" height="39.6" fill="url(#c8)" mask="url(#vm)"/>
<rect x="156.2" y="727.2" width="431" height="39.6" fill="url(#c9)" mask="url(#vm)"/>
<rect x="156.2" y="747" width="431" height="39.6" fill="url(#c10)" mask="url(#vm)"/>
<rect x="156.2" y="766.8" width="431" height="39.6" fill="url(#c11)" mask="url(#vm)"/>
<rect x="156.2" y="786.6" width="431" height="39.6" fill="url(#c12)" mask="url(#vm)"/>
<rect x="156.2" y="806.4" width="431" height="39.6" fill="url(#c13)" mask="url(#vm)"/>
<rect x="156.2" y="826.2" width="431" height="39.6" fill="url(#c14)" mask="url(#vm)"/>
<rect x="156.2" y="846" width="431" height="39.6" fill="url(#c15)" mask="url(#vm)"/>
<rect x="156.2" y="865.8" width="431" height="39.6" fill="url(#c16)" mask="url(#vm)"/>
<rect x="156.2" y="885.6" width="431" height="39.6" fill="url(#c17)" mask="url(#vm)"/>
<rect x="156.2" y="905.4" width="431" height="39.6" fill="url(#c18)" mask="url(#vm)"/>
<rect x="156.2" y="925.2" width="431" height="39.6" fill="url(#c19)" mask="url(#vm)"/>
<rect x="156.2" y="945" width="431" height="39.6" fill="url(#c20)" mask="url(#vm)"/>

</g></g>
<g clip-path="url(#cpc)"><ellipse cx="371.7" cy="766.8" rx="195.9" ry="198" fill="none" stroke="#000" stroke-width="3" stroke-dasharray="10.6 4.31" stroke-dashoffset="1.4"/><ellipse cx="371.7" cy="766.8" rx="97.95" ry="99" fill="none" stroke="#000" stroke-width="3" stroke-dasharray="10.6 4.31" stroke-dashoffset="5.9"/><ellipse cx="371.7" cy="766.8" rx="39.18" ry="39.6" fill="none" stroke="#000" stroke-width="3" stroke-dasharray="10.6 4.31" stroke-dashoffset="9"/></g>
<rect x="166" y="558.9" width="411.4" height="415.8" fill="none" stroke="#000" stroke-width="2"/>
<text class="pl" transform="translate(137.5 529.9) scale(1.02 1)">c</text>
<path d="M165 568.8h-9" stroke="#000" stroke-width="2"/>
<text class="tl" transform="translate(113.5 582) scale(1.12 1)" text-anchor="end">10</text>
<circle cx="129" cy="559" r="3.95" fill="none" stroke="#000" stroke-width="1.8"/>
<path d="M165 667.8h-9" stroke="#000" stroke-width="2"/>
<text class="tl" transform="translate(113.5 681) scale(1.12 1)" text-anchor="end">5</text>
<circle cx="129" cy="658" r="3.95" fill="none" stroke="#000" stroke-width="1.8"/>
<path d="M165 766.8h-9" stroke="#000" stroke-width="2"/>
<text class="tl" transform="translate(113.5 780) scale(1.12 1)" text-anchor="end">0</text>
<circle cx="129" cy="757" r="3.95" fill="none" stroke="#000" stroke-width="1.8"/>
<path d="M165 865.8h-9" stroke="#000" stroke-width="2"/>
<text class="tl" transform="translate(113.5 879) scale(1.09 1)" text-anchor="end">-5</text>
<circle cx="129" cy="856" r="3.95" fill="none" stroke="#000" stroke-width="1.8"/>
<path d="M165 964.8h-9" stroke="#000" stroke-width="2"/>
<text class="tl" transform="translate(113.5 978) scale(1.09 1)" text-anchor="end">-10</text>
<circle cx="129" cy="955" r="3.95" fill="none" stroke="#000" stroke-width="1.8"/>
<text class="al" transform="translate(30.8 765.8) rotate(-90)" text-anchor="middle">Latitude distance</text>
<rect x="597.3" y="603.5" width="39.7" height="7.96" fill="#ff0606"/>
<rect x="597.3" y="611.06" width="39.7" height="7.96" fill="#f11"/>
<rect x="597.3" y="618.62" width="39.7" height="7.96" fill="#ff1d1d"/>
<rect x="597.3" y="626.18" width="39.7" height="7.96" fill="#ff2929"/>
<rect x="597.3" y="633.74" width="39.7" height="7.96" fill="#ff3434"/>
<rect x="597.3" y="641.3" width="39.7" height="7.96" fill="#ff4040"/>
<rect x="597.3" y="648.85" width="39.7" height="7.96" fill="#ff4b4b"/>
<rect x="597.3" y="656.41" width="39.7" height="7.96" fill="#ff5757"/>
<rect x="597.3" y="663.97" width="39.7" height="7.96" fill="#ff6363"/>
<rect x="597.3" y="671.53" width="39.7" height="7.96" fill="#ff6e6e"/>
<rect x="597.3" y="679.09" width="39.7" height="7.96" fill="#ff7a7a"/>
<rect x="597.3" y="686.65" width="39.7" height="7.96" fill="#ff8585"/>
<rect x="597.3" y="694.21" width="39.7" height="7.96" fill="#ff9191"/>
<rect x="597.3" y="701.77" width="39.7" height="7.96" fill="#ff9c9c"/>
<rect x="597.3" y="709.33" width="39.7" height="7.96" fill="#ffa8a8"/>
<rect x="597.3" y="716.89" width="39.7" height="7.96" fill="#ffb4b4"/>
<rect x="597.3" y="724.45" width="39.7" height="7.96" fill="#ffbfbf"/>
<rect x="597.3" y="732" width="39.7" height="7.96" fill="#ffcbcb"/>
<rect x="597.3" y="739.56" width="39.7" height="7.96" fill="#ffd6d6"/>
<rect x="597.3" y="747.12" width="39.7" height="7.96" fill="#ffe2e2"/>
<rect x="597.3" y="754.68" width="39.7" height="7.96" fill="#fee"/>
<rect x="597.3" y="762.24" width="39.7" height="7.96" fill="#fff9f9"/>
<rect x="597.3" y="769.8" width="39.7" height="7.96" fill="#f9f9ff"/>
<rect x="597.3" y="777.36" width="39.7" height="7.96" fill="#eef"/>
<rect x="597.3" y="784.92" width="39.7" height="7.96" fill="#e2e2ff"/>
<rect x="597.3" y="792.48" width="39.7" height="7.96" fill="#d6d6ff"/>
<rect x="597.3" y="800.04" width="39.7" height="7.96" fill="#cbcbff"/>
<rect x="597.3" y="807.6" width="39.7" height="7.96" fill="#bfbfff"/>
<rect x="597.3" y="815.15" width="39.7" height="7.96" fill="#b4b4ff"/>
<rect x="597.3" y="822.71" width="39.7" height="7.96" fill="#a8a8ff"/>
<rect x="597.3" y="830.27" width="39.7" height="7.96" fill="#9c9cff"/>
<rect x="597.3" y="837.83" width="39.7" height="7.96" fill="#9191ff"/>
<rect x="597.3" y="845.39" width="39.7" height="7.96" fill="#8585ff"/>
<rect x="597.3" y="852.95" width="39.7" height="7.96" fill="#7a7aff"/>
<rect x="597.3" y="860.51" width="39.7" height="7.96" fill="#6e6eff"/>
<rect x="597.3" y="868.07" width="39.7" height="7.96" fill="#6363ff"/>
<rect x="597.3" y="875.63" width="39.7" height="7.96" fill="#5757ff"/>
<rect x="597.3" y="883.19" width="39.7" height="7.96" fill="#4b4bff"/>
<rect x="597.3" y="890.75" width="39.7" height="7.96" fill="#4040ff"/>
<rect x="597.3" y="898.3" width="39.7" height="7.96" fill="#3434ff"/>
<rect x="597.3" y="905.86" width="39.7" height="7.96" fill="#2929ff"/>
<rect x="597.3" y="913.42" width="39.7" height="7.96" fill="#1d1dff"/>
<rect x="597.3" y="920.98" width="39.7" height="7.96" fill="#11f"/>
<rect x="597.3" y="928.54" width="39.7" height="7.96" fill="#0606ff"/>
<path d="M597.3 604L617.15 586.5L637 604Z" fill="#f00"/>
<path d="M597.3 936L617.15 953.5L637 936Z" fill="#00f"/>
<path d="M597.3 603.7L617.15 586.5L637 603.7L637 936.3L617.15 953.5L597.3 936.3Z" fill="none" stroke="#000" stroke-width="2.2" stroke-linejoin="miter"/>
<path d="M637.9 618.25h8.9" stroke="#000" stroke-width="2"/>
<text class="ct" transform="translate(657.2 631.85) scale(1.05 1)">2</text>
<path d="M637.9 770h8.9" stroke="#000" stroke-width="2"/>
<text class="ct" transform="translate(657.2 783.6) scale(1.05 1)">0</text>
<path d="M637.9 921.75h8.9" stroke="#000" stroke-width="2"/>
<text class="ct" transform="translate(657.4 935.35) scale(1.19 1)">−2</text>
<text class="cl" transform="translate(600 770.2) rotate(90) scale(1.03 1)" text-anchor="middle">Vort</text>
<!-- panel d -->
<g clip-path="url(#cpd)"><g filter="url(#qd)">
<rect x="773.2" y="549.1" width="431" height="40" fill="url(#d0)"/>
<rect x="773.2" y="568.8" width="431" height="39.6" fill="url(#d1)" mask="url(#vm)"/>
<rect x="773.2" y="588.6" width="431" height="39.6" fill="url(#d2)" mask="url(#vm)"/>
<rect x="773.2" y="608.4" width="431" height="39.6" fill="url(#d3)" mask="url(#vm)"/>
<rect x="773.2" y="628.2" width="431" height="39.6" fill="url(#d4)" mask="url(#vm)"/>
<rect x="773.2" y="648" width="431" height="39.6" fill="url(#d5)" mask="url(#vm)"/>
<rect x="773.2" y="667.8" width="431" height="39.6" fill="url(#d6)" mask="url(#vm)"/>
<rect x="773.2" y="687.6" width="431" height="39.6" fill="url(#d7)" mask="url(#vm)"/>
<rect x="773.2" y="707.4" width="431" height="39.6" fill="url(#d8)" mask="url(#vm)"/>
<rect x="773.2" y="727.2" width="431" height="39.6" fill="url(#d9)" mask="url(#vm)"/>
<rect x="773.2" y="747" width="431" height="39.6" fill="url(#d10)" mask="url(#vm)"/>
<rect x="773.2" y="766.8" width="431" height="39.6" fill="url(#d11)" mask="url(#vm)"/>
<rect x="773.2" y="786.6" width="431" height="39.6" fill="url(#d12)" mask="url(#vm)"/>
<rect x="773.2" y="806.4" width="431" height="39.6" fill="url(#d13)" mask="url(#vm)"/>
<rect x="773.2" y="826.2" width="431" height="39.6" fill="url(#d14)" mask="url(#vm)"/>
<rect x="773.2" y="846" width="431" height="39.6" fill="url(#d15)" mask="url(#vm)"/>
<rect x="773.2" y="865.8" width="431" height="39.6" fill="url(#d16)" mask="url(#vm)"/>
<rect x="773.2" y="885.6" width="431" height="39.6" fill="url(#d17)" mask="url(#vm)"/>
<rect x="773.2" y="905.4" width="431" height="39.6" fill="url(#d18)" mask="url(#vm)"/>
<rect x="773.2" y="925.2" width="431" height="39.6" fill="url(#d19)" mask="url(#vm)"/>
<rect x="773.2" y="945" width="431" height="39.6" fill="url(#d20)" mask="url(#vm)"/>

</g></g>
<g clip-path="url(#cpd)"><ellipse cx="988.7" cy="766.8" rx="195.9" ry="198" fill="none" stroke="#000" stroke-width="3" stroke-dasharray="10.6 4.31" stroke-dashoffset="1.4"/><ellipse cx="988.7" cy="766.8" rx="97.95" ry="99" fill="none" stroke="#000" stroke-width="3" stroke-dasharray="10.6 4.31" stroke-dashoffset="5.9"/><ellipse cx="988.7" cy="766.8" rx="39.18" ry="39.6" fill="none" stroke="#000" stroke-width="3" stroke-dasharray="10.6 4.31" stroke-dashoffset="9"/><circle cx="969.11" cy="628.2" r="2"/><circle cx="1067.06" cy="766.8" r="2"/><circle cx="851.57" cy="905.4" r="2"/></g>
<rect x="783" y="558.9" width="411.4" height="415.8" fill="none" stroke="#000" stroke-width="2"/>
<text class="pl" transform="translate(754.5 529.9) scale(1.05 1)">d</text>
<rect x="1221.4" y="603.5" width="39.7" height="7.96" fill="#ff0606"/>
<rect x="1221.4" y="611.06" width="39.7" height="7.96" fill="#f11"/>
<rect x="1221.4" y="618.62" width="39.7" height="7.96" fill="#ff1d1d"/>
<rect x="1221.4" y="626.18" width="39.7" height="7.96" fill="#ff2929"/>
<rect x="1221.4" y="633.74" width="39.7" height="7.96" fill="#ff3434"/>
<rect x="1221.4" y="641.3" width="39.7" height="7.96" fill="#ff4040"/>
<rect x="1221.4" y="648.85" width="39.7" height="7.96" fill="#ff4b4b"/>
<rect x="1221.4" y="656.41" width="39.7" height="7.96" fill="#ff5757"/>
<rect x="1221.4" y="663.97" width="39.7" height="7.96" fill="#ff6363"/>
<rect x="1221.4" y="671.53" width="39.7" height="7.96" fill="#ff6e6e"/>
<rect x="1221.4" y="679.09" width="39.7" height="7.96" fill="#ff7a7a"/>
<rect x="1221.4" y="686.65" width="39.7" height="7.96" fill="#ff8585"/>
<rect x="1221.4" y="694.21" width="39.7" height="7.96" fill="#ff9191"/>
<rect x="1221.4" y="701.77" width="39.7" height="7.96" fill="#ff9c9c"/>
<rect x="1221.4" y="709.33" width="39.7" height="7.96" fill="#ffa8a8"/>
<rect x="1221.4" y="716.89" width="39.7" height="7.96" fill="#ffb4b4"/>
<rect x="1221.4" y="724.45" width="39.7" height="7.96" fill="#ffbfbf"/>
<rect x="1221.4" y="732" width="39.7" height="7.96" fill="#ffcbcb"/>
<rect x="1221.4" y="739.56" width="39.7" height="7.96" fill="#ffd6d6"/>
<rect x="1221.4" y="747.12" width="39.7" height="7.96" fill="#ffe2e2"/>
<rect x="1221.4" y="754.68" width="39.7" height="7.96" fill="#fee"/>
<rect x="1221.4" y="762.24" width="39.7" height="7.96" fill="#fff9f9"/>
<rect x="1221.4" y="769.8" width="39.7" height="7.96" fill="#f9f9ff"/>
<rect x="1221.4" y="777.36" width="39.7" height="7.96" fill="#eef"/>
<rect x="1221.4" y="784.92" width="39.7" height="7.96" fill="#e2e2ff"/>
<rect x="1221.4" y="792.48" width="39.7" height="7.96" fill="#d6d6ff"/>
<rect x="1221.4" y="800.04" width="39.7" height="7.96" fill="#cbcbff"/>
<rect x="1221.4" y="807.6" width="39.7" height="7.96" fill="#bfbfff"/>
<rect x="1221.4" y="815.15" width="39.7" height="7.96" fill="#b4b4ff"/>
<rect x="1221.4" y="822.71" width="39.7" height="7.96" fill="#a8a8ff"/>
<rect x="1221.4" y="830.27" width="39.7" height="7.96" fill="#9c9cff"/>
<rect x="1221.4" y="837.83" width="39.7" height="7.96" fill="#9191ff"/>
<rect x="1221.4" y="845.39" width="39.7" height="7.96" fill="#8585ff"/>
<rect x="1221.4" y="852.95" width="39.7" height="7.96" fill="#7a7aff"/>
<rect x="1221.4" y="860.51" width="39.7" height="7.96" fill="#6e6eff"/>
<rect x="1221.4" y="868.07" width="39.7" height="7.96" fill="#6363ff"/>
<rect x="1221.4" y="875.63" width="39.7" height="7.96" fill="#5757ff"/>
<rect x="1221.4" y="883.19" width="39.7" height="7.96" fill="#4b4bff"/>
<rect x="1221.4" y="890.75" width="39.7" height="7.96" fill="#4040ff"/>
<rect x="1221.4" y="898.3" width="39.7" height="7.96" fill="#3434ff"/>
<rect x="1221.4" y="905.86" width="39.7" height="7.96" fill="#2929ff"/>
<rect x="1221.4" y="913.42" width="39.7" height="7.96" fill="#1d1dff"/>
<rect x="1221.4" y="920.98" width="39.7" height="7.96" fill="#11f"/>
<rect x="1221.4" y="928.54" width="39.7" height="7.96" fill="#0606ff"/>
<path d="M1221.4 604L1241.25 586.5L1261.1 604Z" fill="#f00"/>
<path d="M1221.4 936L1241.25 953.5L1261.1 936Z" fill="#00f"/>
<path d="M1221.4 603.7L1241.25 586.5L1261.1 603.7L1261.1 936.3L1241.25 953.5L1221.4 936.3Z" fill="none" stroke="#000" stroke-width="2.2" stroke-linejoin="miter"/>
<path d="M1262 618.25h8.9" stroke="#000" stroke-width="2"/>
<text class="ct" transform="translate(1281.3 631.85) scale(1.05 1)">2</text>
<path d="M1262 770h8.9" stroke="#000" stroke-width="2"/>
<text class="ct" transform="translate(1281.3 783.6) scale(1.05 1)">0</text>
<path d="M1262 921.75h8.9" stroke="#000" stroke-width="2"/>
<text class="ct" transform="translate(1281.5 935.35) scale(1.19 1)">−2</text>
<text class="cl" transform="translate(1220.2 770.45) rotate(90) scale(1.015 1)" text-anchor="middle">Div</text>
<!-- panel e -->
<g clip-path="url(#cpe)"><g filter="url(#qe)">
<rect x="156.2" y="1048.8" width="431" height="40" fill="url(#e0)"/>
<rect x="156.2" y="1068.5" width="431" height="39.6" fill="url(#e1)" mask="url(#vm)"/>
<rect x="156.2" y="1088.3" width="431" height="39.6" fill="url(#e2)" mask="url(#vm)"/>
<rect x="156.2" y="1108.1" width="431" height="39.6" fill="url(#e3)" mask="url(#vm)"/>
<rect x="156.2" y="1127.9" width="431" height="39.6" fill="url(#e4)" mask="url(#vm)"/>
<rect x="156.2" y="1147.7" width="431" height="39.6" fill="url(#e5)" mask="url(#vm)"/>
<rect x="156.2" y="1167.5" width="431" height="39.6" fill="url(#e6)" mask="url(#vm)"/>
<rect x="156.2" y="1187.3" width="431" height="39.6" fill="url(#e7)" mask="url(#vm)"/>
<rect x="156.2" y="1207.1" width="431" height="39.6" fill="url(#e8)" mask="url(#vm)"/>
<rect x="156.2" y="1226.9" width="431" height="39.6" fill="url(#e9)" mask="url(#vm)"/>
<rect x="156.2" y="1246.7" width="431" height="39.6" fill="url(#e10)" mask="url(#vm)"/>
<rect x="156.2" y="1266.5" width="431" height="39.6" fill="url(#e11)" mask="url(#vm)"/>
<rect x="156.2" y="1286.3" width="431" height="39.6" fill="url(#e12)" mask="url(#vm)"/>
<rect x="156.2" y="1306.1" width="431" height="39.6" fill="url(#e13)" mask="url(#vm)"/>
<rect x="156.2" y="1325.9" width="431" height="39.6" fill="url(#e14)" mask="url(#vm)"/>
<rect x="156.2" y="1345.7" width="431" height="39.6" fill="url(#e15)" mask="url(#vm)"/>
<rect x="156.2" y="1365.5" width="431" height="39.6" fill="url(#e16)" mask="url(#vm)"/>
<rect x="156.2" y="1385.3" width="431" height="39.6" fill="url(#e17)" mask="url(#vm)"/>
<rect x="156.2" y="1405.1" width="431" height="39.6" fill="url(#e18)" mask="url(#vm)"/>
<rect x="156.2" y="1424.9" width="431" height="39.6" fill="url(#e19)" mask="url(#vm)"/>
<rect x="156.2" y="1444.7" width="431" height="39.6" fill="url(#e20)" mask="url(#vm)"/>

</g></g>
<g clip-path="url(#cpe)"><ellipse cx="371.7" cy="1266.5" rx="195.9" ry="198" fill="none" stroke="#000" stroke-width="3" stroke-dasharray="10.6 4.31" stroke-dashoffset="1.4"/><ellipse cx="371.7" cy="1266.5" rx="97.95" ry="99" fill="none" stroke="#000" stroke-width="3" stroke-dasharray="10.6 4.31" stroke-dashoffset="5.9"/><ellipse cx="371.7" cy="1266.5" rx="39.18" ry="39.6" fill="none" stroke="#000" stroke-width="3" stroke-dasharray="10.6 4.31" stroke-dashoffset="9"/><circle cx="214.98" cy="1127.9" r="2"/><circle cx="234.57" cy="1306.1" r="2"/><circle cx="469.65" cy="1246.7" r="2"/><circle cx="508.83" cy="1226.9" r="2"/><circle cx="528.42" cy="1306.1" r="2"/><circle cx="548.01" cy="1207.1" r="2"/><circle cx="548.01" cy="1226.9" r="2"/><circle cx="548.01" cy="1246.7" r="2"/><circle cx="548.01" cy="1266.5" r="2"/><circle cx="548.01" cy="1286.3" r="2"/><circle cx="548.01" cy="1306.1" r="2"/><circle cx="548.01" cy="1325.9" r="2"/><circle cx="567.6" cy="1226.9" r="2"/><circle cx="567.6" cy="1266.5" r="2"/><circle cx="567.6" cy="1286.3" r="2"/><circle cx="567.6" cy="1306.1" r="2"/><circle cx="567.6" cy="1325.9" r="2"/><circle cx="567.6" cy="1345.7" r="2"/></g>
<rect x="166" y="1058.6" width="411.4" height="415.8" fill="none" stroke="#000" stroke-width="2"/>
<text class="pl" transform="translate(137.5 1028.8) scale(1.08 1)">e</text>
<path d="M165 1068.5h-9" stroke="#000" stroke-width="2"/>
<text class="tl" transform="translate(113.5 1081.7) scale(1.12 1)" text-anchor="end">10</text>
<circle cx="129" cy="1058.7" r="3.95" fill="none" stroke="#000" stroke-width="1.8"/>
<path d="M165 1167.5h-9" stroke="#000" stroke-width="2"/>
<text class="tl" transform="translate(113.5 1180.7) scale(1.12 1)" text-anchor="end">5</text>
<circle cx="129" cy="1157.7" r="3.95" fill="none" stroke="#000" stroke-width="1.8"/>
<path d="M165 1266.5h-9" stroke="#000" stroke-width="2"/>
<text class="tl" transform="translate(113.5 1279.7) scale(1.12 1)" text-anchor="end">0</text>
<circle cx="129" cy="1256.7" r="3.95" fill="none" stroke="#000" stroke-width="1.8"/>
<path d="M165 1365.5h-9" stroke="#000" stroke-width="2"/>
<text class="tl" transform="translate(113.5 1378.7) scale(1.09 1)" text-anchor="end">-5</text>
<circle cx="129" cy="1355.7" r="3.95" fill="none" stroke="#000" stroke-width="1.8"/>
<path d="M165 1464.5h-9" stroke="#000" stroke-width="2"/>
<text class="tl" transform="translate(113.5 1477.7) scale(1.09 1)" text-anchor="end">-10</text>
<circle cx="129" cy="1454.7" r="3.95" fill="none" stroke="#000" stroke-width="1.8"/>
<text class="al" transform="translate(30.8 1265.5) rotate(-90)" text-anchor="middle">Latitude distance</text>
<path d="M175.8 1475.4v9" stroke="#000" stroke-width="2"/>
<text class="tl" transform="translate(197.1 1522) scale(1.09 1)" text-anchor="end">-10</text>
<circle cx="207.3" cy="1498.5" r="3.95" fill="none" stroke="#000" stroke-width="1.8"/>
<path d="M273.75 1475.4v9" stroke="#000" stroke-width="2"/>
<text class="tl" transform="translate(282.05 1522) scale(1.09 1)" text-anchor="end">-5</text>
<circle cx="292.25" cy="1498.5" r="3.95" fill="none" stroke="#000" stroke-width="1.8"/>
<path d="M371.7 1475.4v9" stroke="#000" stroke-width="2"/>
<text class="tl" transform="translate(372.6 1522) scale(1.12 1)" text-anchor="end">0</text>
<circle cx="382.8" cy="1498.5" r="3.95" fill="none" stroke="#000" stroke-width="1.8"/>
<path d="M469.65 1475.4v9" stroke="#000" stroke-width="2"/>
<text class="tl" transform="translate(470.55 1522) scale(1.12 1)" text-anchor="end">5</text>
<circle cx="480.75" cy="1498.5" r="3.95" fill="none" stroke="#000" stroke-width="1.8"/>
<path d="M567.6 1475.4v9" stroke="#000" stroke-width="2"/>
<text class="tl" transform="translate(580.6 1522) scale(1.12 1)" text-anchor="end">10</text>
<circle cx="590.8" cy="1498.5" r="3.95" fill="none" stroke="#000" stroke-width="1.8"/>
<rect x="597.3" y="1105.45" width="39.7" height="14.26" fill="#ff0b0b"/>
<rect x="597.3" y="1119.31" width="39.7" height="14.26" fill="#ff2020"/>
<rect x="597.3" y="1133.17" width="39.7" height="14.26" fill="#ff3535"/>
<rect x="597.3" y="1147.03" width="39.7" height="14.26" fill="#ff4a4a"/>
<rect x="597.3" y="1160.88" width="39.7" height="14.26" fill="#ff6060"/>
<rect x="597.3" y="1174.74" width="39.7" height="14.26" fill="#ff7575"/>
<rect x="597.3" y="1188.6" width="39.7" height="14.26" fill="#ff8a8a"/>
<rect x="597.3" y="1202.46" width="39.7" height="14.26" fill="#ff9f9f"/>
<rect x="597.3" y="1216.32" width="39.7" height="14.26" fill="#ffb5b5"/>
<rect x="597.3" y="1230.17" width="39.7" height="14.26" fill="#ffcaca"/>
<rect x="597.3" y="1244.03" width="39.7" height="14.26" fill="#ffdfdf"/>
<rect x="597.3" y="1257.89" width="39.7" height="14.26" fill="#fff4f4"/>
<rect x="597.3" y="1271.75" width="39.7" height="14.26" fill="#f4f4ff"/>
<rect x="597.3" y="1285.61" width="39.7" height="14.26" fill="#dfdfff"/>
<rect x="597.3" y="1299.47" width="39.7" height="14.26" fill="#cacaff"/>
<rect x="597.3" y="1313.33" width="39.7" height="14.26" fill="#b5b5ff"/>
<rect x="597.3" y="1327.18" width="39.7" height="14.26" fill="#9f9fff"/>
<rect x="597.3" y="1341.04" width="39.7" height="14.26" fill="#8a8aff"/>
<rect x="597.3" y="1354.9" width="39.7" height="14.26" fill="#7575ff"/>
<rect x="597.3" y="1368.76" width="39.7" height="14.26" fill="#6060ff"/>
<rect x="597.3" y="1382.62" width="39.7" height="14.26" fill="#4a4aff"/>
<rect x="597.3" y="1396.47" width="39.7" height="14.26" fill="#3535ff"/>
<rect x="597.3" y="1410.33" width="39.7" height="14.26" fill="#2020ff"/>
<rect x="597.3" y="1424.19" width="39.7" height="14.26" fill="#0b0bff"/>
<path d="M597.3 1105.95L617.15 1088.45L637 1105.95Z" fill="#f00"/>
<path d="M597.3 1437.95L617.15 1455.45L637 1437.95Z" fill="#00f"/>
<path d="M597.3 1105.65L617.15 1088.45L637 1105.65L637 1438.25L617.15 1455.45L597.3 1438.25Z" fill="none" stroke="#000" stroke-width="2.2" stroke-linejoin="miter"/>
<path d="M637.9 1132.55h8.9" stroke="#000" stroke-width="2"/>
<text class="ct" transform="translate(657.2 1146.15) scale(1.05 1)">1</text>
<path d="M637.9 1271.95h8.9" stroke="#000" stroke-width="2"/>
<text class="ct" transform="translate(657.2 1285.55) scale(1.05 1)">0</text>
<path d="M637.9 1411.35h8.9" stroke="#000" stroke-width="2"/>
<text class="ct" transform="translate(657.4 1424.95) scale(1.19 1)">−1</text>
<text class="cl" transform="translate(596.8 1272.55) rotate(90) scale(0.9 1)" text-anchor="middle">SST</text>
<!-- panel f -->
<g clip-path="url(#cpf)"><g filter="url(#qf)">
<rect x="773.2" y="1048.8" width="431" height="40" fill="url(#f0)"/>
<rect x="773.2" y="1068.5" width="431" height="39.6" fill="url(#f1)" mask="url(#vm)"/>
<rect x="773.2" y="1088.3" width="431" height="39.6" fill="url(#f2)" mask="url(#vm)"/>
<rect x="773.2" y="1108.1" width="431" height="39.6" fill="url(#f3)" mask="url(#vm)"/>
<rect x="773.2" y="1127.9" width="431" height="39.6" fill="url(#f4)" mask="url(#vm)"/>
<rect x="773.2" y="1147.7" width="431" height="39.6" fill="url(#f5)" mask="url(#vm)"/>
<rect x="773.2" y="1167.5" width="431" height="39.6" fill="url(#f6)" mask="url(#vm)"/>
<rect x="773.2" y="1187.3" width="431" height="39.6" fill="url(#f7)" mask="url(#vm)"/>
<rect x="773.2" y="1207.1" width="431" height="39.6" fill="url(#f8)" mask="url(#vm)"/>
<rect x="773.2" y="1226.9" width="431" height="39.6" fill="url(#f9)" mask="url(#vm)"/>
<rect x="773.2" y="1246.7" width="431" height="39.6" fill="url(#f10)" mask="url(#vm)"/>
<rect x="773.2" y="1266.5" width="431" height="39.6" fill="url(#f11)" mask="url(#vm)"/>
<rect x="773.2" y="1286.3" width="431" height="39.6" fill="url(#f12)" mask="url(#vm)"/>
<rect x="773.2" y="1306.1" width="431" height="39.6" fill="url(#f13)" mask="url(#vm)"/>
<rect x="773.2" y="1325.9" width="431" height="39.6" fill="url(#f14)" mask="url(#vm)"/>
<rect x="773.2" y="1345.7" width="431" height="39.6" fill="url(#f15)" mask="url(#vm)"/>
<rect x="773.2" y="1365.5" width="431" height="39.6" fill="url(#f16)" mask="url(#vm)"/>
<rect x="773.2" y="1385.3" width="431" height="39.6" fill="url(#f17)" mask="url(#vm)"/>
<rect x="773.2" y="1405.1" width="431" height="39.6" fill="url(#f18)" mask="url(#vm)"/>
<rect x="773.2" y="1424.9" width="431" height="39.6" fill="url(#f19)" mask="url(#vm)"/>
<rect x="773.2" y="1444.7" width="431" height="39.6" fill="url(#f20)" mask="url(#vm)"/>

</g></g>
<g clip-path="url(#cpf)"><ellipse cx="988.7" cy="1266.5" rx="195.9" ry="198" fill="none" stroke="#000" stroke-width="3" stroke-dasharray="10.6 4.31" stroke-dashoffset="1.4"/><ellipse cx="988.7" cy="1266.5" rx="97.95" ry="99" fill="none" stroke="#000" stroke-width="3" stroke-dasharray="10.6 4.31" stroke-dashoffset="5.9"/><ellipse cx="988.7" cy="1266.5" rx="39.18" ry="39.6" fill="none" stroke="#000" stroke-width="3" stroke-dasharray="10.6 4.31" stroke-dashoffset="9"/><circle cx="792.8" cy="1464.5" r="2"/><circle cx="812.39" cy="1464.5" r="2"/><circle cx="831.98" cy="1464.5" r="2"/><circle cx="851.57" cy="1464.5" r="2"/><circle cx="871.16" cy="1464.5" r="2"/><circle cx="890.75" cy="1464.5" r="2"/><circle cx="910.34" cy="1464.5" r="2"/><circle cx="929.93" cy="1464.5" r="2"/><circle cx="949.52" cy="1464.5" r="2"/><circle cx="969.11" cy="1464.5" r="2"/><circle cx="988.7" cy="1464.5" r="2"/><circle cx="1008.29" cy="1464.5" r="2"/><circle cx="1027.88" cy="1464.5" r="2"/><circle cx="1047.47" cy="1464.5" r="2"/><circle cx="1067.06" cy="1464.5" r="2"/><circle cx="1086.65" cy="1464.5" r="2"/><circle cx="1106.24" cy="1464.5" r="2"/><circle cx="1125.83" cy="1464.5" r="2"/><circle cx="1145.42" cy="1464.5" r="2"/><circle cx="1165.01" cy="1464.5" r="2"/><circle cx="1184.6" cy="1464.5" r="2"/><circle cx="792.8" cy="1444.7" r="2"/><circle cx="812.39" cy="1444.7" r="2"/><circle cx="831.98" cy="1444.7" r="2"/><circle cx="851.57" cy="1444.7" r="2"/><circle cx="871.16" cy="1444.7" r="2"/><circle cx="890.75" cy="1444.7" r="2"/><circle cx="910.34" cy="1444.7" r="2"/><circle cx="929.93" cy="1444.7" r="2"/><circle cx="949.52" cy="1444.7" r="2"/><circle cx="969.11" cy="1444.7" r="2"/><circle cx="988.7" cy="1444.7" r="2"/><circle cx="1008.29" cy="1444.7" r="2"/><circle cx="1027.88" cy="1444.7" r="2"/><circle cx="1047.47" cy="1444.7" r="2"/><circle cx="1067.06" cy="1444.7" r="2"/><circle cx="1086.65" cy="1444.7" r="2"/><circle cx="1106.24" cy="1444.7" r="2"/><circle cx="1125.83" cy="1444.7" r="2"/><circle cx="1145.42" cy="1444.7" r="2"/><circle cx="1165.01" cy="1444.7" r="2"/><circle cx="1184.6" cy="1444.7" r="2"/><circle cx="792.8" cy="1424.9" r="2"/><circle cx="812.39" cy="1424.9" r="2"/><circle cx="831.98" cy="1424.9" r="2"/><circle cx="851.57" cy="1424.9" r="2"/><circle cx="871.16" cy="1424.9" r="2"/><circle cx="890.75" cy="1424.9" r="2"/><circle cx="910.34" cy="1424.9" r="2"/><circle cx="929.93" cy="1424.9" r="2"/><circle cx="949.52" cy="1424.9" r="2"/><circle cx="969.11" cy="1424.9" r="2"/><circle cx="988.7" cy="1424.9" r="2"/><circle cx="1008.29" cy="1424.9" r="2"/><circle cx="1027.88" cy="1424.9" r="2"/><circle cx="1047.47" cy="1424.9" r="2"/><circle cx="1067.06" cy="1424.9" r="2"/><circle cx="1086.65" cy="1424.9" r="2"/><circle cx="1106.24" cy="1424.9" r="2"/><circle cx="1125.83" cy="1424.9" r="2"/><circle cx="1145.42" cy="1424.9" r="2"/><circle cx="1165.01" cy="1424.9" r="2"/><circle cx="1184.6" cy="1424.9" r="2"/><circle cx="792.8" cy="1405.1" r="2"/><circle cx="812.39" cy="1405.1" r="2"/><circle cx="831.98" cy="1405.1" r="2"/><circle cx="851.57" cy="1405.1" r="2"/><circle cx="871.16" cy="1405.1" r="2"/><circle cx="890.75" cy="1405.1" r="2"/><circle cx="910.34" cy="1405.1" r="2"/><circle cx="929.93" cy="1405.1" r="2"/><circle cx="949.52" cy="1405.1" r="2"/><circle cx="969.11" cy="1405.1" r="2"/><circle cx="988.7" cy="1405.1" r="2"/><circle cx="1008.29" cy="1405.1" r="2"/><circle cx="1027.88" cy="1405.1" r="2"/><circle cx="1047.47" cy="1405.1" r="2"/><circle cx="1067.06" cy="1405.1" r="2"/><circle cx="1086.65" cy="1405.1" r="2"/><circle cx="1106.24" cy="1405.1" r="2"/><circle cx="1125.83" cy="1405.1" r="2"/><circle cx="1145.42" cy="1405.1" r="2"/><circle cx="1165.01" cy="1405.1" r="2"/><circle cx="1184.6" cy="1405.1" r="2"/><circle cx="792.8" cy="1385.3" r="2"/><circle cx="812.39" cy="1385.3" r="2"/><circle cx="831.98" cy="1385.3" r="2"/><circle cx="851.57" cy="1385.3" r="2"/><circle cx="871.16" cy="1385.3" r="2"/><circle cx="890.75" cy="1385.3" r="2"/><circle cx="910.34" cy="1385.3" r="2"/><circle cx="929.93" cy="1385.3" r="2"/><circle cx="949.52" cy="1385.3" r="2"/><circle cx="969.11" cy="1385.3" r="2"/><circle cx="988.7" cy="1385.3" r="2"/><circle cx="1008.29" cy="1385.3" r="2"/><circle cx="1027.88" cy="1385.3" r="2"/><circle cx="1047.47" cy="1385.3" r="2"/><circle cx="1067.06" cy="1385.3" r="2"/><circle cx="1086.65" cy="1385.3" r="2"/><circle cx="1106.24" cy="1385.3" r="2"/><circle cx="1125.83" cy="1385.3" r="2"/><circle cx="1145.42" cy="1385.3" r="2"/><circle cx="1165.01" cy="1385.3" r="2"/><circle cx="1184.6" cy="1385.3" r="2"/><circle cx="792.8" cy="1365.5" r="2"/><circle cx="812.39" cy="1365.5" r="2"/><circle cx="831.98" cy="1365.5" r="2"/><circle cx="851.57" cy="1365.5" r="2"/><circle cx="871.16" cy="1365.5" r="2"/><circle cx="890.75" cy="1365.5" r="2"/><circle cx="910.34" cy="1365.5" r="2"/><circle cx="929.93" cy="1365.5" r="2"/><circle cx="949.52" cy="1365.5" r="2"/><circle cx="969.11" cy="1365.5" r="2"/><circle cx="988.7" cy="1365.5" r="2"/><circle cx="1008.29" cy="1365.5" r="2"/><circle cx="1027.88" cy="1365.5" r="2"/><circle cx="1047.47" cy="1365.5" r="2"/><circle cx="1067.06" cy="1365.5" r="2"/><circle cx="1086.65" cy="1365.5" r="2"/><circle cx="1106.24" cy="1365.5" r="2"/><circle cx="1125.83" cy="1365.5" r="2"/><circle cx="1145.42" cy="1365.5" r="2"/><circle cx="1165.01" cy="1365.5" r="2"/><circle cx="1184.6" cy="1365.5" r="2"/><circle cx="792.8" cy="1345.7" r="2"/><circle cx="812.39" cy="1345.7" r="2"/><circle cx="831.98" cy="1345.7" r="2"/><circle cx="851.57" cy="1345.7" r="2"/><circle cx="871.16" cy="1345.7" r="2"/><circle cx="890.75" cy="1345.7" r="2"/><circle cx="910.34" cy="1345.7" r="2"/><circle cx="929.93" cy="1345.7" r="2"/><circle cx="949.52" cy="1345.7" r="2"/><circle cx="969.11" cy="1345.7" r="2"/><circle cx="988.7" cy="1345.7" r="2"/><circle cx="1008.29" cy="1345.7" r="2"/><circle cx="1027.88" cy="1345.7" r="2"/><circle cx="1047.47" cy="1345.7" r="2"/><circle cx="1067.06" cy="1345.7" r="2"/><circle cx="1086.65" cy="1345.7" r="2"/><circle cx="1106.24" cy="1345.7" r="2"/><circle cx="1125.83" cy="1345.7" r="2"/><circle cx="1145.42" cy="1345.7" r="2"/><circle cx="1165.01" cy="1345.7" r="2"/><circle cx="1184.6" cy="1345.7" r="2"/><circle cx="792.8" cy="1325.9" r="2"/><circle cx="812.39" cy="1325.9" r="2"/><circle cx="831.98" cy="1325.9" r="2"/><circle cx="851.57" cy="1325.9" r="2"/><circle cx="871.16" cy="1325.9" r="2"/><circle cx="890.75" cy="1325.9" r="2"/><circle cx="910.34" cy="1325.9" r="2"/><circle cx="929.93" cy="1325.9" r="2"/><circle cx="949.52" cy="1325.9" r="2"/><circle cx="969.11" cy="1325.9" r="2"/><circle cx="988.7" cy="1325.9" r="2"/><circle cx="1008.29" cy="1325.9" r="2"/><circle cx="1027.88" cy="1325.9" r="2"/><circle cx="1047.47" cy="1325.9" r="2"/><circle cx="1067.06" cy="1325.9" r="2"/><circle cx="1086.65" cy="1325.9" r="2"/><circle cx="1106.24" cy="1325.9" r="2"/><circle cx="1125.83" cy="1325.9" r="2"/><circle cx="1145.42" cy="1325.9" r="2"/><circle cx="1165.01" cy="1325.9" r="2"/><circle cx="1184.6" cy="1325.9" r="2"/><circle cx="792.8" cy="1306.1" r="2"/><circle cx="812.39" cy="1306.1" r="2"/><circle cx="831.98" cy="1306.1" r="2"/><circle cx="851.57" cy="1306.1" r="2"/><circle cx="871.16" cy="1306.1" r="2"/><circle cx="890.75" cy="1306.1" r="2"/><circle cx="910.34" cy="1306.1" r="2"/><circle cx="929.93" cy="1306.1" r="2"/><circle cx="949.52" cy="1306.1" r="2"/><circle cx="969.11" cy="1306.1" r="2"/><circle cx="988.7" cy="1306.1" r="2"/><circle cx="1008.29" cy="1306.1" r="2"/><circle cx="1027.88" cy="1306.1" r="2"/><circle cx="1047.47" cy="1306.1" r="2"/><circle cx="1067.06" cy="1306.1" r="2"/><circle cx="1086.65" cy="1306.1" r="2"/><circle cx="1106.24" cy="1306.1" r="2"/><circle cx="1125.83" cy="1306.1" r="2"/><circle cx="1145.42" cy="1306.1" r="2"/><circle cx="1165.01" cy="1306.1" r="2"/><circle cx="1184.6" cy="1306.1" r="2"/><circle cx="792.8" cy="1286.3" r="2"/><circle cx="812.39" cy="1286.3" r="2"/><circle cx="831.98" cy="1286.3" r="2"/><circle cx="851.57" cy="1286.3" r="2"/><circle cx="871.16" cy="1286.3" r="2"/><circle cx="890.75" cy="1286.3" r="2"/><circle cx="910.34" cy="1286.3" r="2"/><circle cx="929.93" cy="1286.3" r="2"/><circle cx="949.52" cy="1286.3" r="2"/><circle cx="969.11" cy="1286.3" r="2"/><circle cx="988.7" cy="1286.3" r="2"/><circle cx="1008.29" cy="1286.3" r="2"/><circle cx="1027.88" cy="1286.3" r="2"/><circle cx="1047.47" cy="1286.3" r="2"/><circle cx="1067.06" cy="1286.3" r="2"/><circle cx="1086.65" cy="1286.3" r="2"/><circle cx="1106.24" cy="1286.3" r="2"/><circle cx="1125.83" cy="1286.3" r="2"/><circle cx="1145.42" cy="1286.3" r="2"/><circle cx="1165.01" cy="1286.3" r="2"/><circle cx="1184.6" cy="1286.3" r="2"/><circle cx="792.8" cy="1266.5" r="2"/><circle cx="812.39" cy="1266.5" r="2"/><circle cx="831.98" cy="1266.5" r="2"/><circle cx="851.57" cy="1266.5" r="2"/><circle cx="871.16" cy="1266.5" r="2"/><circle cx="890.75" cy="1266.5" r="2"/><circle cx="910.34" cy="1266.5" r="2"/><circle cx="929.93" cy="1266.5" r="2"/><circle cx="949.52" cy="1266.5" r="2"/><circle cx="969.11" cy="1266.5" r="2"/><circle cx="988.7" cy="1266.5" r="2"/><circle cx="1008.29" cy="1266.5" r="2"/><circle cx="1027.88" cy="1266.5" r="2"/><circle cx="1047.47" cy="1266.5" r="2"/><circle cx="1067.06" cy="1266.5" r="2"/><circle cx="1086.65" cy="1266.5" r="2"/><circle cx="1106.24" cy="1266.5" r="2"/><circle cx="1125.83" cy="1266.5" r="2"/><circle cx="1145.42" cy="1266.5" r="2"/><circle cx="1165.01" cy="1266.5" r="2"/><circle cx="1184.6" cy="1266.5" r="2"/><circle cx="792.8" cy="1246.7" r="2"/><circle cx="812.39" cy="1246.7" r="2"/><circle cx="831.98" cy="1246.7" r="2"/><circle cx="851.57" cy="1246.7" r="2"/><circle cx="871.16" cy="1246.7" r="2"/><circle cx="890.75" cy="1246.7" r="2"/><circle cx="910.34" cy="1246.7" r="2"/><circle cx="929.93" cy="1246.7" r="2"/><circle cx="949.52" cy="1246.7" r="2"/><circle cx="969.11" cy="1246.7" r="2"/><circle cx="988.7" cy="1246.7" r="2"/><circle cx="1008.29" cy="1246.7" r="2"/><circle cx="1027.88" cy="1246.7" r="2"/><circle cx="1047.47" cy="1246.7" r="2"/><circle cx="1067.06" cy="1246.7" r="2"/><circle cx="1086.65" cy="1246.7" r="2"/><circle cx="1106.24" cy="1246.7" r="2"/><circle cx="1125.83" cy="1246.7" r="2"/><circle cx="1145.42" cy="1246.7" r="2"/><circle cx="1165.01" cy="1246.7" r="2"/><circle cx="1184.6" cy="1246.7" r="2"/><circle cx="792.8" cy="1226.9" r="2"/><circle cx="812.39" cy="1226.9" r="2"/><circle cx="831.98" cy="1226.9" r="2"/><circle cx="851.57" cy="1226.9" r="2"/><circle cx="871.16" cy="1226.9" r="2"/><circle cx="890.75" cy="1226.9" r="2"/><circle cx="910.34" cy="1226.9" r="2"/><circle cx="929.93" cy="1226.9" r="2"/><circle cx="949.52" cy="1226.9" r="2"/><circle cx="969.11" cy="1226.9" r="2"/><circle cx="988.7" cy="1226.9" r="2"/><circle cx="1008.29" cy="1226.9" r="2"/><circle cx="1027.88" cy="1226.9" r="2"/><circle cx="1047.47" cy="1226.9" r="2"/><circle cx="1067.06" cy="1226.9" r="2"/><circle cx="1086.65" cy="1226.9" r="2"/><circle cx="1106.24" cy="1226.9" r="2"/><circle cx="1125.83" cy="1226.9" r="2"/><circle cx="1145.42" cy="1226.9" r="2"/><circle cx="1165.01" cy="1226.9" r="2"/><circle cx="1184.6" cy="1226.9" r="2"/><circle cx="812.39" cy="1207.1" r="2"/><circle cx="831.98" cy="1207.1" r="2"/><circle cx="851.57" cy="1207.1" r="2"/><circle cx="871.16" cy="1207.1" r="2"/><circle cx="890.75" cy="1207.1" r="2"/><circle cx="910.34" cy="1207.1" r="2"/><circle cx="929.93" cy="1207.1" r="2"/><circle cx="949.52" cy="1207.1" r="2"/><circle cx="969.11" cy="1207.1" r="2"/><circle cx="988.7" cy="1207.1" r="2"/><circle cx="1008.29" cy="1207.1" r="2"/><circle cx="1027.88" cy="1207.1" r="2"/><circle cx="1047.47" cy="1207.1" r="2"/><circle cx="1067.06" cy="1207.1" r="2"/><circle cx="1086.65" cy="1207.1" r="2"/><circle cx="1106.24" cy="1207.1" r="2"/><circle cx="1125.83" cy="1207.1" r="2"/><circle cx="1145.42" cy="1207.1" r="2"/><circle cx="1165.01" cy="1207.1" r="2"/><circle cx="1184.6" cy="1207.1" r="2"/><circle cx="812.39" cy="1187.3" r="2"/><circle cx="871.16" cy="1187.3" r="2"/><circle cx="890.75" cy="1187.3" r="2"/><circle cx="910.34" cy="1187.3" r="2"/><circle cx="929.93" cy="1187.3" r="2"/><circle cx="949.52" cy="1187.3" r="2"/><circle cx="969.11" cy="1187.3" r="2"/><circle cx="988.7" cy="1187.3" r="2"/><circle cx="1008.29" cy="1187.3" r="2"/><circle cx="1027.88" cy="1187.3" r="2"/><circle cx="1047.47" cy="1187.3" r="2"/><circle cx="1067.06" cy="1187.3" r="2"/><circle cx="1086.65" cy="1187.3" r="2"/><circle cx="1106.24" cy="1187.3" r="2"/><circle cx="1125.83" cy="1187.3" r="2"/><circle cx="1145.42" cy="1187.3" r="2"/><circle cx="1165.01" cy="1187.3" r="2"/><circle cx="1184.6" cy="1187.3" r="2"/><circle cx="890.75" cy="1167.5" r="2"/><circle cx="910.34" cy="1167.5" r="2"/><circle cx="929.93" cy="1167.5" r="2"/><circle cx="949.52" cy="1167.5" r="2"/><circle cx="969.11" cy="1167.5" r="2"/><circle cx="988.7" cy="1167.5" r="2"/><circle cx="1008.29" cy="1167.5" r="2"/><circle cx="1027.88" cy="1167.5" r="2"/><circle cx="1047.47" cy="1167.5" r="2"/><circle cx="1067.06" cy="1167.5" r="2"/><circle cx="1086.65" cy="1167.5" r="2"/><circle cx="1106.24" cy="1167.5" r="2"/><circle cx="1125.83" cy="1167.5" r="2"/><circle cx="1145.42" cy="1167.5" r="2"/><circle cx="1165.01" cy="1167.5" r="2"/><circle cx="1184.6" cy="1167.5" r="2"/><circle cx="910.34" cy="1147.7" r="2"/><circle cx="929.93" cy="1147.7" r="2"/><circle cx="949.52" cy="1147.7" r="2"/><circle cx="969.11" cy="1147.7" r="2"/><circle cx="988.7" cy="1147.7" r="2"/><circle cx="1008.29" cy="1147.7" r="2"/><circle cx="1027.88" cy="1147.7" r="2"/><circle cx="1047.47" cy="1147.7" r="2"/><circle cx="1067.06" cy="1147.7" r="2"/><circle cx="1086.65" cy="1147.7" r="2"/><circle cx="1106.24" cy="1147.7" r="2"/><circle cx="1125.83" cy="1147.7" r="2"/><circle cx="1145.42" cy="1147.7" r="2"/><circle cx="1165.01" cy="1147.7" r="2"/><circle cx="831.98" cy="1127.9" r="2"/><circle cx="910.34" cy="1127.9" r="2"/><circle cx="929.93" cy="1127.9" r="2"/><circle cx="949.52" cy="1127.9" r="2"/><circle cx="969.11" cy="1127.9" r="2"/><circle cx="988.7" cy="1127.9" r="2"/><circle cx="1008.29" cy="1127.9" r="2"/><circle cx="1027.88" cy="1127.9" r="2"/><circle cx="1047.47" cy="1127.9" r="2"/><circle cx="1067.06" cy="1127.9" r="2"/><circle cx="1086.65" cy="1127.9" r="2"/><circle cx="1106.24" cy="1127.9" r="2"/><circle cx="1125.83" cy="1127.9" r="2"/><circle cx="1145.42" cy="1127.9" r="2"/><circle cx="929.93" cy="1108.1" r="2"/><circle cx="969.11" cy="1108.1" r="2"/><circle cx="988.7" cy="1108.1" r="2"/><circle cx="1008.29" cy="1108.1" r="2"/><circle cx="1027.88" cy="1108.1" r="2"/><circle cx="1047.47" cy="1108.1" r="2"/><circle cx="1067.06" cy="1108.1" r="2"/><circle cx="1086.65" cy="1108.1" r="2"/><circle cx="1106.24" cy="1108.1" r="2"/><circle cx="1125.83" cy="1108.1" r="2"/><circle cx="969.11" cy="1088.3" r="2"/><circle cx="988.7" cy="1088.3" r="2"/><circle cx="1008.29" cy="1088.3" r="2"/><circle cx="1027.88" cy="1088.3" r="2"/><circle cx="1047.47" cy="1088.3" r="2"/><circle cx="1067.06" cy="1088.3" r="2"/><circle cx="1086.65" cy="1088.3" r="2"/><circle cx="988.7" cy="1068.5" r="2"/><circle cx="1008.29" cy="1068.5" r="2"/><circle cx="1027.88" cy="1068.5" r="2"/><circle cx="1047.47" cy="1068.5" r="2"/><circle cx="1067.06" cy="1068.5" r="2"/><circle cx="1106.24" cy="1068.5" r="2"/><circle cx="1165.01" cy="1068.5" r="2"/><circle cx="1184.6" cy="1068.5" r="2"/></g>
<rect x="783" y="1058.6" width="411.4" height="415.8" fill="none" stroke="#000" stroke-width="2"/>
<text class="pl" transform="translate(754.5 1028.8) scale(1.2 1)">f</text>
<path d="M792.8 1475.4v9" stroke="#000" stroke-width="2"/>
<text class="tl" transform="translate(814.1 1522) scale(1.09 1)" text-anchor="end">-10</text>
<circle cx="824.3" cy="1498.5" r="3.95" fill="none" stroke="#000" stroke-width="1.8"/>
<path d="M890.75 1475.4v9" stroke="#000" stroke-width="2"/>
<text class="tl" transform="translate(899.05 1522) scale(1.09 1)" text-anchor="end">-5</text>
<circle cx="909.25" cy="1498.5" r="3.95" fill="none" stroke="#000" stroke-width="1.8"/>
<path d="M988.7 1475.4v9" stroke="#000" stroke-width="2"/>
<text class="tl" transform="translate(989.6 1522) scale(1.12 1)" text-anchor="end">0</text>
<circle cx="999.8" cy="1498.5" r="3.95" fill="none" stroke="#000" stroke-width="1.8"/>
<path d="M1086.65 1475.4v9" stroke="#000" stroke-width="2"/>
<text class="tl" transform="translate(1087.55 1522) scale(1.12 1)" text-anchor="end">5</text>
<circle cx="1097.75" cy="1498.5" r="3.95" fill="none" stroke="#000" stroke-width="1.8"/>
<path d="M1184.6 1475.4v9" stroke="#000" stroke-width="2"/>
<text class="tl" transform="translate(1197.6 1522) scale(1.12 1)" text-anchor="end">10</text>
<circle cx="1207.8" cy="1498.5" r="3.95" fill="none" stroke="#000" stroke-width="1.8"/>
<rect x="1221.4" y="1105.65" width="39.7" height="332.6" fill="url(#cbg)"/>
<path d="M1221.4 1105.95L1241.25 1088.45L1261.1 1105.95Z" fill="#f00"/>
<path d="M1221.4 1437.95L1241.25 1455.45L1261.1 1437.95Z" fill="#00f"/>
<path d="M1221.4 1105.65L1241.25 1088.45L1261.1 1105.65L1261.1 1438.25L1241.25 1455.45L1221.4 1438.25Z" fill="none" stroke="#000" stroke-width="2.2" stroke-linejoin="miter"/>
<path d="M1222.4 1437.7H1260.1" stroke="#fff" stroke-width="1.1"/>
<path d="M1262 1120.2h8.9" stroke="#000" stroke-width="2"/>
<text class="ct" transform="translate(1281.3 1133.8) scale(1.05 1)">20</text>
<path d="M1262 1271.95h8.9" stroke="#000" stroke-width="2"/>
<text class="ct" transform="translate(1281.3 1285.55) scale(1.05 1)">0</text>
<path d="M1262 1423.7h8.9" stroke="#000" stroke-width="2"/>
<text class="ct" transform="translate(1281.5 1437.3) scale(1.19 1)">−20</text>
<text class="cl" transform="translate(1222.2 1272.05) rotate(90) scale(0.895 1)" text-anchor="middle">TCHP</text>
</g>
</svg>
</body></html>
